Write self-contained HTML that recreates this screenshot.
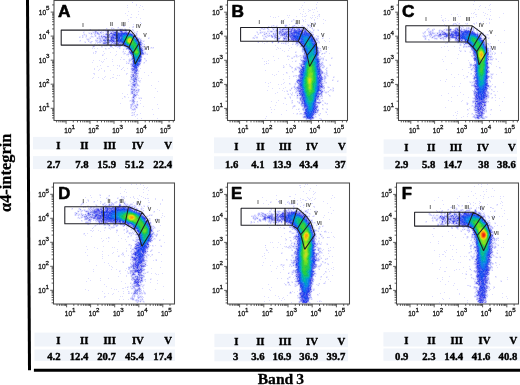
<!DOCTYPE html>
<html lang="en"><head><meta charset="utf-8"><title>Band 3 / α4-integrin flow cytometry</title>
<style>
html,body{margin:0;padding:0;background:#fff}
body{width:520px;height:385px;overflow:hidden}
svg{display:block}
.t{font:6.5px "Liberation Sans",sans-serif;fill:#111;stroke:#111;stroke-width:.28px}
.s{font-size:6.2px}
.g{font:bold 5.3px "Liberation Sans",sans-serif;fill:#4a4a4a;text-anchor:middle}
.L{font:bold 17.3px "Liberation Sans",sans-serif;fill:#000;stroke:#000;stroke-width:.6px;stroke-linejoin:round}
.n{font:bold 10.7px "Liberation Serif",serif;fill:#000;stroke:#000;stroke-width:.4px;text-anchor:end}
.b{font:bold 15.6px "Liberation Serif",serif;fill:#000;stroke:#000;stroke-width:.3px;word-spacing:-.8px}
.y{font:bold 16.4px "Liberation Serif",serif;fill:#000;stroke:#000;stroke-width:.25px}
</style></head><body>
<svg width="520" height="385" viewBox="0 0 520 385">
<rect width="520" height="385" fill="#fff"/>
<rect x="33" y="136.9" width="140" height="12.5" fill="#f0f4fa"/>
<rect x="33" y="156.1" width="140" height="13" fill="#f0f4fa"/>
<text class="n" x="60.4" y="148.6">I</text>
<text class="n" x="60.4" y="168.1">2.7</text>
<text class="n" x="88.5" y="148.6">II</text>
<text class="n" x="88.5" y="168.1">7.8</text>
<text class="n" x="116" y="148.6">III</text>
<text class="n" x="116" y="168.1">15.9</text>
<text class="n" x="143.8" y="148.6">IV</text>
<text class="n" x="143.8" y="168.1">51.2</text>
<text class="n" x="172" y="148.6">V</text>
<text class="n" x="172" y="168.1">22.4</text>
<rect x="214" y="137.4" width="132.5" height="15.8" fill="#f0f4fa"/>
<rect x="214" y="156.3" width="132.5" height="12.9" fill="#f0f4fa"/>
<text class="n" x="238.3" y="149.8">I</text>
<text class="n" x="238.3" y="168.1">1.6</text>
<text class="n" x="264.6" y="149.8">II</text>
<text class="n" x="264.6" y="168.1">4.1</text>
<text class="n" x="291.4" y="149.8">III</text>
<text class="n" x="291.4" y="168.1">13.9</text>
<text class="n" x="318" y="149.8">IV</text>
<text class="n" x="318" y="168.1">43.4</text>
<text class="n" x="345.6" y="149.8">V</text>
<text class="n" x="345.6" y="168.1">37</text>
<rect x="383.6" y="139.4" width="133.4" height="14.4" fill="#f0f4fa"/>
<rect x="383.6" y="156.7" width="133.4" height="12.7" fill="#f0f4fa"/>
<text class="n" x="408.3" y="150.8">I</text>
<text class="n" x="408.3" y="168.4">2.9</text>
<text class="n" x="435.3" y="150.8">II</text>
<text class="n" x="435.3" y="168.4">5.8</text>
<text class="n" x="462.2" y="150.8">III</text>
<text class="n" x="462.2" y="168.4">14.7</text>
<text class="n" x="489" y="150.8">IV</text>
<text class="n" x="489" y="168.4">38</text>
<text class="n" x="515.8" y="150.8">V</text>
<text class="n" x="515.8" y="168.4">38.6</text>
<rect x="34.5" y="332.6" width="140.5" height="13.9" fill="#f0f4fa"/>
<rect x="34.5" y="349.5" width="140.5" height="11.4" fill="#f0f4fa"/>
<text class="n" x="60.5" y="344.2">I</text>
<text class="n" x="60.5" y="359.7">4.2</text>
<text class="n" x="88.4" y="344.2">II</text>
<text class="n" x="88.4" y="359.7">12.4</text>
<text class="n" x="115.9" y="344.2">III</text>
<text class="n" x="115.9" y="359.7">20.7</text>
<text class="n" x="143.8" y="344.2">IV</text>
<text class="n" x="143.8" y="359.7">45.4</text>
<text class="n" x="172" y="344.2">V</text>
<text class="n" x="172" y="359.7">17.4</text>
<rect x="214.4" y="333.8" width="133.6" height="13.3" fill="#f0f4fa"/>
<rect x="214.4" y="349.6" width="133.6" height="11.7" fill="#f0f4fa"/>
<text class="n" x="238.3" y="344.8">I</text>
<text class="n" x="238.3" y="359.9">3</text>
<text class="n" x="264.5" y="344.8">II</text>
<text class="n" x="264.5" y="359.9">3.6</text>
<text class="n" x="291.3" y="344.8">III</text>
<text class="n" x="291.3" y="359.9">16.9</text>
<text class="n" x="318" y="344.8">IV</text>
<text class="n" x="318" y="359.9">36.9</text>
<text class="n" x="345.3" y="344.8">V</text>
<text class="n" x="345.3" y="359.9">39.7</text>
<rect x="383.4" y="332.2" width="136.6" height="14.3" fill="#f0f4fa"/>
<rect x="383.4" y="348.5" width="136.6" height="12.3" fill="#f0f4fa"/>
<text class="n" x="408.4" y="344.2">I</text>
<text class="n" x="408.4" y="359.7">0.9</text>
<text class="n" x="435.6" y="344.2">II</text>
<text class="n" x="435.6" y="359.7">2.3</text>
<text class="n" x="463" y="344.2">III</text>
<text class="n" x="463" y="359.7">14.4</text>
<text class="n" x="490.4" y="344.2">IV</text>
<text class="n" x="490.4" y="359.7">41.6</text>
<text class="n" x="517.3" y="344.2">V</text>
<text class="n" x="517.3" y="359.7">40.8</text>
<g transform="translate(0,.5)" fill="none" shape-rendering="crispEdges">
<path stroke="#ddf" d="M0 0m474 1h1m-171 1h1m12 0h1m-182 2h1m179 0h1m156 0h1m16 0h1m-364 1h1m8 0h1m3 0h1m161 0h1m177 0h1m8 0h1m-348 1h1m336 0h1m-353 1h1m11 0h1m161 0h1m14 0h1m168 0h1m-170 1h1m-174 1h1m155 0h1m3 0h1m4 0h1m3 0h1m1 0h1m160 0h1m2 0h1m9 0h1m1 0h1m-182 1h2m-183 1h1m9 0h1m164 0h1m4 0h1m8 0h1m172 0h1m-178 1h1m160 0h1m8 0h1m-359 1h1m174 0h1m4 0h1m165 0h1m1 0h1m11 0h1m17 0h1m-373 1h1m6 0h1m163 0h1m148 0h1m5 0h1m17 0h2m10 0h1m-361 1h1m159 0h1m1 0h1m16 0h1m5 0h1m1 0h1m126 0h1m42 0h1m5 0h1m-221 1h1m7 0h1m17 0h1m5 0h1m1 0h2m11 0h1m1 0h1m138 0h1m1 0h1m15 0h1m-347 1h2m4 0h1m136 0h1m1 0h1m12 0h1m21 0h1m1 0h1m2 0h1m125 0h1m29 0h1m1 0h1m25 0h1m-360 1h1m170 0h1m5 0h1m127 0h1m8 0h1m31 0h1m2 0h1m-362 1h1m155 0h1m17 0h1m2 0h1m8 0h1m8 0h1m167 0h1m-178 1h1m10 0h1m119 0h1m2 0h1m-321 1h1m153 0h2m19 0h1m1 0h1m137 0h1m39 0h1m-344 1h1m169 0h1m3 0h2m141 0h1m18 0h1m3 0h1m8 0h1m-349 1h1m181 0h1m129 0h2m10 0h1m7 0h2m1 0h1m9 0h1m2 0h1m-357 1h1m155 0h1m7 0h1m9 0h1m4 0h1m2 0h1m128 0h1m29 0h1m-352 1h1m160 0h1m8 0h1m4 0h1m157 0h1m3 0h1m-337 1h1m161 0h1m7 0h2m5 0h2m-174 1h1m2 0h2m151 0h2m2 0h1m6 0h2m158 0h2m5 0h1m2 0h1m6 0h1m-206 1h1m4 0h2m1 0h1m4 0h1m22 0h2m144 0h1m7 0h1m8 0h1m1 0h2m1 0h1m4 0h1m-359 1h1m4 0h1m139 0h1m12 0h1m155 0h1m25 0h1m2 0h1m4 0h3m2 0h1m-367 1h1m6 0h2m3 0h1m3 0h1m9 0h1m142 0h1m1 0h1m1 0h1m153 0h1m6 0h1m1 0h2m7 0h1m52 0h1m-411 1h1m10 0h1m3 0h1m8 0h1m8 0h1m140 0h1m6 0h1m2 0h1m28 0h1m121 0h1m1 0h2m11 0h1m4 0h1m24 0h1m13 0h1m-395 1h1m3 0h1m3 0h1m3 0h1m1 0h1m152 0h1m9 0h1m3 0h1m1 0h1m32 0h1m114 0h1m2 0h1m2 0h1m1 0h1m3 0h2m1 0h1m5 0h3m26 0h1m-382 1h1m1 0h1m2 0h2m4 0h1m2 0h2m23 0h1m126 0h1m3 0h2m8 0h1m36 0h1m9 0h1m107 0h1m8 0h1m-348 1h1m3 0h1m1 0h1m36 0h2m129 0h1m10 0h3m156 0h3m43 0h1m-383 1h1m2 0h4m162 0h1m1 0h1m1 0h2m4 0h1m34 0h1m2 0h1m5 0h1m107 0h1m11 0h1m39 0h1m12 0h1m-414 1h1m15 0h1m1 0h1m165 0h1m2 0h1m3 0h1m2 0h1m3 0h2m1 0h1m148 0h1m2 0h1m1 0h1m3 0h1m1 0h1m-347 1h2m1 0h1m170 0h1m152 0h2m5 0h1m1 0h2m3 0h3m3 0h1m2 0h1m35 0h1m-386 1h1m2 0h1m1 0h1m5 0h1m143 0h1m21 0h1m13 0h1m25 0h1m1 0h1m11 0h1m107 0h1m4 0h1m1 0h1m6 0h1m30 0h1m-384 1h1m1 0h2m162 0h1m10 0h2m1 0h1m156 0h1m12 0h1m33 0h1m-396 1h1m10 0h1m2 0h1m221 0h1m173 0h1m-407 1h1m4 0h1m5 0h1m168 0h1m11 0h1m3 0h1m2 0h1m24 0h1m8 0h1m3 0h1m-239 1h1m10 0h1m159 0h1m22 0h2m8 0h1m22 0h1m138 0h1m4 0h2m36 0h1m3 0h1m-410 1h1m1 0h1m4 0h1m5 0h3m1 0h1m151 0h1m30 0h1m149 0h1m14 0h1m3 0h1m20 0h1m4 0h1m-397 1h1m8 0h3m6 0h2m28 0h1m153 0h2m167 0h3m-376 1h1m3 0h1m8 0h1m3 0h1m2 0h1m162 0h1m12 0h1m175 0h1m3 0h1m-367 1h1m14 0h1m326 0h1m2 0h1m6 0h1m10 0h1m1 0h1m-356 1h1m4 0h1m1 0h1m5 0h1m16 0h2m133 0h1m13 0h1m36 0h1m112 0h1m17 0h1m6 0h1m-375 1h1m1 0h1m2 0h1m10 0h2m3 0h1m164 0h1m1 0h1m8 0h1m29 0h1m139 0h1m-333 1h1m15 0h1m132 0h1m213 0h1m-363 1h1m153 0h1m5 0h1m159 0h1m10 0h1m11 0h1m-376 1h1m6 0h1m12 0h1m8 0h1m17 0h1m140 0h1m34 0h1m152 0h1m16 0h1m3 0h1m-401 1h1m16 0h1m33 0h1m157 0h2m168 0h1m16 0h1m11 0h1m-409 1h1m1 0h1m8 0h1m20 0h1m2 0h1m15 0h1m158 0h1m15 0h1m9 0h1m142 0h1m28 0h1m-386 1h1m9 0h1m17 0h1m158 0h1m17 0h1m136 0h1m33 0h1m1 0h1m-380 1h1m186 0h1m169 0h1m-345 1h1m2 0h1m141 0h1m15 0h1m8 0h1m3 0h1m16 0h1m4 0h1m120 0h1m25 0h1m1 0h1m-353 1h1m9 0h1m170 0h1m16 0h1m153 0h1m15 0h1m1 0h1m-386 1h1m155 0h1m15 0h1m12 0h1m28 0h1m1 0h1m134 0h1m32 0h1m2 0h1m-390 1h1m7 0h1m7 0h1m2 0h2m5 0h1m157 0h1m12 0h2m139 0h1m30 0h1m15 0h1m-397 1h1m5 0h1m31 0h1m136 0h1m5 0h1m45 0h1m147 0h1m-368 1h1m1 0h1m8 0h1m13 0h1m14 0h1m122 0h1m1 0h1m25 0h1m8 0h1m141 0h1m30 0h1m23 0h1m-407 1h1m9 0h1m218 0h1m147 0h1m5 0h1m12 0h2m-222 1h1m31 0h1m21 0h1m128 0h1m22 0h1m-335 1h1m123 0h1m21 0h1m2 0h1m183 0h1m14 0h1m2 0h1m-392 1h1m12 0h1m3 0h1m1 0h1m163 0h1m38 0h1m149 0h1m15 0h1m-392 1h1m9 0h2m10 0h1m201 0h1m1 0h1m146 0h1m2 0h1m22 0h1m-374 1h1m7 0h1m6 0h1m152 0h1m8 0h1m167 0h3m18 0h1m-396 1h1m6 0h1m15 0h1m4 0h1m4 0h1m12 0h1m157 0h1m174 0h1m-380 1h1m4 0h1m199 0h1m21 0h1m3 0h1m120 0h1m15 0h1m9 0h1m15 0h1m-391 1h1m5 0h1m5 0h1m13 0h1m6 0h1m6 0h1m126 0h1m28 0h1m176 0h1m2 0h1m-371 1h1m26 0h1m146 0h1m47 0h1m-183 1h1m6 0h1m171 0h1m144 0h1m5 0h1m14 0h1m11 0h1m-409 1h2m31 0h2m4 0h1m166 0h1m23 0h1m3 0h1m-234 1h1m18 0h1m12 0h1m10 0h1m134 0h1m3 0h1m6 0h1m41 0h1m125 0h1m6 0h1m15 0h1m21 0h1m-380 1h1m1 0h1m11 0h1m16 0h1m125 0h1m20 0h1m167 0h1m10 0h1m13 0h1m-384 1h1m183 0h1m32 0h1m150 0h1m-381 1h1m4 0h1m5 0h1m7 0h2m182 0h1m26 0h1m130 0h1m18 0h1m15 0h1m1 0h1m-400 1h1m9 0h1m7 0h1m5 0h1m20 0h1m3 0h1m147 0h1m33 0h1m140 0h1m23 0h1m-386 1h1m26 0h1m6 0h1m145 0h1m12 0h1m26 0h1m122 0h1m26 0h1m-342 1h1m4 0h1m2 0h1m155 0h1m25 0h1m1 0h1m115 0h1m33 0h1m-317 1h1m286 0h1m-181 1h1m4 0h1m13 0h1m11 0h1m25 0h1m2 0h1m147 0h1m29 0h1m-367 1h1m130 0h1m14 0h1m13 0h1m162 0h1m27 0h1m-211 1h1m2 0h1m191 0h1m14 0h1m3 0h1m-362 1h1m4 0h1m14 0h1m171 0h2m164 0h1m-354 1h1m131 0h1m183 0h1m1 0h1m4 0h1m13 0h1m15 0h1m-359 1h1m2 0h1m150 0h1m9 0h1m33 0h1m158 0h1m6 0h1m-362 1h2m19 0h1m116 0h1m6 0h1m3 0h1m190 0h1m13 0h1m-354 1h3m156 0h1m27 0h1m166 0h1m-359 1h1m135 0h1m14 0h1m13 0h1m32 0h1m142 0h1m14 0h1m-352 1h2m19 0h1m126 0h1m38 0h1m164 0h1m4 0h2m2 0h1m-221 1h1m14 0h1m3 0h1m1 0h1m161 0h1m12 0h1m-352 1h1m12 0h3m137 0h1m14 0h1m1 0h1m5 0h1m23 0h1m125 0h1m24 0h1m-347 1h1m169 0h2m23 0h1m5 0h1m134 0h1m9 0h1m14 0h1m-351 1h1m155 0h1m3 0h1m21 0h1m1 0h1m118 0h1m15 0h1m-326 1h1m164 0h1m2 0h1m20 0h1m152 0h1m-347 1h1m7 0h1m17 0h1m144 0h1m19 0h1m131 0h1m16 0h1m26 0h1m8 0h1m-383 1h1m9 0h1m157 0h1m6 0h1m24 0h1m164 0h1m11 0h1m-366 1h1m164 0h1m174 0h1m-344 1h1m2 0h1m5 0h1m137 0h1m39 0h1m129 0h1m13 0h1m10 0h1m12 0h1m8 0h1m-365 1h1m139 0h1m28 0h1m16 0h4m130 0h1m9 0h1m25 0h1m14 0h1m-371 1h1m143 0h1m21 0h1m173 0h1m1 0h1m-355 1h1m19 0h1m142 0h1m190 0h1m11 0h1m-354 1h1m2 0h1m20 0h1m128 0h1m13 0h1m16 0h1m156 0h1m-345 1h1m1 0h1m3 0h1m138 0h1m198 0h1m11 0h1m12 0h1m-370 1h1m12 0h1m157 0h1m16 0h1m154 0h1m-343 1h1m3 0h1m1 0h1m132 0h1m174 0h1m38 0h1m-355 1h1m4 0h1m22 0h1m133 0h1m9 0h1m14 0h1m151 0h1m4 0h1m-323 1h1m118 0h1m2 0h1m21 0h1m188 0h1m-353 1h1m152 0h1m198 0h1m14 0h1m-366 1h1m163 0h1m18 0h1m138 0h1m27 0h1m-215 1h1m31 0h1m151 0h1m28 0h1m-345 1h1m152 0h1m9 0h1m12 0h1m140 0h1m10 0h1m6 0h2m-324 1h1m127 0h1m36 0h1m8 0h1m139 0h1m5 0h1m16 0h1m-360 1h1m182 0h1m138 0h1m2 0h1m18 0h1m7 0h1m-349 1h1m130 0h1m196 0h1m3 0h1m7 0h1m7 0h1m2 0h1m-173 1h1m146 0h1m11 0h1m10 0h2m-349 1h1m3 0h1m15 0h1m107 0h1m39 0h1m13 0h2m135 0h1m23 0h2m-175 1h1m4 0h1m165 0h1m-348 65h1m4 0h1m3 0h1m164 0h1m1 0h1m170 0h1m2 0h1m5 0h1m-345 1h1m155 0h2m15 0h1m-13 1h1m169 0h1m6 0h1m-362 1h1m23 0h1m2 0h1m-11 1h1m8 0h1m163 0h1m181 0h1m-368 1h1m17 0h1m342 0h1m-339 1h1m160 0h1m184 0h1m-371 1h1m178 0h1m9 0h1m157 0h1m11 0h1m2 0h1m-361 1h1m16 0h1m171 0h1m-196 1h1m185 0h1m7 0h1m160 0h1m-329 1h1m147 0h1m17 0h1m170 0h1m-395 1h1m48 0h1m136 0h1m55 0h1m140 0h1m6 0h1m-355 1h1m6 0h1m7 0h1m147 0h2m168 0h1m8 0h1m14 0h1m7 0h1m1 0h1m6 0h1m2 0h1m-419 1h1m5 0h1m8 0h1m29 0h1m2 0h1m9 0h1m118 0h1m44 0h1m4 0h1m21 0h1m103 0h1m49 0h1m-381 1h1m15 0h1m9 0h1m2 0h1m9 0h2m6 0h1m138 0h1m5 0h1m7 0h1m1 0h1m4 0h1m15 0h1m125 0h1m18 0h1m6 0h1m16 0h1m-363 1h1m16 0h1m6 0h1m113 0h1m25 0h2m10 0h1m-218 1h1m10 0h2m30 0h1m7 0h1m13 0h1m103 0h1m27 0h1m2 0h1m2 0h1m5 0h1m4 0h1m122 0h1m7 0h1m-355 1h1m199 0h1m34 0h1m155 0h1m21 0h1m-416 1h1m27 0h1m1 0h1m16 0h1m14 0h2m139 0h1m11 0h1m165 0h1m1 0h1m3 0h1m28 0h1m-420 1h1m16 0h1m8 0h1m1 0h1m1 0h1m11 0h1m34 0h1m102 0h1m33 0h1m13 0h2m14 0h1m142 0h1m4 0h1m3 0h1m20 0h1m-395 1h1m1 0h1m1 0h1m13 0h1m1 0h1m5 0h1m3 0h1m23 0h1m107 0h1m16 0h1m5 0h1m151 0h1m13 0h1m12 0h1m16 0h1m-385 1h2m1 0h2m4 0h1m5 0h1m2 0h1m1 0h2m2 0h2m1 0h1m342 0h1m5 0h1m1 0h1m20 0h1m-418 1h1m17 0h1m4 0h3m1 0h3m13 0h1m4 0h2m6 0h1m171 0h2m-230 1h1m10 0h1m6 0h1m29 0h1m1 0h1m167 0h1m10 0h1m15 0h1m119 0h1m25 0h1m3 0h1m10 0h1m-403 1h1m1 0h2m1 0h1m39 0h2m1 0h1m5 0h1m5 0h1m134 0h1m14 0h1m140 0h1m29 0h1m5 0h1m15 0h2m7 0h1m-423 1h1m4 0h1m3 0h1m1 0h1m66 0h1m131 0h1m20 0h1m150 0h1m7 0h1m11 0h1m-402 1h2m3 0h5m1 0h1m67 0h1m127 0h1m1 0h2m6 0h1m7 0h1m27 0h1m102 0h1m25 0h2m12 0h1m27 0h1m-428 1h1m11 0h1m48 0h1m1 0h1m135 0h1m5 0h1m17 0h1m6 0h1m134 0h1m12 0h1m4 0h1m3 0h1m2 0h3m12 0h1m7 0h1m-405 1h1m54 0h1m120 0h1m13 0h2m1 0h1m1 0h1m24 0h1m21 0h1m104 0h1m7 0h1m9 0h1m2 0h1m1 0h1m4 0h1m11 0h1m3 0h1m2 0h1m-406 1h1m1 0h1m84 0h1m98 0h1m2 0h1m5 0h1m1 0h1m7 0h1m50 0h1m108 0h1m1 0h1m5 0h1m2 0h1m1 0h1m3 0h1m23 0h1m22 0h1m-429 1h1m1 0h1m3 0h1m1 0h1m1 0h1m57 0h1m112 0h1m2 0h1m5 0h1m1 0h2m36 0h1m122 0h1m11 0h2m1 0h1m2 0h1m3 0h2m4 0h1m23 0h1m-401 1h1m1 0h2m77 0h1m92 0h1m4 0h2m11 0h1m50 0h1m105 0h1m11 0h1m6 0h1m32 0h1m10 0h1m-413 1h3m80 0h1m87 0h1m1 0h1m6 0h1m12 0h1m33 0h1m3 0h1m186 0h1m2 0h1m-357 1h1m14 0h1m92 0h2m1 0h1m50 0h1m14 0h1m111 0h1m2 0h1m45 0h1m-401 1h1m177 0h1m175 0h1m46 0h1m-393 1h2m54 0h1m116 0h1m1 0h1m60 0h1m110 0h1m5 0h1m60 0h1m-245 1h2m3 0h1m41 0h1m1 0h1m124 0h1m48 0h1m-401 1h4m7 0h1m167 0h1m6 0h4m34 0h1m1 0h1m175 0h1m-400 1h2m177 0h2m1 0h1m3 0h1m1 0h1m4 0h1m160 0h2m6 0h1m-354 1h1m6 0h1m6 0h1m4 0h1m167 0h1m24 0h1m129 0h1m2 0h2m5 0h1m38 0h1m-403 1h1m12 0h2m1 0h1m5 0h1m3 0h1m2 0h1m2 0h1m147 0h1m9 0h1m4 0h1m4 0h1m1 0h1m21 0h1m125 0h1m6 0h1m8 0h1m1 0h2m-353 1h1m3 0h1m5 0h2m6 0h1m28 0h1m8 0h1m281 0h2m11 0h1m34 0h1m6 0h1m6 0h1m-392 1h1m12 0h2m1 0h2m21 0h1m288 0h1m19 0h1m32 0h1m6 0h1m-409 1h1m58 0h1m116 0h1m10 0h1m10 0h1m20 0h1m6 0h1m132 0h1m5 0h1m3 0h1m1 0h1m1 0h1m-315 1h1m125 0h1m13 0h1m140 0h2m16 0h1m15 0h1m2 0h1m20 0h1m-382 1h1m21 0h1m334 0h2m-379 1h2m1 0h1m4 0h1m5 0h1m29 0h1m24 0h1m135 0h1m-204 1h1m7 0h1m25 0h1m9 0h1m178 0h1m5 0h1m126 0h1m19 0h1m3 0h1m-357 1h1m12 0h2m3 0h1m17 0h1m175 0h1m2 0h1m140 0h1m20 0h1m-407 1h1m36 0h1m5 0h1m153 0h1m11 0h1m175 0h1m19 0h1m-340 1h1m2 0h1m275 0h1m38 0h1m21 0h1m13 0h1m-423 1h1m32 0h1m17 0h1m18 0h1m7 0h1m288 0h1m18 0h1m21 0h1m-403 1h1m45 0h1m15 0h1m127 0h1m51 0h1m99 0h1m8 0h1m30 0h1m19 0h1m-357 1h1m151 0h2m3 0h1m20 0h1m12 0h2m4 0h1m120 0h1m7 0h1m-363 1h1m4 0h1m14 0h1m15 0h1m147 0h1m187 0h1m23 0h1m-373 1h1m27 0h1m139 0h1m1 0h1m19 0h1m155 0h1m21 0h1m1 0h2m-394 1h1m34 0h1m157 0h1m173 0h2m2 0h1m18 0h1m4 0h1m4 0h1m-402 1h1m5 0h1m9 0h1m7 0h1m24 0h1m144 0h1m141 0h1m53 0h1m-357 1h1m13 0h1m13 0h1m105 0h1m1 0h1m5 0h1m15 0h1m1 0h1m24 0h1m108 0h1m62 0h1m9 0h1m-369 1h1m149 0h1m9 0h2m19 0h1m121 0h1m30 0h1m-321 1h1m130 0h1m14 0h1m-147 1h2m4 0h1m138 0h2m154 0h1m2 0h1m10 0h1m10 0h1m-390 1h1m16 0h1m30 0h1m14 0h1m134 0h1m9 0h1m21 0h1m154 0h1m21 0h2m-401 1h1m17 0h1m1 0h1m150 0h1m7 0h1m3 0h1m9 0h1m5 0h3m19 0h2m1 0h1m11 0h1m2 0h1m159 0h1m7 0h1m1 0h1m-407 1h1m28 0h1m6 0h1m14 0h1m133 0h1m32 0h1m12 0h1m145 0h2m16 0h1m-406 1h1m29 0h1m16 0h1m131 0h1m28 0h1m21 0h1m1 0h1m3 0h1m128 0h1m3 0h1m18 0h1m-350 1h1m4 0h1m1 0h1m13 0h1m118 0h2m27 0h1m21 0h1m1 0h1m2 0h1m7 0h1m103 0h1m11 0h1m45 0h1m4 0h1m-396 1h1m14 0h1m8 0h1m3 0h1m2 0h1m160 0h1m149 0h1m-360 1h1m27 0h1m19 0h1m24 0h2m108 0h1m49 0h1m1 0h1m124 0h1m10 0h1m18 0h1m-364 1h1m19 0h1m13 0h1m117 0h1m63 0h1m163 0h1m-391 1h1m18 0h1m9 0h1m16 0h1m12 0h1m277 0h1m2 0h2m-357 1h1m20 0h1m19 0h1m2 0h3m12 0h1m117 0h1m30 0h1m21 0h1m5 0h1m-222 1h1m21 0h1m20 0h1m4 0h1m111 0h1m66 0h1m2 0h1m106 0h1m5 0h1m6 0h1m7 0h1m3 0h1m1 0h1m6 0h1m17 0h1m-174 1h1m178 0h1m-396 1h1m28 0h1m133 0h1m209 0h1m-345 1h1m24 0h1m137 0h1m155 0h1m2 0h1m-301 1h1m165 0h1m120 0h1m-352 1h1m26 0h1m44 0h1m110 0h1m43 0h3m-215 1h1m27 0h1m11 0h1m118 0h1m68 0h1m125 0h1m1 0h1m14 0h1m-368 1h1m23 0h1m161 0h1m32 0h1m104 0h1m58 0h1m1 0h1m-201 1h2m179 0h1m17 0h1m6 0h1m-404 1h1m12 0h1m36 0h2m114 0h1m7 0h1m23 0h1m24 0h1m155 0h1m13 0h1m6 0h1m-386 1h1m165 0h1m4 0h1m6 0h1m30 0h1m148 0h1m5 0h1m13 0h1m-378 1h1m47 0h1m122 0h1m32 0h1m16 0h1m106 0h1m5 0h1m16 0h1m33 0h1m-372 1h1m1 0h1m1 0h1m12 0h1m7 0h1m124 0h1m38 0h1m10 0h1m4 0h1m143 0h1m-383 1h1m17 0h1m4 0h1m12 0h1m153 0h1m11 0h1m32 0h1m4 0h1m105 0h1m16 0h1m2 0h1m30 0h1m-366 1h1m18 0h1m169 0h2m138 0h1m16 0h1m3 0h1m-383 1h1m33 0h1m143 0h1m20 0h1m36 0h1m114 0h2m20 0h1m22 0h1m-348 1h1m137 0h1m208 0h1m-370 1h1m10 0h1m3 0h1m8 0h1m6 0h1m3 0h1m6 0h1m132 0h1m28 0h1m137 0h1m-332 1h1m5 0h1m4 0h1m13 0h1m1 0h1m136 0h1m27 0h1m165 0h1m-364 1h1m187 0h1m17 0h1m155 0h1m-371 1h1m7 0h1m5 0h2m161 0h1m153 0h1m38 0h1m-358 1h1m11 0h1m149 0h1m148 0h1m64 0h1m-420 1h1m11 0h1m7 0h1m22 0h1m145 0h1m3 0h1m155 0h1m27 0h1m10 0h1m-333 1h1m149 0h1m25 0h1m7 0h1m113 0h1m33 0h1m30 0h1m-418 1h1m9 0h1m32 0h1m23 0h1m330 0h1m-403 1h1m34 0h1m11 0h1m11 0h1m179 0h1m4 0h1m109 0h1m7 0h1m26 0h1m12 0h2m-349 1h1m8 0h1m136 0h1m8 0h2m190 0h1m-364 1h1m13 0h2m16 0h1m126 0h1m12 0h1m25 0h1m130 0h1m33 0h1m-385 1h1m28 0h1m6 0h1m127 0h1m28 0h1m18 0h1m128 0h1m30 0h1m10 0h1m-356 1h2m156 0h1m4 0h1m157 0h1m13 0h2m-363 1h1m33 0h1m22 0h1m311 0h1m-351 1h1m11 0h1m133 0h1m27 0h1m178 0h1m9 0h1m-378 1h1m10 0h2m9 0h1m3 0h1m5 0h1m118 0h1m36 0h1m175 0h1m1 0h1m10 0h1m4 0h1m-409 1h1m28 0h1m1 0h1m10 0h1m6 0h1m20 0h1m113 0h1m44 0h1m142 0h1m19 0h1m12 0h1m-403 1h1m51 0h1m2 0h1m126 0h1m205 0h1m10 0h1m-386 1h1m15 0h1m4 0h1m19 0h1m148 0h1m4 0h1m2 0h1m186 0h1m-355 1h1m5 0h2m153 0h1m4 0h1m11 0h1m132 0h1m-341 1h1m3 0h1m4 0h1m9 0h1m5 0h1m11 0h1m148 0h1m28 0h1m120 0h1m18 0h1m26 0h1m15 0h1m-391 1h1m22 0h2m2 0h1m319 0h1m32 0h1m-360 1h1m141 0h1m11 0h1m11 0h1m187 0h1m-384 1h2m14 0h1m1 0h1m10 0h1m4 0h2m1 0h1m122 0h1m13 0h1m20 0h1m132 0h1m73 0h1m-403 1h1m26 0h1m2 0h1m2 0h1m2 0h1m2 0h1m124 0h1m14 0h1m180 0h1m11 0h1m9 0h1m15 0h1m-405 1h1m180 0h1m2 0h1m27 0h2m130 0h1m6 0h1m26 0h1m9 0h1m20 0h1m-389 1h1m3 0h1m4 0h1m2 0h1m5 0h1m3 0h1m21 0h1m120 0h1m14 0h1m143 0h1m-304 1h2m127 0h1m11 0h1m185 0h1m9 0h1m8 0h1m-351 1h2m1 0h1m124 0h1m52 0h1m3 0h1m-31 1h1m8 0h2m6 0h1m130 0h1m27 0h1m18 0h1m-185 1h1m176 0h1m2 0h2"/>
<path stroke="#ccf" d="M0 0m132 2h1m186 12h1m-27 5h1m195 0h1m-187 1h1m138 0h1m-152 1h1m-11 1h1m14 1h1m14 0h1m143 0h1m3 0h1m7 0h1m-15 1h1m2 0h1m-333 1h1m148 0h1m28 0h1m7 0h1m-188 1h1m9 0h1m134 0h1m2 0h1m4 0h1m19 0h1m6 0h1m142 0h1m15 0h1m-345 1h1m155 0h1m17 0h2m8 0h1m7 0h1m149 0h1m7 0h1m-363 1h1m4 0h1m1 0h1m147 0h2m1 0h1m7 0h1m4 0h1m4 0h1m2 0h1m9 0h1m11 0h1m4 0h1m115 0h1m37 0h1m-377 1h1m41 0h1m130 0h1m4 0h1m33 0h2m1 0h2m120 0h1m4 0h1m1 0h1m9 0h1m8 0h2m5 0h1m-363 1h1m4 0h1m1 0h1m2 0h1m7 0h1m2 0h1m13 0h1m126 0h1m24 0h3m18 0h2m1 0h1m3 0h1m4 0h1m122 0h1m11 0h1m8 0h1m8 0h2m3 0h1m-376 1h1m9 0h1m7 0h1m3 0h1m6 0h1m6 0h1m129 0h1m4 0h1m1 0h1m9 0h1m140 0h1m2 0h1m12 0h1m1 0h1m15 0h1m19 0h1m-397 1h1m9 0h1m2 0h1m4 0h1m1 0h1m6 0h1m1 0h1m15 0h1m1 0h1m3 0h1m122 0h1m4 0h1m1 0h1m11 0h1m1 0h1m32 0h2m111 0h1m-336 1h1m11 0h1m5 0h1m170 0h1m144 0h1m7 0h1m2 0h1m4 0h1m1 0h1m41 0h1m-400 1h1m9 0h1m8 0h1m29 0h1m124 0h1m15 0h1m5 0h1m157 0h1m43 0h1m4 0h1m-406 1h1m3 0h1m19 0h1m148 0h1m6 0h1m4 0h1m156 0h1m2 0h1m1 0h1m13 0h1m36 0h1m4 0h1m-400 1h1m4 0h2m2 0h1m6 0h1m33 0h1m131 0h1m8 0h1m4 0h1m30 0h1m3 0h2m104 0h2m5 0h1m-352 1h1m2 0h1m16 0h1m1 0h1m1 0h1m149 0h1m2 0h2m8 0h1m7 0h1m2 0h2m1 0h1m8 0h1m155 0h1m35 0h1m4 0h1m-397 1h1m13 0h1m2 0h2m39 0h1m105 0h1m8 0h2m11 0h1m11 0h1m29 0h1m3 0h1m111 0h1m10 0h1m4 0h1m1 0h2m29 0h1m4 0h1m-402 1h2m50 0h1m143 0h1m3 0h1m29 0h1m107 0h1m2 0h1m14 0h1m6 0h1m-371 1h1m14 0h3m41 0h1m144 0h2m1 0h1m28 0h1m132 0h1m13 0h1m-376 1h1m2 0h1m4 0h1m3 0h1m1 0h1m38 0h1m1 0h1m123 0h1m7 0h1m18 0h1m23 0h1m137 0h1m2 0h1m-375 1h1m4 0h1m6 0h2m159 0h1m29 0h1m27 0h2m1 0h1m127 0h1m16 0h1m-184 1h1m1 0h1m1 0h1m13 0h1m187 0h1m-374 1h1m29 0h1m147 0h1m2 0h1m2 0h1m1 0h1m159 0h1m27 0h1m-390 1h1m4 0h1m10 0h1m7 0h1m173 0h1m2 0h1m159 0h1m25 0h1m-393 1h1m6 0h1m14 0h1m6 0h1m17 0h1m321 0h2m25 0h1m-344 1h1m3 0h1m1 0h1m309 0h1m23 0h1m7 0h1m-391 1h1m13 0h1m24 0h1m175 0h1m169 0h1m-368 1h1m194 0h1m169 0h1m-346 1h1m176 0h1m169 0h1m-396 1h1m27 0h1m202 0h1m133 0h1m4 0h1m22 0h1m1 0h1m-363 1h1m16 0h1m149 0h1m174 0h1m-347 1h1m4 0h1m15 0h1m178 0h1m167 0h1m2 0h1m-369 1h1m2 0h1m16 0h1m342 0h1m-389 1h1m193 0h1m3 0h1m170 0h1m-185 1h1m6 0h1m1 0h1m21 0h1m1 0h1m151 0h1m-172 1h1m-171 1h1m9 0h1m2 0h1m147 0h1m28 0h1m1 0h1m7 0h1m-203 1h1m170 0h1m2 0h1m19 0h1m168 0h1m3 0h1m-356 1h1m4 0h1m179 0h1m161 0h1m-360 1h1m165 0h1m-156 1h1m3 0h1m-19 1h1m139 0h1m32 0h1m1 0h1m18 0h1m167 0h1m1 0h1m-361 1h1m169 0h1m20 0h1m-191 1h1m7 0h1m180 0h1m2 0h1m6 0h1m-41 1h1m9 0h1m23 0h1m-193 1h1m150 0h1m8 0h1m4 0h1m22 0h1m153 0h1m24 0h1m-174 1h1m145 0h1m15 0h1m-368 1h1m174 0h1m2 1h1m26 0h1m-195 1h1m4 0h2m153 0h1m-162 1h1m154 0h1m-154 1h1m4 0h1m185 0h1m1 0h1m144 0h1m-338 1h1m191 0h1m164 0h2m-197 1h1m27 0h1m2 0h1m145 0h1m-344 1h2m4 0h1m156 0h1m173 0h1m23 0h1m-355 1h1m160 0h1m25 0h1m8 0h1m-202 1h1m5 0h1m352 0h1m-195 1h1m26 0h1m-187 1h1m193 0h1m156 0h1m-360 1h1m8 0h1m184 0h1m12 0h1m135 0h1m16 0h1m-356 1h1m190 0h1m143 0h1m1 0h1m1 0h1m-344 1h2m156 0h1m5 0h1m27 0h1m-188 1h1m158 0h1m-168 1h1m3 0h1m5 0h1m332 0h1m-339 1h1m1 0h1m161 0h1m192 0h1m4 0h1m-173 1h1m4 0h1m145 0h1m14 0h1m-358 1h1m163 0h1m24 0h2m1 0h1m8 0h1m-195 1h1m157 0h1m32 0h1m156 0h1m3 0h1m-360 1h1m2 0h1m1 0h1m152 0h1m31 0h1m1 0h1m8 0h1m141 0h1m-343 1h2m3 0h1m148 0h1m9 0h1m30 0h1m-196 1h1m161 0h1m23 0h1m5 0h2m-194 1h2m162 0h1m189 0h1m3 0h1m-357 1h1m1 0h1m150 0h1m2 0h1m-156 1h1m182 0h1m9 0h1m165 0h1m-372 1h1m10 0h1m183 0h1m2 0h1m-189 1h1m155 0h1m6 0h1m176 0h1m12 0h1m4 0h1m-360 1h1m5 0h1m1 0h1m143 0h1m13 0h1m21 0h1m151 0h1m-344 2h1m161 0h1m29 0h1m151 0h1m10 0h1m-349 1h1m159 0h1m174 0h1m15 0h1m-355 1h1m157 0h1m193 0h1m-354 1h2m164 0h1m17 0h1m7 0h1m1 0h1m139 0h1m-338 1h1m191 0h1m144 0h1m-334 1h1m159 0h1m177 0h1m-340 1h1m2 0h1m156 0h2m179 0h1m10 0h1m-356 1h1m172 0h1m-173 1h1m190 0h1m161 0h1m-350 1h1m162 0h1m18 0h1m9 0h1m139 0h1m23 0h1m-6 1h1m-183 1h1m170 0h1m7 0h1m2 0h1m-355 1h1m1 0h1m191 0h1m156 0h1m-187 1h1m2 0h2m13 0h1m4 0h1m151 0h1m-339 1h1m2 0h1m345 0h1m-352 1h1m171 0h1m14 0h1m-7 1h1m1 0h1m169 0h1m-3 1h1m2 0h1m-11 1h1m-156 1h1m-22 68h1m-201 8h1m8 0h1m11 1h1m1 1h1m-18 1h1m10 0h1m27 0h1m-24 1h1m186 0h1m-222 1h1m30 0h1m185 0h1m-212 1h1m5 0h1m15 0h1m-34 1h1m27 0h1m3 0h1m8 0h1m145 0h1m16 0h1m192 0h1m-399 1h1m21 0h1m14 0h1m16 0h1m152 0h1m2 0h1m-212 1h1m20 0h1m9 0h1m14 0h1m2 0h2m8 0h1m156 0h1m199 0h1m-402 1h1m16 0h1m11 0h1m8 0h1m4 0h1m163 0h1m154 0h1m3 0h1m-376 1h1m8 0h1m1 0h1m8 0h1m13 0h1m9 0h1m3 0h1m8 0h1m2 0h1m145 0h1m6 0h1m-218 1h1m9 0h2m9 0h1m346 0h1m26 0h1m11 0h1m-419 1h1m6 0h1m8 0h1m6 0h1m3 0h1m41 0h1m152 0h1m161 0h1m12 0h1m1 0h1m8 0h2m-390 1h2m9 0h1m30 0h1m6 0h1m129 0h1m18 0h1m17 0h1m139 0h1m7 0h1m5 0h1m-381 1h1m54 0h1m5 0h1m139 0h2m11 0h1m4 0h1m4 0h1m135 0h1m11 0h1m5 0h1m13 0h1m6 0h1m-401 1h1m72 0h1m114 0h2m4 0h1m4 0h1m2 0h1m3 0h2m1 0h1m15 0h1m8 0h1m121 0h1m1 0h1m1 0h1m9 0h1m2 0h1m11 0h1m27 0h1m-420 1h1m11 0h1m173 0h1m22 0h1m17 0h1m136 0h1m23 0h1m10 0h1m-394 1h1m9 0h1m175 0h1m1 0h1m7 0h2m30 0h1m119 0h1m15 0h1m10 0h1m1 0h1m2 0h1m21 0h1m-405 1h1m3 0h1m178 0h2m6 0h1m8 0h1m150 0h1m15 0h1m3 0h1m2 0h1m30 0h1m-410 1h1m2 0h1m6 0h1m5 0h1m57 0h1m1 0h1m102 0h1m8 0h1m11 0h1m30 0h1m124 0h1m1 0h1m2 0h2m2 0h1m4 0h1m2 0h1m9 0h1m24 0h2m-397 1h2m54 0h1m1 0h2m103 0h1m1 0h1m1 0h1m4 0h1m5 0h1m6 0h1m35 0h1m3 0h1m125 0h1m7 0h1m40 0h1m-411 1h1m3 0h1m5 0h1m174 0h1m168 0h1m1 0h1m10 0h1m39 0h1m3 0h1m4 0h1m-416 1h1m9 0h4m56 0h1m106 0h1m22 0h1m152 0h1m1 0h2m1 0h1m2 0h1m5 0h2m-364 1h1m2 0h2m6 0h1m50 0h1m9 0h1m97 0h1m5 0h1m48 0h1m131 0h1m5 0h1m37 0h1m-405 1h1m11 0h1m2 0h1m50 0h1m1 0h1m120 0h1m161 0h1m7 0h1m5 0h1m42 0h1m-394 1h1m154 0h1m5 0h1m2 0h1m7 0h1m1 0h1m6 0h1m2 0h1m30 0h1m114 0h1m14 0h1m1 0h1m1 0h1m2 0h1m1 0h2m34 0h1m-402 1h1m2 0h1m9 0h1m9 0h2m39 0h1m101 0h1m2 0h1m19 0h1m37 0h1m1 0h1m124 0h1m1 0h1m5 0h2m40 0h1m-400 1h1m11 0h1m1 0h1m1 0h1m163 0h1m13 0h1m3 0h1m28 0h1m128 0h1m7 0h1m40 0h1m-408 1h1m8 0h1m19 0h1m172 0h1m166 0h1m-363 1h1m17 0h1m9 0h1m153 0h1m1 0h1m36 0h1m127 0h1m-292 1h1m135 0h2m1 0h1m26 0h1m2 0h1m120 0h1m4 0h1m-344 1h1m5 0h4m17 0h1m21 0h1m134 0h1m23 0h1m137 0h1m38 0h2m-400 1h1m16 0h1m16 0h1m26 0h1m130 0h1m27 0h1m5 0h2m132 0h1m4 0h1m-334 1h1m6 0h1m20 0h1m139 0h1m1 0h1m18 0h1m148 0h1m6 0h1m-354 1h2m9 0h1m7 0h1m180 0h1m-183 1h1m22 0h1m131 0h2m5 0h1m21 0h1m5 0h2m135 0h1m-336 1h1m5 0h1m4 0h1m13 0h1m162 0h1m153 0h1m-385 1h1m46 0h1m1 0h1m3 0h1m154 0h2m197 0h1m1 0h1m-359 1h1m18 0h1m2 0h1m139 0h1m167 0h1m-335 1h1m5 0h1m157 0h1m177 0h1m-346 1h1m27 0h1m158 0h2m4 0h1m145 0h1m3 0h1m-364 1h1m27 0h1m156 0h1m29 0h1m3 0h1m139 0h1m3 0h1m-334 1h1m15 0h1m141 0h1m22 0h1m176 0h1m1 0h1m-213 1h1m29 0h1m175 0h1m-360 1h1m2 0h1m22 0h1m130 0h1m205 0h1m-360 1h2m156 0h1m19 0h1m2 0h1m153 1h1m21 0h1m-204 1h1m27 0h1m175 0h1m-367 1h1m186 0h1m3 0h1m6 0h1m145 0h1m18 0h1m-362 1h1m3 0h1m16 0h1m112 0h1m25 0h1m4 0h1m18 0h1m154 0h1m27 0h1m-338 1h1m124 0h1m2 0h1m2 0h1m-5 1h1m1 0h1m26 0h1m-188 1h1m163 0h2m24 0h1m149 0h1m2 0h1m20 0h1m-349 1h1m345 0h1m-358 1h1m10 0h1m4 0h1m140 0h1m22 0h1m12 0h1m-198 1h1m18 0h1m320 0h1m-157 1h1m5 0h1m147 0h1m-348 1h1m8 0h1m149 0h1m192 0h1m22 0h1m-375 1h1m23 0h1m4 0h1m141 0h2m21 0h1m158 0h1m14 0h1m-344 1h1m142 0h2m200 0h1m-376 1h1m14 0h2m9 0h1m171 0h1m2 0h1m151 0h1m2 0h1m-329 1h1m146 0h1m178 0h2m22 0h1m3 0h1m-369 1h1m11 0h1m172 0h1m3 0h1m5 0h1m144 0h1m17 0h1m-361 1h1m155 0h1m30 0h1m7 0h1m143 0h1m-338 1h1m13 0h1m9 0h1m134 0h1m183 0h1m-342 1h1m158 0h1m28 0h1m167 0h1m-368 1h1m19 0h1m1 0h1m145 0h2m32 0h1m169 0h1m-366 1h1m14 0h1m146 0h1m181 0h1m-343 1h1m10 0h2m136 0h1m8 0h1m30 0h1m6 0h1m-198 1h1m13 0h1m137 0h1m36 0h1m-30 1h1m26 0h2m170 0h1m-361 1h1m1 0h1m10 0h1m347 0h2m-361 1h1m163 0h1m-169 1h1m190 0h1m156 0h1m-183 1h1m197 0h1m-374 1h1m22 0h1m150 0h2m30 0h1m-195 1h1m15 0h1m145 0h1m20 0h1m-187 1h1m12 0h1m3 0h1m330 0h1m-185 1h1m21 0h1m151 0h1m4 0h1m4 0h1m-344 1h5m-4 1h1m7 0h1m1 0h1m170 0h1m5 0h1m173 0h1m-207 1h1m36 0h1m144 0h1m-337 1h1m151 0h1m7 0h1m17 0h1m159 0h1m-342 1h1m7 0h1m4 0h1m4 0h1m145 0h1m178 0h1m-344 1h1m163 0h1m16 0h1m160 1h1m1 0h1m24 0h1m-369 1h1m158 0h1m182 0h1m13 0h1m-360 1h1m188 0h1m4 0h1m-193 1h1m1 0h2m3 0h1m1 0h1m143 0h1m3 0h1m5 0h1m181 0h1m8 0h1m-347 1h1m2 0h1m152 0h2m1 0h1m18 0h1m168 0h1m-358 1h1m11 0h1m152 0h1m3 0h1m170 0h1m3 0h1m-348 1h1m10 0h1m172 0h1m177 0h1m4 0h1m-364 1h1m3 0h1m4 0h1m170 0h1m166 0h1m-166 1h1m164 0h1m-345 1h1m6 0h1m158 0h1m10 0h1m1 0h1m175 0h1m-362 1h1m9 0h1m2 1h1m2 0h1m330 0h1m-348 1h1m2 0h1m10 0h1m1 0h2m164 0h1m-177 1h1m182 0h1m168 0h2m-356 1h1m5 0h1m158 0h1m-166 1h1m4 0h1m4 0h1m166 0h1m164 0h1m1 0h2m8 0h1m-346 1h1m156 0h1m179 0h1m-349 1h1m11 0h1m-7 1h1m3 0h1m168 0h1m1 0h1m-177 1h1m1 0h1m0 1h1m4 0h1m175 0h1m164 0h1m-348 1h1m171 0h1m168 0h1m-176 1h2m1 0h1m173 0h2"/>
<path stroke="#eef" d="M0 0m318 14h1m-1 1h2m-26 4h1m147 0h2m-153 1h4m148 0h1m-164 1h2m10 0h1m-13 1h1m31 1h1m143 0h1m1 0h1m7 0h1m-182 1h2m8 0h2m11 0h2m1 0h1m140 0h1m1 0h2m1 0h3m6 0h2m-197 1h2m1 0h1m1 0h2m9 0h1m4 0h1m2 0h1m5 0h1m5 0h1m1 0h1m135 0h2m5 0h2m3 0h1m-326 1h1m136 0h1m2 0h4m1 0h1m6 0h1m2 0h3m1 0h1m5 0h4m3 0h1m2 0h4m134 0h1m13 0h3m-351 1h2m4 0h1m142 0h3m4 0h1m1 0h1m1 0h3m1 0h3m1 0h2m1 0h3m5 0h1m14 0h3m1 0h1m1 0h2m142 0h1m2 0h2m1 0h2m4 0h1m1 0h1m1 0h2m-366 1h1m4 0h1m1 0h1m2 0h6m1 0h2m134 0h1m2 0h1m1 0h2m8 0h1m2 0h1m27 0h1m4 0h1m115 0h1m1 0h1m3 0h2m10 0h5m1 0h1m2 0h1m4 0h2m1 0h4m8 0h1m-386 1h1m8 0h2m3 0h7m1 0h8m4 0h1m9 0h1m125 0h4m2 0h1m1 0h1m1 0h1m2 0h1m1 0h1m3 0h1m28 0h2m3 0h3m2 0h2m107 0h1m1 0h2m9 0h2m2 0h1m1 0h1m6 0h1m21 0h1m1 0h2m-389 1h2m3 0h4m1 0h1m2 0h1m1 0h1m5 0h2m15 0h1m3 0h1m127 0h1m7 0h8m3 0h1m29 0h1m1 0h1m3 0h1m2 0h1m108 0h6m6 0h1m5 0h2m6 0h1m21 0h1m2 0h1m-395 1h2m7 0h2m3 0h4m1 0h3m23 0h2m1 0h4m1 0h1m119 0h2m2 0h6m3 0h1m3 0h1m34 0h2m1 0h3m110 0h1m8 0h1m4 0h1m1 0h1m4 0h4m27 0h2m2 0h1m-397 1h1m3 0h5m6 0h1m5 0h1m3 0h1m21 0h3m1 0h3m118 0h1m2 0h1m3 0h1m1 0h6m1 0h3m38 0h1m108 0h2m10 0h3m39 0h1m1 0h3m1 0h2m-401 1h2m3 0h1m1 0h1m1 0h2m8 0h3m29 0h2m1 0h1m119 0h3m1 0h1m1 0h1m3 0h2m3 0h1m39 0h2m108 0h1m1 0h2m2 0h1m6 0h2m43 0h3m-400 1h1m1 0h2m3 0h1m1 0h1m3 0h1m3 0h3m1 0h1m32 0h1m119 0h1m5 0h1m2 0h7m150 0h2m3 0h1m3 0h3m48 0h1m1 0h2m1 0h1m-406 1h3m5 0h1m2 0h1m1 0h1m1 0h1m1 0h1m36 0h1m116 0h1m8 0h4m12 0h1m37 0h2m103 0h2m2 0h1m1 0h1m3 0h2m52 0h3m-410 1h2m2 0h1m1 0h1m4 0h1m2 0h2m1 0h1m40 0h1m116 0h4m4 0h3m2 0h1m2 0h1m8 0h1m34 0h2m106 0h1m3 0h2m1 0h1m1 0h1m4 0h1m5 0h1m39 0h1m2 0h2m-407 1h1m2 0h1m1 0h2m2 0h5m2 0h1m41 0h2m8 0h2m102 0h1m1 0h2m7 0h3m1 0h1m5 0h1m7 0h2m32 0h4m3 0h2m99 0h1m2 0h1m2 0h2m4 0h3m44 0h1m2 0h1m1 0h3m-404 1h4m6 0h1m43 0h2m7 0h1m102 0h1m3 0h2m7 0h1m7 0h1m6 0h1m1 0h1m40 0h1m100 0h1m1 0h1m4 0h3m5 0h1m6 0h2m36 0h1m4 0h1m-404 1h1m2 0h1m5 0h4m42 0h1m121 0h2m9 0h2m6 0h1m35 0h1m105 0h1m1 0h1m2 0h1m4 0h2m1 0h1m2 0h3m2 0h2m1 0h1m2 0h1m2 0h1m29 0h1m-406 1h1m7 0h1m1 0h1m8 0h1m43 0h3m130 0h3m1 0h1m2 0h1m35 0h1m109 0h2m13 0h2m3 0h1m1 0h1m3 0h1m29 0h1m-406 1h2m3 0h2m3 0h2m4 0h1m2 0h1m43 0h1m1 0h1m112 0h2m7 0h1m4 0h1m1 0h1m2 0h2m1 0h1m2 0h2m5 0h2m26 0h1m1 0h1m128 0h2m5 0h1m-372 1h1m4 0h1m5 0h2m4 0h1m40 0h1m114 0h1m8 0h2m3 0h1m1 0h1m3 0h1m1 0h1m1 0h4m2 0h1m4 0h3m151 0h1m12 0h2m24 0h1m-396 1h2m7 0h3m41 0h1m128 0h1m4 0h2m3 0h1m1 0h1m1 0h3m3 0h2m23 0h3m126 0h2m9 0h3m1 0h2m23 0h1m-389 1h2m2 0h1m4 0h2m34 0h1m141 0h2m6 0h1m5 0h1m17 0h1m141 0h1m1 0h1m1 0h1m22 0h2m1 0h1m-397 1h2m3 0h1m4 0h1m3 0h1m5 0h1m28 0h3m151 0h1m1 0h2m17 0h1m141 0h1m1 0h1m1 0h1m1 0h3m19 0h4m-399 1h1m11 0h4m1 0h1m2 0h1m1 0h1m6 0h2m21 0h1m1 0h2m148 0h2m1 0h1m18 0h1m170 0h1m-398 1h2m7 0h2m7 0h2m6 0h1m1 0h1m3 0h1m19 0h1m1 0h1m3 0h1m1 0h1m146 0h2m18 0h1m144 0h2m1 0h3m18 0h1m1 0h1m3 0h1m-389 1h1m13 0h1m2 0h3m17 0h1m1 0h1m4 0h4m147 0h1m168 0h1m18 0h1m1 0h1m2 0h2m-391 1h2m17 0h2m19 0h1m155 0h1m17 0h2m149 0h1m18 0h1m1 0h1m-369 1h1m20 0h1m156 0h1m17 0h1m1 0h1m138 0h2m2 0h2m4 0h1m18 0h1m1 0h1m-370 1h1m5 0h1m15 0h2m149 0h2m4 0h1m18 0h2m3 0h1m135 0h1m2 0h1m4 0h3m19 0h1m-397 1h2m25 0h3m171 0h1m23 0h1m3 0h3m142 0h1m20 0h3m1 0h2m-373 1h1m3 0h1m18 0h2m173 0h1m1 0h1m1 0h1m163 0h3m2 0h1m-393 1h2m19 0h2m4 0h1m15 0h2m148 0h2m5 0h1m16 0h1m2 0h1m149 0h1m16 0h1m1 0h1m-389 1h1m22 0h3m1 0h1m11 0h2m143 0h2m6 0h1m1 0h1m1 0h1m1 0h1m17 0h1m169 0h3m-350 1h1m145 0h1m4 0h1m1 0h1m1 0h1m1 0h3m190 0h1m-351 1h1m148 0h4m1 0h2m2 0h1m19 0h4m7 0h2m139 0h1m19 0h1m-364 1h2m14 0h1m154 0h3m29 0h1m156 0h1m1 0h2m2 0h2m-369 1h1m15 0h2m175 0h1m3 0h2m168 0h1m-368 1h1m16 0h1m149 0h2m3 0h1m21 0h2m1 0h1m147 0h1m15 0h4m-365 1h1m1 0h2m13 0h2m149 0h1m3 0h1m19 0h3m165 0h1m-363 1h4m1 0h1m9 0h1m1 0h1m157 0h1m18 0h1m2 0h1m166 0h2m-365 1h1m1 0h2m12 0h2m178 0h1m145 0h3m1 0h1m15 0h1m1 0h1m-193 1h1m23 0h1m5 0h2m138 0h1m2 0h1m-343 1h1m9 0h1m148 0h2m8 0h1m24 0h1m4 0h1m139 0h1m-340 1h1m8 0h1m143 0h2m4 0h1m1 0h1m4 0h4m22 0h1m148 0h2m16 0h1m-206 1h1m10 0h2m24 0h1m2 0h1m1 0h2m144 0h1m27 0h1m-371 1h1m7 0h1m152 0h2m1 0h1m1 0h2m23 0h3m3 0h1m143 0h1m17 0h1m9 0h2m-371 1h1m7 0h1m155 0h1m3 0h1m27 0h1m143 0h1m2 0h1m-335 1h1m155 0h2m1 0h1m23 0h1m4 0h1m144 0h2m15 0h1m-360 1h1m8 0h1m153 0h1m4 0h1m24 0h1m3 0h1m145 0h1m-344 1h1m7 0h1m148 0h1m4 0h2m4 0h1m25 0h2m1 0h1m145 0h1m-343 1h1m154 0h2m37 0h1m144 0h1m17 0h1m1 0h4m-364 1h1m7 0h1m159 0h1m23 0h3m2 0h1m142 0h2m1 0h1m14 0h1m1 0h1m2 0h1m-364 1h1m7 0h1m154 0h2m2 0h1m24 0h2m1 0h2m1 0h1m143 0h1m16 0h4m-355 1h1m155 0h4m25 0h1m2 0h3m4 0h2m131 0h1m5 0h1m17 0h1m-361 1h1m7 0h2m186 0h1m7 0h1m131 0h2m22 0h1m1 0h1m-363 1h1m8 0h1m157 0h1m28 0h1m145 0h1m19 0h1m-355 1h1m186 0h1m6 0h2m154 0h2m-361 1h3m7 0h1m183 0h1m1 0h1m7 0h1m3 0h2m134 0h1m16 0h1m-362 1h1m1 0h2m4 0h2m1 0h1m182 0h1m1 0h1m12 0h1m130 0h4m15 0h2m-360 1h2m5 0h1m1 0h2m154 0h1m27 0h2m144 0h1m1 0h1m16 0h3m-361 1h1m159 0h1m3 0h1m1 0h1m27 0h3m144 0h3m-346 1h4m6 0h1m150 0h2m3 0h1m1 0h2m25 0h1m147 0h2m-344 1h2m8 0h1m154 0h2m1 0h1m192 0h2m-362 1h1m6 0h3m153 0h1m1 0h2m27 0h1m2 0h2m142 0h2m18 0h1m2 0h1m-204 1h3m33 0h1m4 0h2m139 0h1m16 0h1m3 0h1m-365 1h1m5 0h3m153 0h1m1 0h1m37 0h1m156 0h2m-361 1h1m158 0h3m3 0h1m27 0h2m6 0h3m154 0h1m3 0h1m-363 1h1m155 0h2m1 0h1m5 0h1m27 0h1m6 0h3m140 0h1m17 0h2m-363 1h1m8 0h1m146 0h1m8 0h1m28 0h4m4 0h2m-204 1h1m4 0h1m2 0h1m158 0h1m25 0h2m2 0h2m160 0h1m-360 1h1m156 0h2m6 0h2m28 0h2m162 0h2m-361 1h3m154 0h1m4 0h1m3 0h1m193 0h2m2 0h2m-364 1h1m4 0h1m153 0h2m3 0h1m33 0h1m142 0h1m15 0h1m4 0h1m-370 1h1m10 0h1m152 0h2m5 0h1m1 0h2m29 0h2m158 0h1m-366 1h2m5 0h1m3 0h1m2 0h4m142 0h2m3 0h1m6 0h1m1 0h1m21 0h3m149 0h2m15 0h1m1 0h1m-361 1h1m3 0h1m2 0h1m1 0h1m143 0h1m11 0h1m1 0h1m20 0h2m151 0h1m15 0h1m2 0h2m-362 1h1m3 0h1m184 0h1m152 0h1m13 0h1m-359 1h1m161 0h1m7 0h1m17 0h1m2 0h1m2 0h1m148 0h1m14 0h1m-359 1h2m4 0h2m154 0h2m5 0h2m21 0h3m-193 1h1m4 0h2m153 0h1m5 0h1m2 0h1m20 0h1m2 0h2m140 0h2m19 0h2m-358 1h1m4 0h2m153 0h2m5 0h1m1 0h1m19 0h1m3 0h1m1 0h1m139 0h1m1 0h1m3 0h2m-340 1h2m2 0h1m179 0h2m3 0h1m2 0h2m138 0h1m19 0h1m-354 1h1m4 0h1m154 0h1m1 0h1m4 0h1m17 0h1m3 0h2m147 0h1m1 0h1m-342 1h1m1 0h1m2 0h1m154 0h1m2 0h1m175 0h2m13 0h1m-355 1h3m157 0h2m8 0h1m15 0h1m154 0h1m12 0h1m-355 1h2m2 0h2m160 0h2m18 0h1m4 0h1m2 0h2m145 0h1m12 0h1m-356 1h1m167 0h1m22 0h2m2 0h1m141 0h1m4 0h1m12 0h1m3 0h1m-360 1h2m1 0h2m166 0h1m16 0h1m147 0h2m4 0h1m16 0h2m-189 1h1m21 0h2m147 0h1m-344 1h1m1 0h1m184 0h1m6 0h1m148 0h1m10 0h2m-356 1h4m161 0h1m2 0h1m2 0h1m14 0h1m1 0h1m151 0h1m-340 1h2m2 0h1m159 0h2m1 0h4m13 0h1m2 0h2m150 0h2m1 0h1m9 0h1m-352 1h2m1 0h2m164 0h2m11 0h1m2 0h1m154 0h1m-172 1h1m11 0h1m1 0h1m155 0h1m11 0h1m2 0h1m-186 1h1m12 0h2m155 0h1m14 0h1m-185 1h2m9 0h1m6 0h1m152 0h1m10 0h1m-181 1h1m7 0h1m6 0h1m154 0h3m1 0h6m-176 1h3m-213 74h2m-2 1h1m8 0h1m-1 1h2m12 0h3m-19 1h2m9 0h2m2 0h2m1 0h1m-18 1h1m10 0h1m2 0h3m-37 1h2m30 0h3m-35 1h1m32 0h1m-28 1h1m7 0h1m13 0h1m1 0h1m6 0h2m144 0h2m7 0h1m7 0h1m-206 1h1m10 0h2m5 0h2m2 0h2m6 0h1m4 0h1m1 0h2m2 0h1m1 0h1m10 0h2m133 0h1m6 0h2m8 0h1m-208 1h1m20 0h2m1 0h1m2 0h1m1 0h1m3 0h3m3 0h1m2 0h1m2 0h2m2 0h3m4 0h1m150 0h1m1 0h1m2 0h1m-214 1h1m1 0h2m11 0h2m7 0h2m8 0h1m3 0h1m2 0h1m1 0h1m4 0h2m9 0h1m149 0h2m1 0h2m9 0h2m191 0h1m-417 1h2m5 0h2m6 0h1m1 0h1m4 0h1m11 0h4m4 0h1m8 0h3m1 0h2m1 0h1m1 0h1m2 0h2m2 0h2m144 0h2m9 0h1m154 0h1m1 0h1m34 0h2m-415 1h2m3 0h1m1 0h6m1 0h1m1 0h4m8 0h1m24 0h1m1 0h2m3 0h1m4 0h1m145 0h1m156 0h2m5 0h2m1 0h2m-379 1h1m3 0h2m2 0h1m2 0h1m2 0h2m36 0h1m4 0h2m150 0h2m157 0h1m2 0h2m13 0h2m7 0h1m1 0h1m-411 1h1m6 0h1m1 0h1m57 0h1m1 0h1m1 0h1m127 0h2m17 0h2m1 0h1m2 0h1m159 0h1m1 0h1m20 0h2m2 0h1m-412 1h2m5 0h1m2 0h1m1 0h1m1 0h1m1 0h1m50 0h1m1 0h1m1 0h1m127 0h1m14 0h3m3 0h2m1 0h2m4 0h2m5 0h1m139 0h1m5 0h3m1 0h1m2 0h1m2 0h1m2 0h3m1 0h1m3 0h1m1 0h1m3 0h1m1 0h1m-406 1h3m3 0h1m54 0h5m126 0h3m1 0h3m1 0h3m12 0h3m3 0h3m3 0h1m2 0h2m6 0h2m124 0h1m5 0h2m1 0h1m2 0h1m1 0h5m5 0h1m4 0h1m11 0h1m11 0h2m-417 1h2m1 0h1m1 0h1m57 0h2m9 0h1m119 0h1m7 0h1m19 0h4m3 0h1m7 0h1m119 0h1m1 0h1m1 0h1m8 0h1m2 0h2m2 0h2m3 0h3m6 0h4m3 0h4m14 0h1m-422 1h1m2 0h2m1 0h2m3 0h1m56 0h2m9 0h2m103 0h3m2 0h1m4 0h4m2 0h2m4 0h1m23 0h2m2 0h1m127 0h3m1 0h1m1 0h1m1 0h2m2 0h1m3 0h1m28 0h1m1 0h2m-411 1h1m3 0h3m1 0h1m2 0h2m57 0h1m112 0h1m2 0h1m4 0h2m1 0h1m4 0h3m28 0h5m1 0h1m117 0h1m1 0h1m12 0h1m3 0h1m4 0h1m29 0h1m1 0h1m-411 1h1m2 0h1m2 0h1m68 0h4m101 0h2m11 0h1m6 0h1m34 0h2m117 0h1m2 0h1m1 0h2m1 0h3m1 0h1m2 0h1m1 0h1m36 0h2m-410 1h1m1 0h2m1 0h2m63 0h1m1 0h3m1 0h1m1 0h1m98 0h3m2 0h2m1 0h1m14 0h1m32 0h3m3 0h2m114 0h1m2 0h1m1 0h2m2 0h2m3 0h1m41 0h1m1 0h2m-411 1h1m1 0h1m64 0h1m2 0h1m107 0h4m54 0h1m117 0h7m46 0h1m1 0h1m1 0h1m3 0h2m-418 1h1m1 0h2m2 0h1m63 0h1m104 0h1m5 0h1m2 0h2m46 0h1m123 0h1m2 0h2m50 0h1m4 0h1m-417 1h2m1 0h2m65 0h2m1 0h1m5 0h2m94 0h1m5 0h3m48 0h1m121 0h1m1 0h1m2 0h1m47 0h1m3 0h2m-398 1h1m54 0h2m1 0h1m6 0h1m95 0h1m2 0h3m2 0h1m5 0h1m42 0h3m119 0h2m1 0h1m2 0h2m46 0h1m-405 1h1m1 0h4m3 0h1m2 0h1m55 0h1m103 0h2m2 0h1m2 0h2m3 0h2m165 0h1m1 0h1m3 0h1m47 0h2m-408 1h2m2 0h1m5 0h1m3 0h1m53 0h2m99 0h1m2 0h2m3 0h2m1 0h1m5 0h1m15 0h1m141 0h1m6 0h2m2 0h2m1 0h2m48 0h1m-395 1h3m53 0h1m98 0h1m1 0h2m3 0h2m13 0h1m6 0h2m3 0h1m26 0h1m1 0h1m1 0h1m1 0h2m106 0h2m13 0h1m49 0h1m3 0h2m-411 1h5m6 0h2m11 0h3m39 0h1m98 0h2m17 0h1m1 0h1m1 0h6m2 0h1m4 0h1m24 0h5m2 0h1m118 0h3m50 0h1m3 0h1m-406 1h1m6 0h1m1 0h1m3 0h1m3 0h1m3 0h1m7 0h1m32 0h1m126 0h3m3 0h2m26 0h2m2 0h2m121 0h1m5 0h5m1 0h2m37 0h1m-397 1h1m1 0h1m6 0h1m2 0h2m2 0h1m7 0h1m1 0h2m3 0h2m25 0h2m124 0h1m1 0h1m8 0h1m23 0h1m3 0h1m4 0h2m115 0h3m6 0h2m3 0h2m36 0h1m-398 1h2m12 0h5m1 0h2m1 0h1m4 0h1m1 0h1m29 0h1m158 0h1m6 0h1m2 0h1m113 0h2m3 0h1m1 0h1m4 0h1m9 0h2m31 0h1m-389 1h1m3 0h3m15 0h3m1 0h2m21 0h1m1 0h1m127 0h2m29 0h1m3 0h1m1 0h1m134 0h1m9 0h1m27 0h1m-390 1h2m2 0h1m1 0h4m13 0h1m3 0h1m22 0h2m127 0h1m7 0h1m21 0h2m141 0h1m1 0h1m4 0h3m3 0h1m23 0h1m-378 1h2m5 0h1m2 0h2m2 0h1m22 0h1m137 0h1m1 0h1m21 0h2m1 0h2m137 0h2m4 0h1m1 0h2m3 0h1m21 0h1m-370 1h2m1 0h1m1 0h1m1 0h4m19 0h1m3 0h2m131 0h1m3 0h1m22 0h2m6 0h1m134 0h4m2 0h1m3 0h2m20 0h1m-377 1h2m10 0h1m3 0h2m1 0h1m17 0h1m4 0h1m132 0h1m3 0h1m20 0h2m8 0h1m133 0h1m6 0h1m2 0h1m22 0h1m-367 1h2m2 0h1m1 0h1m2 0h1m17 0h1m134 0h7m19 0h1m8 0h3m142 0h1m24 0h1m-412 1h1m44 0h1m3 0h1m2 0h2m17 0h1m1 0h2m133 0h1m2 0h2m20 0h1m2 0h2m143 0h2m5 0h1m22 0h1m-412 1h2m44 0h6m20 0h1m139 0h1m20 0h1m2 0h1m1 0h1m142 0h1m-335 1h1m4 0h1m17 0h2m2 0h1m136 0h1m21 0h1m3 0h3m-196 1h1m2 0h2m4 0h1m18 0h1m137 0h1m28 0h1m143 0h1m1 0h1m-360 1h1m17 0h2m6 0h1m17 0h1m162 0h1m1 0h2m2 0h1m143 0h1m1 0h1m25 0h1m2 0h2m-391 1h2m25 0h2m15 0h2m1 0h1m137 0h1m22 0h1m1 0h1m3 0h2m142 0h2m3 0h2m22 0h1m-364 1h2m1 0h1m16 0h1m1 0h2m3 0h2m124 0h1m8 0h1m178 0h1m23 0h1m-366 1h1m1 0h2m24 0h1m124 0h2m4 0h1m3 0h1m19 0h2m1 0h2m153 0h1m21 0h1m-362 1h1m17 0h1m137 0h2m2 0h1m24 0h1m152 0h2m19 0h3m-361 1h1m15 0h1m139 0h3m1 0h1m20 0h4m153 0h2m20 0h1m-362 1h1m14 0h1m142 0h2m24 0h1m1 0h2m4 0h2m144 0h3m19 0h1m1 0h1m-369 1h1m1 0h1m3 0h1m155 0h2m1 0h1m24 0h2m1 0h1m4 0h1m143 0h3m1 0h1m18 0h6m-371 1h3m3 0h1m18 0h1m6 0h2m127 0h2m1 0h2m23 0h1m154 0h3m18 0h3m1 0h1m-368 1h2m20 0h2m6 0h1m124 0h1m2 0h1m1 0h2m25 0h1m151 0h1m3 0h1m22 0h1m-367 1h2m1 0h1m15 0h1m135 0h2m2 0h1m1 0h2m26 0h2m149 0h2m1 0h1m22 0h1m-366 1h2m155 0h4m1 0h1m22 0h2m3 0h1m149 0h1m21 0h1m1 0h1m-365 1h1m16 0h1m2 0h2m138 0h2m23 0h1m3 0h2m148 0h2m1 0h2m-343 1h1m17 0h1m1 0h1m138 0h1m2 0h1m21 0h1m3 0h1m8 0h1m144 0h1m-343 1h1m15 0h1m2 0h1m163 0h1m2 0h1m2 0h1m6 0h2m140 0h1m3 0h1m18 0h1m-372 1h2m6 0h3m14 0h1m133 0h2m10 0h1m22 0h2m4 0h1m145 0h1m1 0h2m2 0h1m18 0h1m2 0h2m-375 1h1m23 0h1m134 0h1m10 0h1m25 0h4m145 0h2m3 0h1m1 0h1m20 0h1m-375 1h1m22 0h2m2 0h1m1 0h1m139 0h3m25 0h1m153 0h3m17 0h1m-376 1h2m2 0h2m6 0h1m16 0h1m1 0h1m1 0h2m140 0h2m23 0h3m149 0h2m1 0h3m16 0h1m1 0h1m-376 1h1m10 0h1m16 0h1m143 0h4m22 0h1m2 0h1m149 0h1m1 0h1m2 0h1m16 0h5m2 0h2m-371 1h1m14 0h1m1 0h1m144 0h1m1 0h1m22 0h1m1 0h3m149 0h1m2 0h2m16 0h1m2 0h1m3 0h1m-370 1h1m14 0h3m144 0h3m24 0h2m4 0h2m144 0h1m1 0h2m-330 1h2m8 0h1m131 0h1m2 0h2m1 0h1m26 0h1m5 0h2m142 0h1m1 0h3m16 0h1m-362 1h2m15 0h1m7 0h1m130 0h2m2 0h1m1 0h1m176 0h2m3 0h1m16 0h1m-370 1h2m7 0h1m13 0h3m143 0h2m26 0h1m3 0h1m167 0h1m-370 1h1m7 0h2m14 0h1m169 0h1m5 0h3m149 0h1m17 0h1m3 0h1m-366 1h1m14 0h1m144 0h1m24 0h1m3 0h2m2 0h2m2 0h1m144 0h1m21 0h2m-367 1h1m15 0h1m133 0h1m1 0h3m4 0h1m2 0h1m24 0h1m2 0h1m6 0h1m145 0h1m17 0h1m1 0h1m-364 1h1m149 0h3m1 0h1m4 0h4m24 0h2m2 0h1m152 0h1m16 0h1m-364 1h2m162 0h3m22 0h1m174 0h1m-349 1h1m149 0h1m22 0h3m154 0h1m-344 1h1m12 0h1m150 0h1m22 0h2m149 0h2m3 0h1m16 0h2m-363 1h2m13 0h1m147 0h2m19 0h1m3 0h1m150 0h1m5 0h1m15 0h2m-374 1h2m8 0h1m162 0h1m180 0h1m16 0h2m-372 1h1m8 0h1m13 0h2m2 0h2m142 0h1m23 0h1m10 0h1m146 0h1m-347 1h3m13 0h4m1 0h1m139 0h2m1 0h1m2 0h1m20 0h1m9 0h2m147 0h1m-348 1h1m1 0h1m6 0h1m5 0h1m146 0h1m1 0h4m21 0h1m148 0h2m8 0h1m-346 1h1m5 0h1m6 0h2m146 0h1m23 0h2m148 0h1m4 0h1m-341 1h1m13 0h1m149 0h1m20 0h1m154 0h2m3 0h1m13 0h1m-360 1h1m158 0h2m3 0h1m19 0h1m5 0h1m5 0h2m147 0h1m20 0h1m-353 1h1m143 0h1m1 0h1m4 0h1m17 0h1m6 0h2m5 0h1m144 0h1m2 0h1m13 0h1m5 0h2m-354 1h1m6 0h2m136 0h1m182 0h2m1 0h2m13 0h1m-347 1h1m7 0h1m135 0h2m6 0h1m18 0h1m158 0h2m14 0h1m-359 1h1m11 0h3m168 0h1m159 0h3m12 0h1m10 0h2m-359 1h1m143 0h2m2 0h2m1 0h1m205 0h1m-371 1h2m10 0h1m146 0h1m1 0h1m3 0h1m17 0h1m10 0h2m148 0h1m-344 1h2m8 0h1m145 0h3m4 0h3m16 0h1m4 0h1m6 0h1m148 0h1m15 0h1m-360 1h1m10 0h3m141 0h1m1 0h1m5 0h1m1 0h1m16 0h1m3 0h3m154 0h2m12 0h3m-360 1h1m9 0h2m1 0h1m140 0h2m1 0h2m4 0h1m3 0h1m13 0h1m4 0h1m151 0h2m6 0h1m10 0h1m-362 1h2m2 0h1m9 0h1m1 0h1m150 0h1m1 0h1m15 0h1m156 0h1m3 0h1m2 0h3m10 0h1m3 0h2m-367 1h1m1 0h3m2 0h2m3 0h1m1 0h2m168 0h1m160 0h1m19 0h1m-358 1h1m4 0h1m170 0h3m158 0h2m14 0h1m-359 1h3m7 0h1m170 0h1m162 0h1m11 0h3m-357 1h1m178 0h1m1 0h1m160 0h1m12 0h1m-360 1h1m3 0h1m7 0h1m2 0h1m145 0h1m8 0h1m12 0h1m162 0h1m-348 1h2m1 0h2m5 0h1m3 0h2m1 0h1m143 0h1m1 0h1m182 0h1m1 0h1m10 0h1m-356 1h1m5 0h1m4 0h1m145 0h1m1 0h1m6 0h1m12 0h1m162 0h2m11 0h1m-356 1h1m5 0h1m1 0h3m1 0h2m152 0h1m12 0h1m6 0h1m156 0h1m-341 1h1m1 0h1m1 0h3m156 0h1m12 0h1m5 0h2m155 0h1m13 0h1m-358 1h1m3 0h1m161 0h2m12 0h1m-182 1h1m2 0h1m8 0h1m154 0h1m176 0h2m11 0h1m-354 1h1m2 0h1m1 0h3m155 0h2m13 0h1m-183 1h1m3 0h2m2 0h2m3 0h1m166 0h1m1 0h1m173 0h1m-355 1h3m4 0h1m2 0h2m155 0h1m9 0h1m9 0h2m155 0h1m-342 1h1m5 0h2m1 0h1m153 0h1m10 0h1m10 0h1m-185 1h1m1 0h1m1 0h1m2 0h2m153 0h1m11 0h1m166 0h1m-180 1h2m1 0h1m5 0h1m1 0h2m167 0h1m5 0h3"/>
<path stroke="#bbf" d="M0 0m295 23h1m-11 2h2m7 0h1m-3 1h2m-7 1h2m2 0h1m6 0h1m5 0h1m-26 1h2m7 0h1m2 0h1m8 0h2m1 0h1m157 0h1m6 0h1m2 0h1m1 0h1m-352 1h1m2 0h1m150 0h1m2 0h1m1 0h1m18 0h1m145 0h2m3 0h1m6 0h1m4 0h1m2 0h1m6 0h1m-367 1h1m1 0h1m2 0h1m2 0h1m5 0h1m2 0h1m158 0h1m5 0h1m142 0h1m6 0h1m6 0h2m15 0h1m6 0h1m2 0h1m-378 1h1m9 0h1m3 0h1m3 0h1m9 0h1m145 0h1m6 0h1m3 0h1m10 0h1m137 0h1m27 0h1m14 0h1m-214 1h1m22 0h1m25 0h1m119 0h2m1 0h1m6 0h1m1 0h2m2 0h1m31 0h1m-383 1h1m40 0h1m132 0h1m5 0h3m2 0h1m1 0h1m149 0h2m14 0h1m27 0h1m2 0h1m-382 1h2m8 0h1m1 0h2m24 0h1m142 0h1m8 0h1m24 0h1m115 0h1m50 0h1m-386 1h1m5 0h1m8 0h1m25 0h1m132 0h1m15 0h1m1 0h2m142 0h1m2 0h4m6 0h1m36 0h1m-383 1h1m6 0h1m158 0h1m12 0h1m146 0h1m7 0h2m13 0h2m30 0h2m-378 1h1m31 0h1m147 0h1m1 0h1m27 0h1m127 0h2m-345 1h2m1 0h1m35 0h2m147 0h1m2 0h1m25 0h1m108 0h1m9 0h2m4 0h1m1 0h1m-344 1h1m4 0h1m3 0h1m30 0h1m144 0h1m4 0h1m24 0h1m166 0h1m-382 1h1m39 0h1m136 0h1m10 0h1m27 0h1m137 0h1m3 0h1m23 0h1m-385 1h1m1 0h1m4 0h1m171 0h1m8 0h1m7 0h1m165 0h1m-362 1h1m10 0h1m1 0h1m3 0h1m343 0h1m-321 1h2m173 0h1m-211 1h1m2 0h1m5 0h1m-10 1h1m11 0h1m-4 1h1m2 0h1m1 0h1m21 0h2m156 0h1m16 0h1m148 0h1m-341 1h1m343 0h1m17 1h1m-363 1h1m17 0h1m-16 1h1m172 0h1m-1 1h1m19 2h1m-195 1h1m359 1h1m1 1h2m-2 1h1m-3 1h1m-169 1h1m169 0h2m-363 1h1m2 0h1m-1 2h1m189 0h1m151 0h1m-347 1h1m2 0h1m190 1h1m148 0h1m-170 1h1m18 0h1m148 0h1m-340 1h1m356 0h1m-191 1h2m22 0h1m150 0h1m-337 1h1m157 0h1m24 0h1m-26 1h1m175 0h1m2 0h1m-342 2h1m355 0h1m-357 1h1m340 1h1m-344 1h1m189 0h1m165 0h1m-351 1h1m183 0h1m2 1h1m164 0h1m-357 1h1m191 0h1m-195 1h1m192 0h1m-194 1h1m355 0h1m-353 1h1m-3 1h1m188 0h1m-191 1h1m1 0h1m-2 1h2m2 1h1m184 0h1m152 0h1m-339 1h1m334 0h1m-342 1h1m162 0h1m-163 1h2m1 0h2m157 0h1m1 0h1m27 0h1m162 0h1m-357 1h1m159 0h1m3 0h1m27 0h1m-186 1h1m157 0h1m177 0h2m-341 2h1m160 0h1m22 0h1m153 0h1m-340 1h1m1 0h2m184 0h1m163 0h1m1 0h1m-358 1h1m354 0h1m1 0h1m-353 1h1m162 0h1m188 1h1m-169 1h1m167 0h1m-357 1h1m355 0h1m-355 1h1m-3 1h1m185 0h2m166 0h1m-168 1h1m-21 2h1m1 0h1m171 0h1m-342 1h1m183 0h1m168 0h1m-355 1h2m169 0h1m-172 1h1m3 0h1m1 0h1m163 0h1m14 0h1m-186 1h1m3 0h1m166 0h2m180 0h1m-2 1h1m1 0h1m-352 1h1m350 0h1m-354 1h3m167 0h1m1 0h1m13 0h1m156 0h1m-173 1h1m170 0h1m9 0h1m-169 1h1m159 0h1m7 0h1m-168 1h1m166 1h1m-182 1h1m11 0h1m159 0h1m1 0h1m-4 1h1m-172 1h1m169 0h2m7 0h1m-4 1h1m-5 1h1m-170 1h1m2 0h1m-32 82h1m-167 2h1m-10 1h1m7 0h1m1 0h1m11 0h1m-21 1h1m2 0h1m1 0h2m17 0h1m-25 1h1m11 0h2m6 0h1m4 0h1m1 0h1m-43 1h2m8 0h1m9 0h2m-22 1h1m2 0h1m10 0h1m31 0h1m156 0h1m-205 1h1m1 0h1m10 0h1m185 0h1m4 0h1m181 0h1m-392 1h1m5 0h1m12 0h1m184 0h1m2 0h1m169 0h1m4 0h4m-385 1h1m2 0h1m1 0h1m46 0h1m136 0h1m3 0h2m5 0h1m7 0h1m156 0h1m-311 1h1m137 0h1m24 0h1m3 0h1m142 0h1m2 0h1m3 0h1m2 0h1m10 0h1m-380 1h1m165 0h2m11 0h1m7 0h1m1 0h1m159 0h1m2 0h1m10 0h1m18 0h1m2 0h1m-403 1h1m5 0h1m5 0h1m3 0h1m2 0h1m163 0h2m1 0h1m11 0h1m1 0h1m28 0h1m157 0h1m-320 1h1m114 0h1m5 0h1m13 0h1m165 0h1m8 0h1m1 0h1m-363 1h1m168 0h1m180 0h1m10 0h1m26 0h1m-401 1h1m2 0h1m1 0h1m58 0h1m107 0h1m2 0h1m22 0h1m27 0h1m141 0h2m-198 1h1m1 0h1m10 0h1m13 0h1m158 0h1m43 0h1m-393 1h1m163 0h1m6 0h1m7 0h1m37 0h1m127 0h2m6 0h1m7 0h1m-358 1h1m52 0h1m116 0h1m15 0h1m1 0h1m152 0h1m5 0h2m3 0h1m1 0h1m-360 1h1m57 0h1m122 0h1m12 0h1m202 0h1m-402 1h2m12 0h1m1 0h1m167 0h1m2 0h1m4 0h1m176 0h1m1 0h1m29 0h1m-380 1h1m180 0h1m159 0h1m1 0h1m36 0h1m-390 1h1m5 0h1m1 0h1m180 0h1m21 0h1m127 0h1m1 0h1m2 0h1m10 0h1m4 0h1m28 0h1m-373 1h2m32 0h1m139 0h1m1 0h1m145 0h1m-316 1h1m4 0h1m326 0h1m7 0h1m1 0h1m23 0h3m-202 1h1m165 0h1m6 0h1m25 0h1m2 0h1m-1 1h1m-179 1h1m149 0h1m-313 1h1m162 0h1m151 0h3m-343 1h1m341 0h1m22 0h1m-340 1h1m142 0h1m-168 1h1m21 0h1m162 0h2m-20 1h1m-141 1h1m140 0h1m-4 1h1m177 0h1m-322 1h2m143 0h1m175 0h2m18 0h1m-199 1h1m20 0h1m-180 1h2m13 0h1m-15 1h1m14 0h1m341 0h1m-360 1h2m337 0h1m-158 2h1m173 0h1m1 0h1m-200 1h1m22 0h1m-2 1h1m154 0h1m-177 1h1m179 0h1m19 0h1m-348 1h1m147 0h1m194 0h1m2 0h2m-182 1h1m3 0h2m-188 1h2m13 0h1m-14 1h1m161 0h1m-151 1h1m172 0h2m154 0h2m-331 1h1m172 0h1m-2 1h1m172 0h1m-177 1h1m2 0h1m173 0h1m-359 1h1m10 0h1m150 0h1m193 0h2m-361 1h1m14 0h1m168 2h1m2 0h1m-175 1h1m174 0h1m170 0h1m-346 1h1m147 0h1m-162 1h1m162 0h1m178 0h1m-341 1h1m356 0h1m-197 1h1m19 0h1m173 0h1m2 0h1m-362 1h1m358 1h1m-361 1h1m14 0h1m149 0h1m195 0h1m-364 1h1m13 0h1m332 0h1m-347 1h1m3 1h1m8 0h1m170 0h1m156 0h1m-341 1h1m162 0h1m180 0h1m-342 1h1m340 0h1m-345 1h1m5 0h1m155 0h1m182 0h2m-347 1h1m1 0h1m1 0h1m8 0h1m144 0h1m7 0h1m18 0h1m173 0h1m-355 1h1m-5 1h1m6 0h1m4 0h1m151 0h1m-165 1h1m6 0h1m2 0h1m-8 1h1m1 0h1m339 0h1m11 0h1m-355 1h1m5 0h1m1 0h1m153 0h1m-166 1h1m10 0h1m-4 1h1m1 1h1m153 0h1m17 0h1m173 0h1m-349 1h1m172 1h1m162 0h1m-164 1h1m-179 2h1m4 0h1m348 0h1m-15 1h2m1 0h1m-346 1h1m1 0h1m341 0h1m-341 1h1m162 0h1m176 0h1m9 0h1m-349 1h1m160 0h1m-163 1h1m2 0h1m335 0h1m-341 1h1m2 1h2m336 0h1m-345 1h1m3 0h1m161 0h1m-166 1h1m-1 1h1m5 0h1m167 0h1m1 0h1m164 0h1m2 0h1m-347 1h1m6 0h1m171 0h1m165 0h1m-347 1h1m1 0h1m4 0h1m160 0h2m-159 1h1m333 0h1m1 0h1m5 0h1m-349 1h1m1 0h1m160 1h1m177 0h1m8 0h1m-188 1h1m183 0h1m-179 1h1"/>
<path stroke="#aae" d="M0 0m308 25h1m-42 3h1m15 0h2m4 0h2m5 0h1m5 0h1m-182 1h1m151 0h1m6 0h1m9 0h1m2 0h1m162 0h1m7 0h1m-342 1h1m2 0h1m153 0h2m8 0h1m170 0h1m7 0h1m-363 1h1m4 0h2m1 0h1m1 0h1m7 0h1m177 0h1m147 0h1m-345 1h1m21 0h1m159 0h1m159 0h1m-359 1h1m14 0h1m25 0h1m133 0h1m20 0h1m142 0h1m19 0h1m-187 1h1m47 0h1m117 0h1m47 0h2m-205 1h1m5 0h1m163 0h1m-338 1h1m166 0h1m8 0h1m153 0h3m13 0h1m-353 1h1m6 0h1m162 0h1m3 0h1m6 0h1m162 0h1m10 0h1m-361 1h1m359 0h1m-355 1h1m11 0h1m162 0h1m7 0h1m29 0h1m139 0h1m1 0h1m-353 1h1m33 0h1m149 0h1m165 0h1m3 0h1m3 0h1m-361 1h1m181 0h1m5 0h2m163 0h1m2 0h1m1 0h2m-361 1h1m11 0h1m183 0h1m-194 1h1m12 0h1m176 0h1m-187 1h1m6 0h1m3 0h1m194 0h1m168 0h1m-375 1h1m10 0h1m1 0h1m16 0h1m327 0h1m-377 1h1m374 0h2m-328 2h1m175 0h1m-191 1h1m13 0h1m328 0h1m-169 1h1m14 0h1m169 0h1m-346 4h1m329 0h1m-333 1h1m161 0h1m169 0h1m-1 3h1m-343 1h1m9 0h1m177 1h1m-188 3h1m169 0h1m-172 1h1m188 0h1m-21 1h1m2 0h1m16 1h1m153 0h1m-342 1h1m167 0h1m-171 1h1m167 0h3m172 0h1m-154 2h1m166 0h1m-357 2h1m166 0h1m22 1h1m152 0h1m11 0h1m-356 1h1m3 0h1m162 0h1m-165 1h2m161 1h1m-163 2h1m162 0h1m22 0h1m152 0h1m-344 1h1m341 0h1m-339 1h1m337 1h1m-339 1h1m161 0h1m-163 1h1m185 0h1m151 0h1m-343 1h1m187 0h1m-186 1h1m162 0h1m24 1h1m-191 3h1m165 0h1m21 0h1m-189 1h2m163 1h1m175 0h1m12 0h1m-1 1h1m-355 2h1m340 0h2m11 0h1m-355 1h1m165 0h1m21 0h1m152 0h1m12 1h1m-188 1h1m185 0h1m-169 1h1m155 0h1m10 0h1m-185 1h1m183 0h1m-354 1h1m167 0h1m15 0h1m-185 1h1m1 0h1m181 0h1m157 0h1m11 0h1m-11 1h1m-159 1h1m157 0h1m5 0h1m-180 1h1m179 0h1m-182 1h1m14 0h1m164 0h2m-2 1h1m-9 1h1m-172 1h1m179 1h1m-168 1h1m164 0h1m-165 1h1m159 2h1m-2 1h1m1 0h1m-166 1h1m166 2h1m-168 1h1m165 0h1m3 0h1m-173 1h1m-193 85h2m-6 2h1m11 0h1m-27 1h2m23 0h1m2 0h1m2 0h1m-37 1h1m1 0h1m-5 1h1m4 0h1m-8 1h2m6 0h1m32 0h1m151 0h1m-208 1h1m8 0h1m3 0h1m47 0h1m144 0h1m4 0h1m8 0h1m160 0h1m5 0h1m8 0h1m1 0h1m-181 1h1m4 0h1m153 0h1m10 0h1m9 0h1m-390 1h1m54 0h2m118 0h1m13 0h1m24 0h1m1 0h1m174 0h1m1 0h1m-381 1h1m171 0h1m185 0h1m20 0h1m-394 1h1m179 0h1m1 0h1m7 0h1m169 0h2m2 0h1m6 0h1m1 0h1m-369 1h2m182 0h1m173 0h1m34 0h1m-395 1h1m5 0h1m176 0h1m1 0h1m163 0h1m6 0h2m3 0h2m1 0h1m-370 1h1m60 0h1m121 0h1m176 0h1m9 0h1m-370 1h1m3 0h1m10 0h1m167 0h1m175 0h1m-356 1h1m6 0h1m162 0h1m10 0h1m1 0h1m8 0h1m161 0h2m-346 1h1m175 0h1m169 0h1m-326 1h1m28 0h1m136 0h1m22 0h1m134 0h2m5 0h1m1 0h1m-356 1h1m14 0h1m3 0h1m4 0h1m26 0h1m290 0h2m2 0h1m6 0h1m2 0h1m-342 1h2m4 0h3m2 0h2m314 0h1m47 0h1m-362 1h1m162 0h1m165 0h1m2 0h1m-330 1h1m19 0h1m160 0h1m149 0h1m-313 1h2m140 0h1m176 0h1m-177 1h1m196 0h1m-358 1h1m357 0h1m-340 2h1m338 0h1m0 1h1m-357 2h1m178 0h1m4 0h1m171 0h1m-178 1h1m-164 1h1m142 1h1m197 0h1m-199 1h1m18 0h1m178 0h1m-197 1h1m177 0h1m16 1h1m-356 3h1m10 0h1m343 0h1m-196 1h1m-151 1h1m149 0h1m-5 1h1m198 0h1m-359 1h1m162 0h1m-163 2h1m-2 2h2m160 0h1m17 0h1m177 0h1m-199 1h1m197 0h1m-349 1h1m172 0h1m158 0h1m13 1h1m-176 1h1m160 0h1m-182 1h1m-152 1h1m331 0h1m-161 1h1m-185 1h1m161 1h1m22 0h1m-174 1h1m149 0h1m20 0h1m159 0h2m-344 1h1m8 0h1m151 0h2m-153 1h1m331 0h1m14 0h1m-351 1h1m1 0h1m173 0h1m158 0h1m-337 1h1m176 0h1m159 0h1m-346 1h1m8 0h1m175 0h1m-183 1h1m5 0h1m154 0h1m194 0h1m-356 1h1m-2 1h1m8 0h1m-12 1h1m10 0h1m169 0h1m-183 1h2m163 0h1m17 0h1m160 0h1m12 0h1m-357 1h1m4 0h1m350 1h1m-348 1h1m-10 1h1m163 0h1m-165 2h1m353 0h2m-356 1h1m5 0h1m349 0h1m-356 1h1m179 0h1m174 0h1m-355 1h1m7 0h1m334 0h1m-190 2h1m9 0h1m178 0h1m-340 1h1m348 0h1m1 0h1m-192 1h2m178 1h1m-344 1h1m343 0h1m-341 1h1m336 0h1m-177 1h1m186 0h1m-353 1h1m175 0h1m-173 1h1m338 0h1m-169 1h1m175 1h1m-354 1h1m175 1h2m166 0h1m-2 1h1m9 0h1m-187 1h1m184 0h1m-187 1h1m-168 1h1m344 0h1m-346 1h1m344 0h1m7 0h1m-1 1h1m-346 1h1m344 0h1m-179 1h1m176 0h1"/>
<path stroke="#abf" d="M0 0m285 26h1m-4 6h1m-10 2h1m-167 7h2m349 1h1m11 22h1m-337 12h1m-4 15h1m188 3h1m153 23h1m-342 91h1m161 2h1m-203 4h1m387 1h1m-34 1h1m-180 5h1m218 1h1m-202 1h1m24 2h1m155 3h1m-316 5h1m318 2h1m-177 9h1m19 13h1m-24 6h1m196 1h1m-362 3h1m360 1h1m-348 8h1m-2 5h1m-10 2h1m342 11h1m-167 3h1"/>
<path stroke="#def" d="M0 0m268 27h1m-143 2h1m148 0h1m149 6h1m18 4h1m42 7h1m-187 1h1m20 12h1m165 21h1m-350 10h1m-43 117h1m-22 5h1m28 13h1m385 33h1m-197 22h1m180 13h1m-2 2h1"/>
<path stroke="#aaf" d="M0 0m294 27h2m7 0h1m151 1h1m5 1h1m9 0h1m-24 1h1m-173 1h1m173 0h1m-356 1h1m1 0h1m0 1h1m6 1h1m169 0h1m155 0h1m9 0h1m-168 1h1m1 0h1m3 0h1m-10 1h1m2 0h1m-138 1h1m310 1h1m-349 2h1m185 0h1m197 1h1m-213 1h1m-166 1h1m3 0h1m1 0h1m-3 1h1m-2 2h2m7 0h1m4 0h1m194 6h1m169 4h1m-350 7h1m180 0h1m-191 6h1m190 2h1m-186 2h1m160 2h1m-162 1h1m335 2h1m-338 3h1m159 0h1m176 4h1m-342 1h1m5 4h1m158 0h1m23 0h1m152 0h1m-344 2h1m1 7h1m339 2h1m-155 2h1m154 6h1m-157 1h1m156 2h1m-173 5h1m171 0h1m-350 88h1m10 4h1m148 1h1m12 1h1m5 0h1m152 0h1m-10 1h1m28 0h2m-217 1h1m0 1h1m-178 1h1m353 0h1m-1 1h1m-357 1h1m222 1h1m-224 1h1m173 0h1m-172 1h1m170 0h1m9 0h1m41 0h1m132 1h1m-164 1h1m168 0h1m-4 1h1m-340 1h1m333 0h1m13 1h1m2 0h1m-169 1h1m166 0h1m-2 1h1m36 11h1m-1 1h1m-3 6h1m-19 1h1m-157 3h1m-25 4h1m-163 1h1m-2 3h1m186 2h1m-1 1h1m-175 3h1m-1 6h1m-14 1h1m-2 1h1m3 14h1m-2 1h1m-1 1h2m5 2h1m-2 2h1m150 1h1m-154 1h1m172 2h1m-173 2h1m-6 2h1m166 2h1"/>
<path stroke="#cdf" d="M0 0m299 27h1m148 2h1m16 0h1m-182 1h1m165 2h1m27 1h1m-200 4h1m161 0h1m-332 5h1m187 1h1m189 0h1m-171 4h1m0 11h1m-183 14h1m160 6h1m-166 10h1m174 31h1m-42 96h1m-181 1h1m166 2h1m186 2h1m-160 1h1m-151 7h1m338 1h1m-320 6h1m-4 7h1m165 0h1m176 0h1m-18 2h1m-343 17h1m-2 8h1m4 4h1m175 3h1"/>
<path stroke="#99e" d="M0 0m300 27h1m-15 1h2m5 0h2m2 0h1m1 0h1m156 0h2m-174 1h1m1 0h2m13 0h1m147 0h1m5 0h1m-174 1h1m5 0h1m3 0h1m156 0h2m3 0h1m4 0h1m7 0h1m-373 1h1m26 0h1m3 0h1m144 0h1m11 0h1m1 0h2m165 0h1m1 0h1m16 0h1m-372 1h1m10 0h1m1 0h1m6 0h1m2 0h1m155 0h1m1 0h1m2 0h2m1 0h1m155 0h1m7 0h1m-355 1h1m175 0h1m7 0h1m6 0h1m148 0h1m2 0h1m2 0h1m33 0h1m-197 1h1m-171 1h1m23 0h1m135 0h1m11 0h2m153 0h1m40 0h1m-375 1h1m3 0h1m4 0h1m157 0h1m12 0h1m1 0h2m161 0h1m4 0h1m-346 1h1m174 0h1m1 0h2m24 0h1m118 0h1m15 0h3m-346 1h2m3 0h1m166 0h1m5 0h1m2 0h1m27 0h1m125 0h1m8 0h1m-346 1h1m1 0h2m2 0h1m173 0h1m3 0h1m166 0h1m25 0h1m-199 1h1m7 0h1m7 0h1m157 0h1m4 0h1m-167 1h1m167 0h1m18 0h1m-380 1h1m2 0h3m6 0h1m161 0h1m19 0h1m-185 1h1m2 0h1m2 0h1m20 1h1m322 0h1m-351 1h1m2 0h1m1 0h1m365 0h1m-361 1h1m175 0h1m-161 1h1m160 0h1m183 0h1m-357 3h1m341 0h1m-155 1h1m-190 1h1m174 0h1m183 0h1m-347 2h1m161 0h1m-174 1h1m172 0h1m13 0h1m-15 1h1m-164 1h1m176 0h1m169 0h1m-186 1h1m15 1h1m-19 1h2m-171 1h1m169 0h1m184 0h1m-187 3h1m172 0h1m-1 1h1m-343 1h1m5 0h1m348 3h1m-167 2h1m152 0h1m-154 1h1m166 0h1m-168 1h1m-187 1h1m-4 1h1m1 0h1m-3 1h1m2 0h1m338 0h2m-342 1h3m185 0h1m165 0h1m-356 1h1m353 2h1m-353 1h1m162 0h1m188 0h1m-355 1h1m187 0h1m165 0h1m-353 2h1m338 0h1m-153 1h1m153 0h1m-343 1h1m163 0h1m-2 2h1m22 0h1m-189 1h1m165 0h1m-163 1h1m161 0h1m177 0h1m-157 1h1m-189 1h1m341 0h1m-154 1h1m-1 1h1m165 1h1m-355 1h2m183 1h1m167 1h1m-3 1h1m-184 1h1m173 0h1m-343 1h1m167 0h1m183 0h1m-183 1h1m15 0h2m154 0h1m-175 1h1m-165 1h1m178 0h1m168 0h1m-183 1h1m-168 2h1m180 0h1m161 0h1m-176 1h2m169 0h2m5 0h1m-3 2h1m-2 1h1m-164 1h1m160 0h1m2 1h1m2 0h1m-180 1h1m175 0h1m1 0h1m-7 1h1m5 0h1m-179 2h1m8 0h1m162 0h1m5 0h1m-6 1h1m-354 85h1m-16 1h1m-1 1h1m-4 1h1m9 0h1m12 0h1m-22 1h2m17 0h1m6 0h1m-38 1h1m2 0h3m-8 1h1m8 0h1m27 0h2m-39 1h1m12 0h1m177 1h1m4 0h2m1 0h1m1 0h1m-209 1h1m2 0h1m190 0h1m2 0h2m10 0h1m160 0h1m10 0h2m1 0h1m-397 1h1m12 0h1m3 0h1m192 0h1m167 0h1m-370 1h1m13 0h1m171 0h1m4 0h1m1 0h1m170 0h1m6 0h1m4 0h1m-380 1h1m5 0h2m3 0h1m171 0h1m3 0h1m2 0h1m6 0h1m171 0h1m28 0h1m-396 1h1m4 0h1m172 0h1m1 0h1m12 0h1m165 0h2m4 0h1m4 0h1m1 0h1m24 0h2m-395 1h1m2 0h1m173 0h1m7 0h1m165 0h1m42 0h1m-398 1h2m7 0h2m160 0h1m5 0h1m3 0h1m5 0h2m3 0h1m170 0h1m1 0h2m-357 1h1m166 0h1m9 0h1m2 0h1m2 0h2m176 0h1m26 0h1m-396 1h1m8 0h2m172 0h1m1 0h2m33 0h1m138 0h1m1 0h2m-354 1h1m179 0h2m29 0h1m147 0h1m-357 1h1m1 0h1m3 0h1m2 0h2m173 0h1m163 0h1m36 0h1m-374 1h1m5 0h1m5 0h1m331 0h2m-355 1h1m18 0h2m2 0h1m163 0h1m-183 1h1m19 0h1m163 0h1m17 0h1m146 0h1m30 0h1m-33 1h1m6 0h1m-170 2h1m193 0h1m-356 1h1m1 0h1m175 0h1m-177 1h1m175 0h1m1 0h1m157 0h1m0 1h1m-322 2h1m-1 1h1m320 0h1m-178 1h1m-2 1h1m178 0h1m-336 1h1m174 0h1m-165 1h1m146 0h1m194 0h1m-355 1h1m175 0h1m-164 1h1m162 0h1m160 0h1m15 0h1m-355 2h1m337 0h1m-340 1h1m157 0h1m20 0h1m-1 1h1m175 0h1m-344 1h1m342 0h1m-355 1h1m353 0h1m-357 1h1m178 0h1m-181 1h1m12 0h1m148 1h1m179 0h1m-159 1h1m157 0h1m-330 1h1m343 0h1m-351 1h1m153 0h1m-151 1h1m149 0h1m19 0h1m161 0h1m-345 1h1m10 0h1m-1 1h1m-9 1h1m178 1h1m-21 1h1m193 0h1m-353 1h1m157 0h1m20 0h1m158 0h1m-343 1h1m10 0h1m345 0h1m-198 2h1m-161 1h1m7 0h2m346 1h1m-346 1h1m148 0h1m1 0h1m18 0h1m-183 1h1m11 0h1m170 1h1m173 0h1m-352 1h2m174 0h1m161 0h1m12 0h1m-353 1h1m1 0h1m349 0h1m-357 1h1m161 0h1m193 0h1m-350 1h1m154 0h1m180 0h1m-344 1h3m5 0h1m-2 1h1m-1 1h1m-1 1h1m172 0h1m162 0h1m10 0h1m-349 1h1m-2 1h3m1 0h1m169 0h1m-180 1h1m5 0h1m158 0h1m178 0h1m9 0h1m-347 1h1m345 0h1m-351 1h1m2 0h1m-1 1h1m155 0h1m14 0h2m174 1h1m-10 1h1m7 0h1m-352 2h1m175 0h1m-176 1h2m173 0h1m175 0h1m-1 1h1m-350 1h1m-2 1h3m160 0h1m176 1h1m-344 1h1m1 0h1m164 0h1m175 0h1m8 0h1m-353 1h1m165 0h1m9 0h1m166 0h1m-342 1h1m162 0h1m8 0h1m176 0h1m-177 4h1m168 1h1m-179 1h1m183 1h1m-184 1h1m6 0h1"/>
<path stroke="#56e" d="M0 0m301 27h1m148 2h1m15 1h1m-163 1h1m157 0h1m-342 1h1m332 0h1m3 0h1m-344 1h1m185 0h1m147 0h1m1 0h1m5 0h1m7 0h1m-173 1h2m2 0h1m147 0h2m13 0h2m-15 1h1m5 0h1m-342 1h1m21 0h1m177 0h1m133 0h1m-312 1h1m157 0h1m158 0h1m3 0h1m3 0h1m-348 1h1m22 0h1m154 0h1m21 0h1m-177 1h1m342 0h1m-168 1h1m-17 1h1m1 0h1m-181 1h1m20 0h1m342 0h1m-361 1h1m176 0h2m-163 1h1m161 0h1m1 0h1m165 0h1m-344 1h1m176 1h1m181 0h1m-169 1h1m154 1h1m-170 1h1m169 0h1m-157 1h1m-13 1h1m-165 1h2m162 0h1m181 0h1m-346 1h1m344 0h1m-171 2h1m157 1h1m-336 1h1m-9 1h1m171 0h1m169 0h1m12 0h1m-348 1h1m177 0h1m-14 1h1m12 0h1m157 1h1m-339 2h1m-6 1h1m167 2h1m185 0h1m-169 1h1m155 0h1m-342 1h1m183 0h1m168 0h1m-354 1h1m0 1h1m166 0h1m-167 1h1m338 0h1m-175 1h1m185 0h1m-188 2h1m18 0h1m166 0h1m-186 2h1m-2 1h2m173 0h1m-175 2h1m18 0h2m164 0h1m-1 1h1m-1 1h1m-11 3h1m10 1h1m-169 1h1m-1 1h1m-20 1h1m176 0h1m8 1h1m-10 1h1m7 1h1m-10 1h2m-176 1h1m15 0h1m-19 1h2m177 0h1m4 0h2m-6 1h1m-178 1h1m176 0h1m3 0h1m-168 1h1m-16 2h1m180 0h1m-5 1h1m2 2h1m-6 1h1m-163 1h1m161 2h1m-162 1h1m-11 1h1m7 0h1m162 0h1m1 1h1m-174 3h1m172 1h1m-1 2h1m-169 2h1m-4 1h1m1 0h1m-205 89h1m12 0h1m3 0h1m-14 1h3m2 0h1m4 0h1m1 0h1m-12 1h1m16 0h1m-32 1h1m4 0h1m1 1h2m4 0h1m25 0h1m-43 1h1m4 1h1m1 0h2m37 0h1m-40 1h1m188 0h1m8 0h1m169 0h1m5 0h1m-378 1h1m2 0h1m178 0h1m179 0h1m1 0h1m1 0h2m-365 1h1m3 0h1m174 0h1m3 0h1m20 0h1m-209 1h1m173 0h1m32 0h2m137 0h1m17 0h1m19 0h2m-386 1h1m2 0h1m4 0h1m39 0h1m125 0h1m13 0h1m173 0h1m-315 1h1m139 0h1m-182 1h1m4 0h1m5 0h1m172 0h1m170 0h1m-349 1h2m175 0h1m18 0h1m-188 1h1m1 0h1m24 0h1m313 0h1m-333 1h1m160 0h1m170 0h1m-313 1h1m159 0h1m152 0h1m2 1h1m21 0h1m0 1h1m-354 2h1m175 0h1m161 1h1m-324 1h1m146 0h1m-1 1h1m0 2h1m-161 1h1m174 0h1m-1 1h1m161 0h1m-1 1h1m-163 1h1m161 0h1m-327 2h1m148 0h1m-151 2h1m341 0h1m-344 1h1m165 1h1m-1 1h1m-177 3h1m1 1h1m173 1h1m163 0h1m-337 1h1m-2 1h1m3 0h1m152 0h1m15 0h1m-172 1h1m171 0h1m174 1h1m-356 1h1m1 0h1m160 0h1m-157 1h1m1 0h1m153 1h1m-160 1h1m175 0h1m-179 1h1m1 0h1m175 0h1m-172 1h1m-1 1h1m-8 1h1m352 0h1m-193 1h1m190 0h1m-351 1h2m173 1h2m172 1h1m-353 1h1m351 1h1m-176 1h1m-175 1h1m2 0h1m338 0h1m-184 1h1m180 0h1m-1 2h1m7 0h1m-188 1h1m12 0h1m164 1h1m-166 1h1m172 0h1m-175 3h1m-177 2h1m342 0h1m2 0h1m4 0h1m-8 2h1m1 0h1m4 0h1m-350 2h2m171 0h1m168 0h1m1 0h1m0 2h1m-183 1h1m178 1h1m3 0h1m-183 1h1m7 0h1m171 0h1m2 0h2m-2 1h1m-7 1h1m4 0h1m-183 1h2m178 0h1m-181 1h2m175 0h1m-179 1h1m1 0h1m1 5h1m2 0h1m-2 1h1m-2 1h1m174 0h1"/>
<path stroke="#55e" d="M0 0m292 28h1m-11 1h1m11 2h1m160 0h2m-341 1h1m8 0h1m167 0h1m163 0h1m3 0h1m9 0h1m-361 1h1m180 0h1m16 0h1m149 0h1m-7 1h1m23 0h1m-187 1h1m163 0h1m-166 1h1m165 0h1m-345 1h1m179 0h1m-182 1h1m180 1h2m-184 1h1m2 0h1m200 0h1m-198 1h1m196 1h1m152 0h1m-153 1h1m-14 2h1m-173 7h1m174 5h1m-3 7h1m-1 2h1m183 1h1m-352 1h1m182 0h1m-187 1h1m167 0h1m-166 1h1m182 2h1m0 2h1m0 4h1m-23 2h1m-1 1h1m0 5h1m19 0h1m155 0h1m-1 2h1m9 0h1m-11 1h1m-177 1h1m18 0h1m-21 1h2m-2 2h1m185 0h1m-1 2h1m-169 1h1m158 0h1m-174 4h1m177 1h1m-167 1h1m168 0h1m-10 1h1m2 1h1m-175 1h1m174 0h1m-176 1h1m173 1h1m1 0h1m-1 2h1m-176 1h1m173 0h1m-2 1h1m-166 3h1m-195 91h1m-5 2h1m1 0h1m-4 1h1m6 0h1m8 0h1m-34 1h1m-4 2h3m11 0h1m-14 1h1m196 0h1m166 0h1m-177 1h1m4 0h2m176 0h1m1 0h1m1 0h1m-374 1h1m45 0h1m138 0h1m195 0h1m-384 1h1m3 0h1m201 0h1m150 0h1m6 1h1m-360 1h1m43 0h1m313 0h1m-361 1h1m5 0h1m178 0h1m22 1h1m-204 1h1m2 0h1m4 0h1m330 1h1m11 0h1m-340 1h1m7 0h1m165 0h1m169 0h1m-336 1h1m331 0h1m3 0h1m26 0h1m-360 1h1m334 0h1m3 2h2m-175 1h1m197 8h1m-354 1h1m158 2h1m-1 2h1m-2 3h1m-150 1h1m-3 3h1m150 2h1m-1 1h1m-155 3h1m170 0h1m162 1h1m-343 1h1m178 1h1m-183 1h1m1 1h1m7 1h1m-1 1h1m171 2h1m-175 1h1m155 2h1m-160 3h1m-3 2h2m351 0h1m-353 1h1m160 0h1m189 0h1m-349 1h1m157 0h1m-160 2h1m159 0h1m187 0h1m-191 2h1m187 2h2m-349 1h1m3 1h1m-7 1h1m1 0h1m341 0h1m5 0h1m-351 1h1m1 1h1m161 0h1m177 0h1m-168 5h1m168 5h1m-2 1h1m5 0h1m-184 1h1m5 0h1m169 0h1m1 0h1m0 2h2m-180 1h1m177 0h1m-179 1h1m179 1h1m-180 2h1"/>
<path stroke="#88e" d="M0 0m298 28h1m-179 1h1m171 0h1m4 0h1m172 0h1m-354 1h1m158 0h1m16 0h1m8 0h3m152 0h1m6 0h1m-357 1h1m171 0h1m7 0h1m4 0h1m12 0h1m135 0h1m-163 1h1m26 0h1m144 0h2m6 0h1m13 0h1m-363 1h1m1 0h1m168 0h1m2 0h1m2 0h1m156 0h1m28 0h1m-193 1h1m1 0h1m25 0h1m136 0h2m-342 1h1m25 0h1m142 0h1m4 0h1m29 0h1m126 0h2m7 0h2m-349 1h1m1 0h1m7 0h1m23 0h1m153 0h1m157 0h1m10 0h1m-184 1h1m2 1h2m5 0h1m173 1h1m1 0h1m-354 1h1m185 0h1m-186 1h2m1 0h1m2 0h1m24 0h1m144 0h1m29 0h1m-198 1h1m1 0h1m175 0h2m168 0h1m17 0h1m-382 1h1m1 0h1m10 0h1m351 0h1m15 0h1m-366 1h2m2 0h1m-14 1h1m29 0h1m175 0h1m-15 1h1m184 2h1m-358 3h1m11 0h1m175 1h1m154 0h1m-156 1h1m169 0h1m-184 1h1m12 0h1m-178 2h1m-10 1h1m170 0h1m170 0h1m-157 1h1m-187 1h1m186 2h1m-181 2h1m-8 1h1m169 0h1m16 0h1m-1 1h1m153 0h1m-155 1h1m-187 2h1m3 1h1m182 0h1m-188 1h2m2 0h1m182 0h1m-187 1h1m164 0h1m20 0h1m154 1h1m-342 1h2m163 2h1m187 0h1m-189 1h1m-169 1h1m167 0h1m-166 2h1m163 0h1m-165 1h1m186 0h1m-23 2h1m175 0h1m-155 1h1m165 1h1m-355 1h1m165 0h1m174 0h2m-177 1h1m22 0h1m151 0h1m12 0h1m-190 1h2m20 0h1m1 0h1m152 0h2m-2 1h1m-345 1h1m2 0h1m-3 2h1m188 0h1m-190 2h1m186 0h1m155 0h1m-158 2h1m-18 1h1m173 1h1m9 0h1m-185 1h1m173 0h1m-159 1h1m-185 1h1m168 0h1m181 0h1m-169 2h1m167 1h1m-9 1h1m-2 1h1m-1 2h1m-160 1h1m-2 1h1m165 2h2m-7 1h1m1 0h1m-175 1h1m9 0h1m-3 5h1m-193 87h1m-17 1h1m14 0h2m-14 1h1m6 0h1m6 0h1m9 0h1m-36 2h1m8 0h1m3 0h1m2 0h1m-27 2h1m6 0h1m381 0h1m-386 1h1m7 0h1m189 0h1m1 0h1m9 0h1m161 0h1m1 0h1m2 0h1m-373 1h2m1 0h1m185 0h1m2 0h1m12 0h1m1 0h1m156 0h1m3 0h1m5 0h1m-381 1h1m175 0h1m19 0h2m14 0h3m1 0h1m142 0h1m-307 1h1m128 0h1m30 0h1m-209 1h1m169 0h1m2 0h1m4 0h1m4 0h1m28 0h2m-221 1h1m5 0h1m1 0h1m180 0h2m28 0h1m135 0h1m10 0h1m3 0h1m-186 1h1m34 0h1m134 0h1m1 0h1m11 0h1m-360 1h4m163 0h1m9 0h1m3 0h1m2 0h1m1 0h1m23 0h1m145 0h4m-357 1h1m45 0h1m129 0h1m1 0h1m176 0h2m-355 1h3m1 0h2m339 0h1m7 0h1m-352 1h1m1 0h1m5 0h3m2 0h2m157 0h1m9 0h1m-184 1h1m3 0h1m18 0h1m22 0h1m298 0h1m-320 1h1m330 0h1m-337 1h1m339 0h1m-315 1h1m142 0h1m-1 1h1m2 1h1m174 0h1m18 1h1m-195 1h1m-146 1h1m161 1h1m-176 1h1m175 1h1m157 0h1m-322 2h1m162 0h1m177 0h1m-354 2h1m11 0h1m144 1h1m177 0h1m-178 1h1m16 1h1m176 0h1m-353 1h1m8 0h1m148 0h1m-163 2h2m353 1h1m-355 1h1m160 0h1m17 0h1m176 1h1m-347 1h1m329 0h1m14 1h1m-356 1h1m338 0h1m-335 1h1m-8 1h1m10 0h1m150 0h1m-1 1h1m18 3h1m160 0h1m13 0h1m-358 1h1m9 0h1m346 0h1m-358 1h1m342 0h1m-344 1h1m0 1h1m181 0h1m-182 1h1m7 0h1m332 1h1m12 0h1m-356 1h1m341 0h1m-343 1h1m4 0h1m336 0h1m-343 1h1m7 0h2m-10 1h1m4 0h1m175 0h1m160 0h1m-342 1h1m2 0h1m2 0h1m172 0h1m161 0h1m-342 2h2m-3 1h1m7 0h1m-9 1h1m161 1h1m-159 1h2m174 0h1m162 0h1m-339 1h1m157 0h1m178 2h1m-336 1h1m-6 1h1m175 0h1m173 0h1m-352 1h1m161 0h1m14 0h1m-177 1h1m160 0h1m182 1h1m-341 1h1m-6 1h2m-1 1h1m-1 1h2m341 0h1m6 0h1m-349 1h1m347 1h1m-352 3h2m173 0h1m0 1h1m173 1h1m-1 2h1m-178 1h1m169 0h1m5 3h1m-7 2h1m0 1h1m3 0h1m1 1h1"/>
<path stroke="#77e" d="M0 0m283 29h1m1 0h1m2 0h2m14 0h1m-180 1h1m171 0h1m160 0h1m6 0h1m-184 1h1m4 0h1m165 0h1m9 0h1m-340 1h1m1 0h1m164 0h1m11 0h1m140 0h1m-335 1h1m333 0h1m-339 1h2m1 0h1m181 0h1m150 0h1m4 0h1m2 0h1m-338 1h1m19 0h1m156 0h1m160 0h1m2 0h1m-351 1h1m8 0h1m331 0h1m5 0h1m5 0h1m-352 1h1m1 0h1m181 0h1m189 0h1m-367 1h1m22 0h1m-30 1h1m3 0h1m181 0h1m162 0h1m2 0h1m1 0h1m-360 1h1m196 0h1m-187 1h1m1 0h1m181 0h1m159 0h1m-353 1h1m5 0h1m-9 1h1m10 0h1m24 0h1m324 0h1m-350 1h1m-1 1h1m4 0h1m4 1h1m343 0h1m15 0h1m-360 1h1m343 0h1m-331 1h1m175 1h1m-189 2h1m343 0h1m-331 2h1m329 0h2m-334 1h1m346 0h1m-184 2h1m-2 1h1m169 3h2m-336 1h1m178 2h1m-187 2h1m4 0h1m162 0h1m-170 3h1m3 1h1m-5 1h1m342 0h1m-341 1h1m186 1h1m-187 1h1m163 0h1m-168 1h1m-1 1h1m166 1h1m187 0h1m-353 3h1m185 0h1m152 2h1m-179 1h1m22 0h1m-23 1h1m21 2h2m166 0h1m-1 1h1m-192 1h1m2 0h1m20 0h1m165 1h1m-188 1h1m21 2h1m-23 1h1m184 0h1m-186 1h1m19 0h1m153 0h1m1 0h1m-343 1h1m342 0h1m-343 1h1m161 0h1m179 2h1m-178 1h1m-1 1h1m174 0h1m1 1h1m2 0h1m2 0h1m-181 1h1m174 0h3m-164 1h2m162 2h1m-6 1h1m1 0h1m2 0h1m3 0h1m-170 1h2m165 0h1m-179 1h1m171 0h1m1 1h1m1 0h1m-5 1h1m3 0h1m-165 1h1m157 0h1m1 0h1m5 0h1m-5 2h1m-2 3h1m-175 1h1m173 0h2m-173 2h1m3 0h1m-2 1h1m-188 87h1m2 0h1m-15 1h1m17 0h1m-23 1h1m4 0h1m13 0h1m-22 1h1m1 0h1m1 0h1m25 0h1m-43 1h1m1 0h1m4 0h1m3 0h1m4 0h1m364 0h1m-379 1h2m1 0h1m-8 1h1m3 0h1m1 0h2m37 0h2m147 0h1m180 0h1m6 0h1m-376 1h1m40 0h1m143 0h1m11 0h2m150 0h2m28 0h1m-390 1h1m1 0h1m5 0h1m185 0h1m15 0h1m162 0h1m-367 1h1m363 0h1m17 0h1m-394 1h1m9 0h1m1 0h2m171 0h1m32 0h1m137 0h1m3 0h1m-356 1h1m189 0h1m173 0h1m-363 1h1m8 0h1m167 0h1m5 0h1m28 0h1m135 0h1m-353 1h1m175 0h1m5 0h1m3 0h1m166 0h1m40 0h1m-383 1h2m4 0h1m172 0h1m27 0h1m145 0h1m-356 1h1m5 0h1m7 0h1m167 0h1m167 0h1m9 0h1m-361 1h1m19 0h1m322 0h1m-343 1h2m351 0h1m8 0h1m-5 1h1m2 0h1m-332 1h1m18 0h1m313 0h1m-331 2h1m177 0h1m-178 1h1m16 1h1m143 0h1m176 0h1m-159 2h1m176 1h1m-355 2h1m0 1h1m12 0h1m145 1h1m15 3h1m-164 2h1m-13 2h1m-2 1h1m-3 2h1m2 0h1m9 0h1m165 0h1m161 0h1m-2 1h2m-180 1h1m192 0h1m-177 1h1m-170 1h1m168 0h1m-20 1h1m-163 2h2m8 1h1m172 0h1m-3 1h1m1 0h1m-21 2h2m191 0h1m-347 1h1m152 0h1m-161 1h1m178 0h1m-21 1h1m-154 1h1m153 1h1m-161 1h1m351 0h1m-356 1h1m11 0h1m169 0h1m161 0h1m-343 1h1m2 1h1m1 4h1m336 0h1m-1 1h1m10 1h1m-357 2h1m1 0h1m161 0h1m191 0h1m-348 1h1m155 0h2m-164 1h1m176 0h1m165 2h1m-345 1h1m3 0h2m171 0h1m165 0h2m-168 1h1m175 0h1m-352 1h1m1 0h1m158 0h1m186 0h1m-9 1h1m3 0h1m-347 1h1m163 0h1m177 0h1m-338 5h1m346 0h1m-8 2h1m6 0h1m-352 2h1m-2 1h1m166 1h1m7 1h1m169 1h1m-180 1h1m7 0h1m172 1h2m-4 1h1m3 1h1m-2 1h1m-2 1h1"/>
<path stroke="#66e" d="M0 0m291 29h1m2 0h1m-4 1h1m3 0h2m2 0h3m3 0h1m149 0h1m-336 1h1m168 0h3m-178 1h1m7 0h1m163 0h1m186 0h1m-345 1h1m154 0h2m7 0h1m1 0h1m158 0h1m-173 1h1m6 0h1m149 0h1m3 0h2m10 0h1m20 0h1m-365 1h1m176 0h1m-183 1h1m178 0h1m-182 1h1m347 0h3m-164 1h1m165 0h1m-321 1h1m152 0h1m22 0h1m-206 1h1m28 0h1m149 0h1m169 0h1m-348 1h1m353 0h1m-151 1h1m-198 1h1m-1 1h1m197 2h1m0 2h1m-176 2h1m-13 3h1m343 1h1m-1 1h1m-343 1h1m172 3h1m168 0h1m13 0h1m-186 2h1m183 1h1m-13 2h1m-344 1h1m2 3h1m164 2h1m-167 2h2m164 0h1m174 2h1m-1 1h1m-343 1h1m186 1h2m-187 1h1m351 0h1m-188 1h1m19 4h1m166 0h1m-354 1h1m-1 1h1m164 3h1m19 1h1m-19 1h1m184 0h1m-166 2h1m153 4h1m1 0h1m-345 1h1m343 2h1m4 1h1m0 1h1m-182 1h1m178 0h1m3 0h1m-184 1h1m174 1h1m2 0h1m1 0h1m1 0h1m-170 2h1m159 0h2m-173 1h1m10 0h1m165 0h2m-5 1h1m4 0h1m-2 1h1m-169 1h2m162 0h1m3 0h1m-169 1h1m165 0h1m-177 1h1m177 0h1m-5 1h1m2 0h2m-2 1h1m-5 1h1m3 0h1m-4 2h1m-374 90h1m16 0h1m2 0h1m-21 1h1m3 0h1m21 0h1m-31 1h1m-3 1h1m9 0h1m24 0h3m-38 1h1m-4 1h1m192 0h1m175 0h1m-189 2h1m181 0h2m16 0h1m-201 1h1m5 0h2m20 0h1m-163 1h1m125 0h2m5 0h1m2 0h1m171 0h1m1 0h1m-360 1h1m3 0h2m1 0h1m1 0h1m160 0h2m1 0h1m12 0h1m1 0h2m-183 1h1m163 0h1m3 0h1m11 0h1m2 0h1m21 0h1m136 0h1m4 0h1m1 0h1m2 0h1m28 0h1m-211 1h1m4 0h1m4 0h1m160 0h1m4 0h2m-342 1h1m168 0h1m1 0h1m205 0h1m-385 1h1m6 0h3m174 0h1m166 0h1m7 0h1m24 0h1m-381 1h1m10 0h1m31 0h1m139 0h1m20 0h1m-190 1h1m341 2h1m3 1h1m-334 2h1m160 0h1m18 3h1m159 1h1m-160 3h1m-177 1h1m157 0h1m194 1h1m-342 2h1m162 1h1m-17 1h1m-160 1h1m-3 3h1m353 1h1m-344 1h1m-3 2h1m344 0h1m0 3h1m-196 2h1m-160 3h1m4 1h1m-8 2h1m1 0h2m157 1h1m-162 1h1m-1 1h1m0 1h1m-4 1h1m6 0h2m-9 1h1m8 0h2m170 0h1m-179 1h1m351 0h1m-355 1h1m178 0h1m163 0h1m-1 1h1m10 0h1m-348 1h1m-1 1h1m-2 1h1m336 0h1m-345 1h1m-1 1h1m179 0h1m164 0h1m8 0h1m-11 1h1m-1 2h1m-341 1h1m3 0h1m155 0h1m-162 1h1m348 0h1m-348 1h1m345 0h1m-351 1h1m2 1h1m173 0h1m-1 1h1m172 0h1m-7 1h1m6 0h1m-348 1h2m340 0h1m5 1h1m-2 5h1m-7 1h1m-172 2h1m172 2h1m-181 1h1m180 0h1m2 0h1m-183 2h1m179 0h1m-183 1h2m4 1h1"/>
<path stroke="#89e" d="M0 0m295 29h1m-176 1h1m-3 2h1m8 0h1m160 0h1m21 1h1m-16 1h1m158 0h1m-348 1h1m1 0h1m368 0h1m-369 1h1m-4 1h1m6 2h1m-1 1h1m200 0h1m-211 1h1m-1 1h1m8 0h1m350 0h1m-345 1h1m0 1h1m-3 1h1m182 3h1m167 0h1m-167 5h1m11 3h1m170 0h1m-2 1h1m-1 2h1m-186 7h1m-166 1h1m-6 2h1m167 0h1m186 1h1m-168 2h1m-187 6h1m-2 1h1m187 2h1m164 10h1m-1 3h1m-353 1h1m165 0h1m15 4h1m158 2h1m-1 3h1m-171 13h1m0 1h1m-172 93h1m-44 1h1m190 0h1m14 0h2m160 1h1m14 0h1m-196 1h1m174 0h1m-364 1h1m1 0h1m175 0h1m185 0h1m-373 1h1m373 0h1m-189 1h1m1 0h1m168 0h1m-321 4h1m334 0h1m1 1h1m-328 3h1m329 0h1m-330 1h1m358 4h1m-2 4h2m-1 4h1m-18 9h1m-333 6h1m171 1h1m-180 2h1m-1 1h1m355 0h1m-355 4h1m3 3h1m153 0h1m-164 1h1m182 0h1m172 1h1m-350 1h1m173 5h1m164 1h1m-337 2h1m343 0h1m-351 1h1m161 3h1m-160 2h1m338 1h1m5 0h1m-350 9h1m-1 2h1m164 2h1m184 3h1"/>
<path stroke="#bcf" d="M0 0m296 29h1m13 2h1m128 0h1m-166 7h1m179 0h1m-356 4h1m363 1h1m4 1h1m-166 7h1m-161 1h1m-14 8h1m344 3h1m-5 2h1m-149 2h1m2 5h1m-2 4h1m-194 1h1m192 1h1m149 1h1m-178 5h1m21 8h1m-17 18h1m9 4h1m161 2h1m7 2h1m-357 89h1m3 1h1m2 1h1m141 2h1m-189 1h1m0 1h1m385 0h1m-387 2h1m25 8h1m33 1h1m286 1h1m-322 1h1m339 0h1m-160 7h1m177 10h1m-6 3h1m-156 16h1m172 3h1m-349 11h1m346 0h1m-192 1h1m15 5h1m-181 4h1m354 10h1"/>
<path stroke="#67e" d="M0 0m298 29h1m-1 1h1m161 0h1m7 0h1m-172 1h1m164 1h1m-346 1h1m10 0h1m1 0h1m172 0h1m157 0h1m-330 1h1m154 0h1m169 0h1m-172 1h1m-172 1h1m175 0h2m160 0h1m5 0h1m-345 1h1m175 0h1m20 0h1m138 0h1m-340 1h1m3 1h2m346 0h1m-361 1h2m5 0h1m183 0h1m170 0h1m-329 1h1m328 0h1m-347 1h1m345 1h1m16 2h1m-345 2h1m-11 2h1m342 1h1m-170 3h1m1 1h1m168 1h1m11 0h1m-1 1h1m-185 4h1m-1 2h1m172 0h1m-174 1h1m14 0h1m157 0h1m-338 1h1m335 2h1m-158 1h1m169 0h1m-14 2h1m-175 1h1m-2 5h1m20 1h1m165 0h1m-14 1h1m12 0h1m-169 1h1m154 0h1m-340 1h1m161 1h1m177 0h1m0 2h1m-158 1h1m155 0h1m-343 1h1m165 0h1m19 0h1m157 3h1m-180 1h1m20 0h1m165 2h1m-185 1h1m16 0h1m156 0h1m-175 1h1m15 2h1m1 0h1m-19 1h1m177 0h1m5 1h1m-185 1h2m13 0h1m-15 1h1m13 0h1m159 0h1m1 0h1m5 0h1m-9 1h1m1 0h1m-1 1h1m2 0h1m-180 1h1m175 1h1m-176 1h1m11 2h1m164 0h1m-3 1h1m-173 1h1m9 2h1m159 1h1m-172 1h1m9 0h1m-2 1h1m-2 1h1m-9 1h1m175 2h1m-4 2h1m-355 88h1m-12 1h1m2 0h1m7 0h1m-19 1h1m12 0h1m5 0h2m-27 1h1m12 0h1m-11 2h1m5 0h1m185 0h1m-159 1h1m157 0h1m-202 1h1m11 0h1m1 0h1m181 0h1m176 0h1m-373 1h1m187 0h1m3 0h1m166 0h1m21 0h1m-192 1h2m-178 1h1m177 0h1m15 0h1m152 0h1m3 0h1m-183 1h1m5 0h1m159 0h1m-351 1h1m8 0h1m178 0h1m175 1h1m-354 1h1m6 0h1m3 0h1m190 0h1m176 0h1m-371 1h2m1 0h2m172 0h1m16 0h1m151 1h1m-340 1h1m9 1h1m355 0h1m-22 1h1m2 1h1m17 0h1m-20 1h1m-319 1h1m-16 1h1m175 0h1m177 0h1m-177 1h1m-177 1h1m12 0h1m161 0h1m-175 1h1m11 0h1m146 0h1m192 0h1m-341 1h1m323 0h1m15 0h1m-352 1h1m158 1h1m192 0h1m-1 1h1m-342 1h1m147 0h1m-159 4h1m157 0h1m-1 1h1m14 0h1m177 0h1m-194 1h1m-153 1h1m-8 1h1m6 0h1m-8 1h1m158 0h1m-163 1h1m0 1h2m6 0h1m150 0h1m16 0h1m177 0h1m-356 1h2m353 1h1m-356 1h1m353 0h1m-347 1h1m345 0h1m-355 3h1m160 0h1m-161 1h1m158 0h1m191 0h1m-355 1h1m7 0h1m-6 1h1m3 0h1m-1 1h1m154 0h1m180 0h1m-181 1h1m16 0h1m162 0h1m11 0h1m-193 1h1m-161 1h1m340 2h1m9 0h1m-192 2h1m15 0h1m-181 1h1m162 0h1m16 0h1m-181 1h1m163 0h1m190 0h1m-193 1h1m15 0h1m-1 1h1m-15 3h1m188 0h1m-349 2h1m-3 1h1m-1 1h1m340 0h1m5 0h1m-2 1h1m-172 2h1m164 1h1m8 0h1m-7 2h1m-1 1h1m-171 1h1m173 0h1m-175 1h1m173 0h1m-176 1h1m175 1h1m-349 2h1m342 2h1m-172 1h1m170 0h1m2 0h2m-6 1h1m5 1h1m-3 1h1m-181 2h1m179 0h1m-176 1h1m173 0h1m-175 1h1m-7 1h1m175 0h1m2 0h1m-180 1h1m176 0h1"/>
<path stroke="#44e" d="M0 0m299 29h1m-179 2h1m339 0h1m-17 2h1m-136 1h1m135 1h1m3 0h1m5 0h1m22 1h1m-369 1h1m3 1h1m340 0h1m-345 2h1m0 1h1m200 0h1m-14 4h1m18 30h1m-23 5h1m176 6h1m-158 10h1m167 0h1m-11 1h1m0 4h1m5 1h1m-5 2h1m4 1h1m-6 1h1m1 6h1m-177 1h1m174 2h1m-4 2h1m-360 90h1m10 1h1m-32 1h1m-1 1h1m-11 3h1m193 0h1m16 0h1m-200 2h1m202 0h1m-209 1h1m344 0h1m-342 2h1m357 0h1m-311 3h1m305 1h1m-163 1h1m22 20h1m-168 1h1m-13 4h1m9 3h1m344 2h1m-356 5h1m340 1h1m12 0h1m-355 5h1m1 1h1m2 4h1m-6 2h1m177 0h1m171 6h1m-188 4h1m-161 1h1m346 0h1m-7 1h1m-170 4h1m-1 2h1m168 0h1m-2 3h1m-179 1h1m178 5h1m0 2h1m-175 2h1m173 0h1"/>
<path stroke="#45e" d="M0 0m457 29h1m-164 1h1m1 1h1m1 0h1m165 0h1m1 0h1m5 0h1m-174 1h1m4 0h3m163 0h1m1 0h1m-357 1h1m2 0h2m6 0h1m166 0h1m1 0h1m11 0h1m165 0h1m-362 1h1m6 0h1m163 0h1m7 0h1m15 0h2m130 0h1m11 0h1m3 0h1m2 0h1m4 0h1m-351 1h1m177 0h1m2 0h1m15 0h1m140 0h1m7 0h1m-9 1h1m-142 1h1m147 0h1m19 0h1m-364 1h2m166 0h1m8 0h3m164 0h2m-326 1h1m159 0h1m16 0h1m-207 1h1m8 0h1m2 0h1m17 0h1m155 0h1m2 0h2m3 0h1m159 0h1m-344 1h2m180 0h1m12 0h1m154 1h1m-167 2h1m11 0h2m-13 1h1m11 0h1m-188 3h1m0 1h1m174 0h1m-164 1h1m174 0h1m0 2h1m156 0h1m-344 1h1m185 0h1m169 1h1m-182 1h1m-2 3h1m169 1h1m-336 1h1m177 2h1m-186 1h1m4 1h1m-5 1h1m183 0h1m156 0h1m-340 1h1m181 0h1m-185 1h1m168 0h1m-2 1h1m16 2h1m-19 3h1m-1 2h1m17 0h1m-1 1h1m-20 2h1m19 0h1m-2 1h1m-20 1h1m19 0h1m155 0h1m-343 1h1m165 0h1m18 0h2m155 0h1m-177 2h1m175 0h1m-156 1h1m-22 1h1m18 0h1m157 1h1m8 1h1m-2 2h1m-166 1h1m163 1h1m-183 1h1m-2 1h1m15 0h1m159 0h1m-2 2h2m-176 1h1m180 2h1m-181 1h1m175 0h2m1 0h1m-1 2h1m-4 1h1m0 1h1m-177 1h1m0 2h2m7 1h1m-10 2h1m9 3h1m-4 3h1m-7 1h1m1 1h1m0 1h1m-193 90h2m-5 1h1m14 0h2m-25 1h1m4 0h1m20 0h1m-32 1h2m4 0h1m0 1h1m-2 1h1m-12 1h1m10 0h1m173 0h1m16 0h1m165 0h1m3 0h1m1 0h1m3 0h1m-370 1h1m1 0h1m179 0h1m12 0h1m162 0h1m-362 1h2m2 0h1m35 0h1m143 0h1m174 0h1m-175 1h1m172 0h1m-353 1h1m155 0h1m23 0h1m165 0h1m-351 1h5m341 0h1m9 0h2m-352 1h1m175 0h1m170 0h1m4 0h1m-343 1h1m166 0h1m2 0h1m170 0h1m-338 1h3m-12 1h1m11 0h1m20 0h1m314 0h1m1 0h1m-318 1h1m143 0h1m172 0h1m-172 1h1m15 0h1m156 0h2m19 0h1m-356 1h1m15 0h1m144 0h1m175 1h1m19 3h1m-17 1h1m-1 1h1m-325 3h1m162 1h1m-1 2h1m-175 1h1m9 1h1m340 0h1m-178 1h1m162 0h1m-1 1h1m-338 1h1m336 0h1m13 0h1m-15 1h1m-332 3h1m152 0h1m14 0h1m163 1h1m-334 1h1m-8 1h1m2 0h1m3 0h1m-6 1h1m349 0h1m-354 1h1m2 0h1m157 0h1m191 0h1m-354 1h2m3 0h1m155 0h1m-157 1h1m-4 1h1m338 0h1m11 0h1m-352 1h1m3 0h1m334 0h1m-338 1h2m171 0h1m163 0h1m10 1h1m-355 1h1m3 0h1m1 0h1m156 0h1m-159 1h3m-4 1h2m337 0h1m-338 1h1m336 0h1m-341 1h1m175 0h2m-178 1h1m0 1h1m158 0h1m15 0h1m-173 1h1m336 0h1m-167 1h1m164 0h1m9 1h1m-10 1h1m-341 1h1m341 0h1m6 0h1m-351 1h2m159 1h1m186 0h1m-2 1h2m-174 1h1m172 0h1m-188 2h1m187 0h1m-189 1h1m180 0h1m-1 1h1m-170 1h1m172 0h2m-187 1h1m180 0h2m4 0h1m-3 1h1m-174 1h1m-1 1h1m170 0h1m-182 1h1m180 1h1m1 0h1m-184 1h1m180 0h1m-2 1h1m2 0h1m-183 1h1m7 0h1m170 0h1m-1 1h1m2 0h1m-175 1h1m172 0h1m-174 1h1m169 0h2m1 0h1m-175 1h1m174 0h2m-178 1h1m-1 1h1m172 0h1m2 0h1m-179 1h1m174 0h2m2 0h1m-3 1h1m-181 1h1m5 1h1m171 1h2m-178 1h1m2 0h1m-4 2h1m177 0h1"/>
<path stroke="#9ae" d="M0 0m456 30h1m-15 3h1m4 0h1m5 0h1m-13 2h1m21 4h1m-172 1h1m-154 1h1m1 1h1m155 1h1m-171 3h1m-2 2h1m175 0h1m-1 1h1m-1 13h1m-166 4h1m-3 17h1m163 9h1m176 8h1m-344 2h1m167 2h1m1 5h1m1 6h1m174 1h1m1 2h1m-361 88h1m-43 3h1m11 2h1m204 0h1m164 2h1m10 0h1m6 1h1m-219 1h1m191 0h1m-3 1h1m27 0h1m-33 1h1m-361 1h1m362 1h1m0 1h1m-323 4h1m20 4h1m161 5h1m160 2h1m-337 2h1m335 0h1m-1 1h2m14 6h1m-177 1h1m-168 1h1m328 6h1m-161 1h1m-185 3h1m357 6h1m-360 5h1m10 1h1m333 2h1m-182 2h1m-163 5h1m1 0h1m349 9h1m-349 6h1m162 8h1"/>
<path stroke="#78e" d="M0 0m116 31h1m162 0h1m22 0h1m154 0h1m2 0h1m-344 1h1m172 0h1m1 0h1m7 0h1m-188 1h1m165 0h1m10 0h1m161 0h1m7 0h1m-349 1h1m173 0h1m3 0h1m153 2h1m-331 1h1m343 0h1m-324 1h1m319 0h1m25 0h1m-369 1h1m175 0h1m176 2h1m-345 2h1m16 0h1m326 0h1m2 0h1m14 1h1m-345 2h1m162 1h1m-177 1h1m344 1h1m14 0h1m-1 1h1m-184 1h1m12 0h1m169 0h1m-357 3h1m0 1h1m172 0h1m-3 1h1m13 1h1m157 0h1m-336 1h1m-8 1h1m170 0h1m-1 1h1m182 0h1m-350 2h2m347 2h1m-184 1h1m182 0h1m-13 3h1m-341 1h1m164 2h1m19 2h1m-3 2h1m-1 1h1m1 0h1m-22 3h1m176 0h1m-344 1h1m163 1h1m2 1h1m185 0h1m-188 1h1m186 3h1m-186 2h1m-3 2h1m177 1h1m-160 1h1m156 0h1m-158 2h1m-2 1h1m157 0h1m10 0h1m-170 3h1m166 3h1m-8 1h1m-163 1h1m161 2h1m2 1h1m3 3h1m-8 2h1m2 1h1m-2 2h1m-175 2h1m6 0h1m164 0h1m-172 1h1m174 0h1m-362 90h1m-18 1h1m24 0h1m2 1h1m-35 4h1m7 0h1m-18 1h1m51 0h2m139 1h1m22 0h1m-208 1h1m170 0h1m-167 1h1m200 0h1m-27 1h1m-133 2h1m307 0h1m4 0h1m-3 2h1m-148 1h1m149 0h1m6 1h1m-340 1h1m4 0h1m178 1h1m-16 3h1m-146 5h1m145 3h1m-159 3h1m10 0h1m-2 1h1m164 1h1m-177 2h1m175 0h1m161 1h1m-181 1h1m193 1h1m-176 2h1m174 1h1m-14 2h1m-341 2h1m5 2h1m151 1h1m-160 3h1m159 0h1m179 0h1m-341 2h1m-1 4h1m159 0h1m0 1h1m-162 1h1m3 0h2m154 2h1m-158 1h1m157 2h1m-1 3h1m-1 1h1m188 2h1m-353 3h1m350 1h1m-1 2h1m-7 2h1m5 0h1m-185 3h1m183 0h1m-5 1h1m-173 1h1m169 5h1m-179 1h1m-1 1h1"/>
<path stroke="#35e" d="M0 0m295 31h1m1 1h2m2 0h1m161 0h2m3 0h2m-345 1h1m171 0h1m1 0h1m7 0h1m158 0h1m4 0h1m1 0h1m-359 1h2m2 0h1m2 0h1m5 0h2m168 0h2m3 0h1m1 0h1m1 0h1m157 0h2m-352 1h1m2 0h2m173 0h2m1 0h1m165 0h1m-346 1h5m174 0h1m-179 1h1m175 0h1m1 0h1m-179 1h1m181 0h1m11 0h1m150 0h1m-163 1h1m179 1h1m-362 1h2m1 1h1m1 2h1m344 0h1m-332 1h1m331 1h1m0 1h1m12 1h1m-353 9h1m172 0h1m-1 1h1m-174 4h1m3 1h1m-1 1h1m179 1h1m-183 1h1m340 0h1m-160 1h1m158 1h1m-159 1h1m-1 1h1m167 1h1m-169 1h1m-1 1h1m157 4h1m-176 1h1m183 2h1m-185 2h1m16 1h1m166 2h1m-1 1h1m-2 1h1m0 1h1m-184 1h1m175 1h1m5 0h1m-183 1h1m176 2h2m-178 1h1m12 0h1m163 0h1m-3 1h1m3 1h1m-179 1h1m173 0h1m1 0h2m-167 1h1m164 0h1m-166 3h1m-12 1h1m9 1h1m-10 1h1m0 1h1m7 0h1m-2 4h1m-8 1h1m6 0h1m-7 3h1m4 0h1m-7 1h1m4 0h2m-2 1h1m-188 93h1m-10 1h1m1 0h1m2 0h1m4 0h2m-13 1h1m0 1h1m18 0h1m-33 1h1m3 0h1m29 0h1m1 1h1m153 0h1m-191 1h2m4 0h3m177 0h2m1 0h1m5 0h1m167 0h1m6 0h2m-371 1h1m5 0h1m356 0h1m9 0h1m-373 1h1m359 0h1m-359 1h2m35 0h1m145 0h1m12 0h1m159 0h1m-357 1h1m179 0h2m16 0h1m158 0h1m17 0h1m-373 1h3m32 0h1m141 0h1m-168 1h1m167 0h1m173 0h1m1 1h1m-318 1h1m145 0h1m170 0h1m-317 1h1m316 0h1m1 0h1m-158 2h1m-15 1h1m14 0h1m-15 1h1m-161 1h1m160 0h1m-148 1h1m146 0h1m191 1h1m-340 4h1m-11 1h1m-1 1h1m-1 2h1m8 0h1m340 0h1m-192 1h1m176 0h1m13 0h1m-192 1h1m-1 1h1m12 0h1m-173 1h1m-2 2h1m159 0h1m-160 1h1m4 1h1m-5 1h1m2 0h1m344 1h1m-350 1h1m157 0h1m-160 1h1m349 0h1m-353 2h2m339 0h1m-339 1h1m347 0h1m-349 1h1m337 0h1m-166 2h1m-175 2h1m338 0h1m-167 1h2m164 3h1m-182 1h1m181 0h1m7 0h1m-176 1h1m166 0h1m-168 1h1m165 0h1m-167 1h1m166 1h2m5 0h1m-9 1h1m1 0h1m5 0h1m-8 1h1m-1 1h1m4 0h2m-188 1h1m183 2h1m-184 1h1m179 0h1m-181 1h1m11 0h1m167 0h1m4 0h1m-186 1h1m180 0h1m-182 1h1m180 0h1m1 1h1m-184 1h1m180 0h1m1 0h1m-173 2h1m171 0h1m-1 1h1m-182 2h1m180 0h2m-175 1h1m-2 2h1m173 1h1m-176 1h1m-6 1h1m4 0h1m-5 2h1m178 2h1m-180 2h4m-4 1h1m2 0h1m-3 1h1m2 0h1m-3 1h2m-2 1h1"/>
<path stroke="#34e" d="M0 0m299 31h2m4 0h1m161 0h3m-355 1h1m178 0h1m7 0h1m152 0h2m-339 1h1m2 0h1m169 0h1m12 0h1m150 0h2m1 0h1m-8 1h1m6 0h1m-149 1h1m148 0h1m1 0h1m15 0h1m-185 1h1m17 0h1m148 0h1m-348 1h1m2 0h1m342 1h1m20 0h1m-370 1h1m183 0h1m3 0h1m-2 1h1m183 0h1m-361 2h1m15 0h2m160 0h1m13 1h1m-191 1h1m15 0h1m-16 1h1m344 0h1m-343 2h1m356 0h1m-345 2h1m344 0h1m-183 1h1m11 1h1m0 3h1m157 4h1m-343 2h1m-1 1h1m353 2h1m-170 1h1m-182 1h1m-5 1h2m0 1h2m165 2h1m16 0h1m-19 2h1m17 0h1m167 0h1m-169 2h1m-1 4h1m-1 5h1m166 1h1m-187 1h1m185 0h1m-1 1h1m-166 1h1m-21 3h1m182 3h1m-1 1h1m-9 1h1m7 1h1m-7 1h2m-177 1h1m180 0h1m-182 1h1m176 4h1m-177 1h1m173 0h2m1 0h1m-168 3h1m166 0h1m-167 2h1m164 0h1m-167 1h1m-10 3h1m7 0h1m-2 5h1m-206 91h1m8 0h1m-10 1h1m11 0h1m-13 1h1m4 0h1m-6 2h1m1 0h1m181 0h1m1 0h2m-156 1h1m151 0h1m4 0h1m168 0h1m5 0h2m-367 1h1m359 0h1m-371 1h1m9 0h1m175 0h1m-183 1h1m6 0h1m173 0h2m2 0h1m16 0h1m-199 1h1m163 0h2m16 0h1m172 0h1m-2 1h1m-357 1h2m180 0h1m2 0h1m174 0h1m-350 1h2m2 0h1m166 0h1m175 0h1m-345 1h1m29 0h1m139 0h1m166 0h1m8 0h1m-173 1h2m16 0h1m153 0h1m-335 1h1m335 1h1m-331 3h1m160 0h1m192 0h1m-17 1h1m-336 2h1m13 0h1m321 0h1m16 1h1m-193 3h1m-160 1h1m351 4h1m-352 1h1m6 3h1m150 1h1m-162 1h2m159 0h1m-153 1h1m-9 1h2m-4 1h1m7 0h1m-7 1h2m337 1h1m-341 1h1m5 0h1m333 0h1m-343 1h1m7 0h1m-9 1h1m6 1h1m346 0h1m-353 1h1m4 0h1m-2 1h1m347 0h1m-354 1h1m351 0h1m-349 1h1m156 0h1m15 0h1m163 0h1m-343 1h1m3 0h1m174 0h1m173 0h1m-174 1h1m-176 1h2m172 0h1m-174 1h1m154 1h1m-159 1h1m-3 1h1m340 0h1m-341 1h1m339 0h1m9 0h1m-10 1h1m-182 2h1m189 0h1m-349 1h1m172 1h1m172 0h1m1 1h1m-2 1h1m-10 3h2m5 0h2m-3 4h1m-6 1h1m-343 1h1m346 0h1m0 2h1m-185 1h1m182 1h1m0 1h1m-1 1h1m-3 1h1m-3 1h2m1 0h1m0 1h1m-3 1h1m-180 1h1m177 0h1m-1 1h1m-180 1h1m3 0h1m175 0h2m-183 1h1m5 0h1m172 0h1m3 0h1m-178 1h1m175 0h2m-6 3h1m1 0h1m-177 2h1"/>
<path stroke="#23e" d="M0 0m301 31h1m168 0h1m-345 2h1m-13 1h1m342 1h2m2 2h1m-345 3h1m347 0h1m-162 8h1m181 0h1m-183 13h1m-4 13h1m17 6h1m157 9h1m-176 6h1m174 3h1m-171 19h1m-202 94h1m-6 1h1m362 1h1m-361 1h1m-1 1h1m178 1h1m-179 1h1m179 0h1m-142 1h1m130 0h1m183 1h1m-175 1h1m20 0h1m-188 1h1m354 13h1m-325 2h1m147 0h1m-157 15h1m-4 6h1m337 6h2m-183 1h1m181 7h1m-341 1h1m339 3h1m2 6h1m-2 5h1m1 1h1m-181 4h1m5 0h1m-3 3h1m-4 6h1m-1 1h1m2 0h1"/>
<path stroke="#24e" d="M0 0m465 31h1m-171 1h2m168 0h3m-346 1h2m178 0h1m3 0h1m155 0h2m8 0h1m-355 1h1m2 0h1m9 0h1m172 0h1m157 0h2m11 0h1m-360 1h2m2 0h2m173 1h1m14 0h1m-16 1h1m166 0h1m-344 1h1m176 0h1m165 0h1m-345 1h1m178 0h1m14 0h1m152 0h1m-348 1h1m182 1h1m166 0h1m13 0h1m-182 1h1m0 1h1m1 3h1m11 1h1m-177 1h1m175 1h1m-12 1h1m-175 2h1m174 1h1m9 0h1m-177 3h1m165 0h1m-174 2h1m183 1h1m-179 1h1m-1 1h1m178 0h1m-2 5h1m0 8h1m167 1h1m-1 1h1m-169 2h1m167 0h1m-169 8h1m-1 2h1m159 0h1m-161 1h1m165 0h1m-167 1h1m164 1h1m-1 1h1m-6 1h1m-177 1h1m175 0h1m4 0h1m-3 1h1m1 0h1m-3 1h1m1 0h1m-5 1h1m3 0h1m-5 1h1m-165 1h1m-12 1h1m10 0h1m-11 5h1m0 4h1m-1 2h1m6 0h1m-8 2h1m-1 2h1m4 1h1m-3 1h2m-188 91h1m-8 1h1m1 0h1m8 0h1m-13 1h1m-5 1h1m-9 1h1m1 0h1m4 0h1m-8 1h2m189 0h2m-194 2h1m5 0h1m358 0h1m9 0h2m-371 1h1m353 0h2m-356 1h1m179 0h1m-182 1h1m1 0h1m350 0h1m-346 1h2m365 0h1m-194 1h2m-2 1h1m194 0h1m-193 2h1m193 0h1m-194 1h1m173 0h1m-157 6h1m-174 1h1m160 7h1m-160 1h1m4 6h1m167 0h1m-174 1h1m336 0h1m-336 1h1m0 1h1m-2 1h2m-2 1h2m169 0h1m-176 1h1m174 1h1m-1 1h1m-176 1h2m173 0h1m174 0h1m-349 1h1m347 0h1m-350 1h2m172 5h1m164 0h1m-341 1h2m346 4h1m-8 2h1m6 1h1m-8 2h1m3 0h1m-5 1h1m3 2h2m-174 2h1m171 0h1m-185 2h1m179 1h1m1 0h1m-172 1h1m171 0h1m-1 3h2m-183 2h1m-1 1h1m179 1h1m-174 1h1m172 0h1m-174 1h1m-1 1h1m-2 1h1m-1 1h1m-4 1h1m177 0h1m-180 1h2m-2 1h1m-2 1h1m3 2h1m-3 3h1"/>
<path stroke="#abe" d="M0 0m119 32h1m188 0h1m-178 1h1m-17 7h1m358 16h1m-156 6h1m168 9h1m-353 1h1m183 17h1m155 2h1m6 12h1m-8 4h1m-1 2h1m-373 101h1m37 4h1m313 3h1m1 4h1m-337 2h1m344 4h1m5 6h1m-335 8h1m335 0h1m-165 43h1m-3 14h1"/>
<path stroke="#bbe" d="M0 0m459 32h1m15 29h1m-163 212h1"/>
<path stroke="#14e" d="M0 0m124 33h1m173 0h1m-173 1h1m173 0h1m-4 2h1m164 0h1m-346 1h1m1 0h1m179 1h1m164 0h1m-345 2h1m346 0h1m-153 6h1m-187 2h1m187 13h1m-183 4h1m167 3h1m-1 2h1m182 0h1m-169 1h1m-17 3h1m183 3h1m-2 7h1m-185 1h1m176 4h1m4 1h1m-167 1h1m160 1h1m1 0h1m1 1h1m-2 1h1m-166 1h1m164 3h1m-178 3h1m8 7h1m-7 8h1m-186 93h1m1 0h1m-8 1h1m-6 1h1m1 0h1m-6 2h1m1 0h1m181 0h1m177 1h1m-184 1h1m-1 1h1m189 0h1m-370 1h1m353 0h1m16 0h1m-371 1h2m2 1h1m8 2h1m340 1h1m-157 1h1m-1 1h1m-14 1h1m194 10h1m-343 5h1m-9 3h1m-1 1h1m1 2h1m1 0h1m-2 1h1m-4 1h2m-1 1h1m347 0h1m-192 1h1m179 5h1m-181 5h1m14 2h1m165 3h1m-182 1h1m-1 1h1m183 2h1m0 1h1m-3 1h1m-2 2h1m0 4h1m-183 3h1m2 7h1m1 5h1m1 1h1m-3 4h1m0 1h1"/>
<path stroke="#46e" d="M0 0m300 33h1m4 0h1m158 0h1m-348 1h1m9 0h1m168 0h1m0 1h1m1 0h1m9 0h1m154 0h1m-4 1h1m3 0h1m12 0h1m-358 1h1m-3 2h1m178 0h1m3 3h1m10 1h1m-175 3h1m344 0h1m-181 1h1m11 1h1m-186 2h1m183 0h1m170 0h1m-346 1h1m174 1h1m-176 1h1m174 5h2m158 2h1m9 1h1m-1 1h1m-170 2h1m-182 1h1m165 6h1m-1 2h1m173 2h1m-1 1h1m-159 1h1m-1 2h1m-18 2h1m16 4h1m-18 1h1m-1 1h1m0 3h1m14 2h1m163 1h1m1 0h1m-181 2h1m178 0h1m-179 1h1m11 0h1m165 1h1m-1 1h1m-169 4h1m-1 2h1m-3 8h1m-200 98h1m17 0h1m-16 1h1m16 0h1m-23 1h1m355 2h1m-7 4h1m-350 1h2m175 0h1m15 0h1m157 0h1m-173 1h1m171 0h1m19 0h1m-362 1h1m362 1h1m-338 3h1m-14 2h1m13 0h1m321 0h1m16 1h1m-15 2h1m-164 1h1m0 1h1m162 0h1m-164 1h1m-173 1h1m158 0h1m12 1h1m-14 2h1m-153 4h1m151 1h1m190 0h1m-345 1h1m-2 1h1m167 2h1m-174 1h1m336 0h1m-336 1h1m155 0h1m-1 3h1m-159 1h1m-3 1h1m159 0h1m-160 2h1m173 0h1m164 1h1m-167 1h1m-1 1h1m175 2h1m-1 1h1m-192 3h1m189 0h1m-9 2h1m1 3h1m2 2h1m1 0h1m-188 1h1m12 0h1m166 1h1m-1 3h1m-169 1h1m-2 1h1m169 0h1m-182 3h1m-1 1h1m9 1h1m172 2h1m-182 2h1m3 7h1m-2 1h1"/>
<path stroke="#25e" d="M0 0m467 33h1m1 0h2m-341 1h1m170 0h2m3 0h1m166 0h2m-170 1h1m1 0h2m154 0h1m-155 1h1m153 0h2m12 0h1m-168 1h1m153 0h1m-344 1h1m175 0h2m2 0h1m9 0h1m167 0h1m-360 1h2m-1 1h1m190 0h1m-191 1h1m179 0h1m9 0h1m156 1h1m-346 1h1m13 0h1m164 0h1m166 0h1m-167 2h1m166 0h1m-157 2h1m-11 1h1m9 0h1m157 0h1m-334 1h1m164 0h1m9 0h1m-185 2h1m174 0h1m167 0h1m-169 1h1m8 0h1m170 0h1m-1 1h1m-355 1h1m183 0h1m-177 1h1m175 0h1m-1 1h1m-183 3h1m181 0h1m-183 1h1m182 0h1m-180 1h1m178 1h1m-184 1h1m169 0h1m12 0h1m168 0h1m-183 1h1m171 3h1m-160 1h1m-15 1h1m172 0h1m9 0h1m-11 1h1m-175 2h1m183 0h1m-11 1h1m9 0h1m-185 2h1m-1 2h1m174 2h1m-177 1h1m175 0h1m-160 1h1m158 0h1m-160 1h1m158 0h1m-1 1h1m-177 1h1m175 1h1m-160 2h1m164 2h1m-6 2h2m1 0h2m-4 1h1m2 0h1m-180 1h1m12 0h1m-3 8h1m-10 2h1m7 4h1m-7 5h1m3 0h1m-1 1h1m-5 1h1m-1 1h1m1 0h2m-3 1h2m-189 93h1m1 0h1m-6 1h2m-7 1h1m-2 1h1m2 0h1m-6 1h1m28 1h1m-30 1h1m178 0h1m9 0h1m168 0h2m1 0h1m-183 1h1m175 0h1m-356 1h1m31 0h1m-28 1h1m27 0h1m145 0h1m13 0h1m-187 1h1m172 0h1m-171 1h1m343 0h1m-320 1h1m160 0h1m-180 1h1m165 1h1m173 0h1m-336 1h1m161 0h1m173 0h2m16 0h1m-191 2h1m174 0h1m-175 1h1m12 0h1m162 1h1m-175 5h1m190 3h1m-351 1h1m171 0h1m177 0h1m-343 2h1m163 1h1m-172 2h1m157 1h1m189 0h1m-349 1h1m-1 1h1m1 1h1m345 0h1m-12 2h1m-1 1h1m-1 2h1m-181 1h1m189 0h1m-350 1h1m338 0h1m-181 1h1m-1 3h1m179 0h1m-181 1h1m-1 1h1m14 1h1m164 0h1m8 0h1m-1 1h1m-9 1h1m6 2h1m-1 1h1m-7 1h1m-183 2h1m182 0h1m-184 1h1m186 0h1m-188 1h1m12 1h1m168 0h1m1 0h1m-2 1h2m-172 1h1m169 0h1m1 0h1m-173 1h1m168 0h1m1 0h1m-3 1h4m-2 2h1m-2 1h1m-182 4h1m-1 1h2m0 1h1m-1 2h1m-1 2h1m4 0h1m-6 1h1m3 1h1m-1 1h1m-2 1h2m-2 5h1"/>
<path stroke="#36e" d="M0 0m468 33h1m-2 1h1m4 0h1m-341 1h1m165 0h1m4 0h2m160 0h2m-334 1h1m167 1h1m0 3h1m-166 1h1m165 1h1m10 3h1m169 2h1m-170 4h1m170 0h1m-12 2h1m-160 4h1m-178 2h1m166 0h1m169 0h1m-171 1h1m-2 1h1m-2 1h1m181 2h1m-1 1h1m-1 1h1m-183 2h1m171 6h1m-160 2h1m0 4h1m166 1h1m-185 2h1m16 1h1m158 0h1m6 2h1m-183 2h1m181 0h1m-4 2h2m-2 2h1m-167 5h1m-12 1h1m-1 1h1m8 7h1m-7 1h1m4 4h1m-3 5h1m-195 94h1m8 0h1m4 0h1m-15 2h1m20 1h1m158 1h1m173 1h1m4 0h1m-366 1h1m190 0h1m164 0h1m-353 2h1m3 1h1m173 1h1m171 1h1m0 1h1m-336 1h1m2 2h1m0 1h1m352 1h1m-190 3h1m190 1h1m-351 1h1m335 1h1m-164 1h1m162 0h1m-177 1h1m-151 2h1m162 1h1m163 0h1m-165 1h1m-172 1h1m170 3h1m176 1h1m-347 1h1m155 0h1m189 2h1m-192 9h1m188 0h1m-1 1h1m-10 2h1m8 0h1m-190 2h1m180 0h1m-168 2h1m172 5h1m-4 2h1m-172 2h1m168 0h1m0 2h1m-173 8h1m-8 3h1m3 4h1m-2 4h1"/>
<path stroke="#15e" d="M0 0m123 34h1m176 1h1m1 0h1m-4 1h1m-3 1h1m165 0h1m-162 2h1m8 0h1m154 0h1m-331 1h1m331 0h1m-156 4h1m169 0h1m-355 3h1m345 5h1m-337 6h1m346 2h1m-352 4h2m180 5h1m-15 2h1m172 0h1m-175 7h1m174 0h1m7 1h1m-3 9h1m-2 1h1m-166 1h1m162 1h1m-166 5h1m-3 7h1m-1 1h1m-7 4h1m4 2h1m-2 1h1m-4 1h1m-1 1h1m1 0h1m-2 1h2m-3 1h1m-189 95h1m-8 2h2m177 2h1m-182 1h1m28 0h1m149 0h1m183 0h1m-11 2h2m-354 1h2m350 0h1m-161 1h1m159 0h1m17 1h1m-190 2h1m172 0h1m17 0h1m-354 1h1m17 5h1m-12 2h1m338 13h1m-334 2h1m167 5h1m165 0h1m8 5h1m-176 1h1m-1 4h1m-15 2h1m188 0h1m-3 4h1m-1 1h1m-2 2h1m-174 1h1m169 6h2m-175 10h1m-6 5h1"/>
<path stroke="#16e" d="M0 0m124 34h1m343 0h3m-340 1h1m169 0h1m-1 1h3m-2 1h1m6 0h1m1 3h1m-9 1h1m177 0h1m-358 1h1m345 0h1m-346 1h1m186 0h1m-9 1h1m166 0h1m-159 1h1m158 1h1m-159 1h1m-176 1h1m166 1h1m0 4h1m7 1h1m-9 2h1m-174 1h1m4 0h1m167 0h1m168 0h1m-339 3h1m167 1h1m-173 1h1m170 0h1m10 4h1m-14 6h1m173 4h1m7 0h1m-9 1h1m0 8h1m-162 1h1m165 0h1m-167 1h1m161 0h1m3 0h1m-4 1h1m-178 1h1m13 0h1m162 0h2m-179 2h1m-1 1h1m11 3h1m-2 5h1m-10 2h1m6 7h1m-5 2h1m-188 99h1m4 0h2m-16 4h3m179 0h1m-4 1h1m4 0h2m174 0h2m-363 1h1m179 0h1m177 0h1m6 0h2m-366 1h1m188 0h1m165 0h1m-351 1h1m347 0h1m-175 1h1m173 0h1m-1 1h1m-172 3h1m-148 1h1m-14 1h1m0 1h1m12 0h1m-13 1h1m0 1h1m11 1h1m325 2h1m13 2h1m-341 1h1m-1 1h1m-2 3h1m-8 1h1m5 1h1m329 0h1m11 1h1m-345 2h1m-4 1h3m167 0h1m-1 3h1m-14 1h1m188 3h1m-177 3h1m174 0h1m-176 1h1m166 2h1m-1 1h1m-168 3h1m167 1h1m-183 1h1m187 0h1m-7 1h1m4 0h1m-175 1h1m169 2h1m1 1h2m-186 3h1m0 4h1m-1 2h1m-1 3h1m8 0h1m-10 1h1m0 1h1m6 3h1m-6 1h1m-1 1h1m1 1h1m-3 1h1m1 0h1m-3 1h3m-2 1h1"/>
<path stroke="#26e" d="M0 0m125 34h1m345 0h1m-350 1h1m183 0h1m168 0h1m-354 1h1m175 0h1m1 0h1m7 0h1m-11 1h3m164 0h1m-164 1h1m162 0h1m-331 1h1m343 0h1m-357 2h1m358 1h1m-345 2h1m-12 1h1m10 0h1m344 0h1m-170 1h1m-185 2h1m354 1h1m-180 1h1m167 0h1m-343 3h1m182 0h1m-9 1h1m-175 1h1m173 0h1m178 0h1m-1 1h1m-1 1h1m-353 1h1m351 0h1m-1 1h1m-171 1h1m-183 1h1m2 1h1m179 9h1m-1 1h1m-1 2h1m-1 3h1m167 0h1m-169 1h1m167 0h1m-184 1h1m182 3h1m-1 1h1m-2 2h1m-7 1h1m-177 1h1m14 1h1m161 0h1m2 0h1m-4 1h1m-1 1h2m-165 2h1m-13 2h1m-1 1h1m1 9h1m6 1h1m-7 1h1m-1 3h1m-1 1h1m-1 1h1m2 0h1m-2 1h1m-1 1h1m-2 1h1m-187 96h3m3 0h2m-13 1h1m-6 2h4m-5 1h1m181 0h1m1 0h1m2 1h1m-158 1h1m148 0h1m9 0h1m166 0h2m-358 1h1m178 0h1m175 0h1m12 0h1m-364 1h1m173 0h1m-172 1h1m24 1h1m160 0h1m-180 1h1m166 0h1m171 0h1m-159 2h1m160 0h1m16 0h1m-191 1h1m0 1h1m173 0h1m-162 1h1m0 2h1m-13 1h1m0 2h1m-1 1h1m189 0h1m-350 1h1m8 3h1m162 0h1m163 0h1m-1 1h1m0 4h1m-332 1h1m330 0h1m11 0h1m-349 1h1m0 2h1m334 0h1m-179 2h1m178 0h1m-167 1h1m-1 1h1m-1 2h1m-1 1h1m-1 1h1m-15 2h1m180 5h1m-182 4h1m181 1h1m4 0h1m-2 1h1m-1 1h1m-3 1h1m-172 1h1m171 0h1m-184 5h1m-1 4h1m-1 1h1m8 0h1m-1 2h1m-8 2h1m0 2h1m3 2h1m-5 1h1m2 0h1m-2 3h1"/>
<path stroke="#18e" d="M0 0m123 35h1m180 7h1m174 44h1m-164 3h1m-1 1h1m-10 14h1m1 6h1m-196 105h1m179 0h1m-179 1h2m174 1h1m11 3h1m162 0h1m-1 1h1m0 1h1m-173 2h1m-154 19h1m157 38h1"/>
<path stroke="#08d" d="M0 0m124 35h1m342 1h1m-161 2h1m-185 1h1m354 0h1m-175 1h1m1 6h1m1 5h1m168 19h1m-174 5h1m-2 12h1m1 8h1m3 14h2m157 111h1m0 2h1m-159 27h1m172 12h1m-3 1h1m-179 21h1m2 0h1m-3 2h2"/>
<path stroke="#18d" d="M0 0m125 35h1m3 0h2m337 0h6m-342 1h1m342 0h1m-172 1h4m-4 1h1m3 0h1m158 0h1m-164 1h1m3 0h1m-174 1h1m173 0h1m159 0h1m9 0h1m-176 1h1m5 0h1m159 0h1m9 0h1m-10 1h1m9 0h1m-171 1h1m-175 1h1m167 0h1m166 0h1m9 0h1m-171 1h1m-1 1h1m-183 1h1m182 0h1m169 0h1m-353 1h1m175 0h1m166 0h1m-336 1h1m167 0h1m-176 1h1m181 0h1m160 0h1m-344 1h1m352 0h1m-178 1h1m176 0h1m-178 1h1m167 0h1m-344 1h1m174 0h1m5 0h1m161 0h1m-169 1h1m-175 1h1m173 0h1m-171 1h1m176 0h1m-181 1h1m2 0h1m-3 1h2m-2 1h1m170 0h1m169 0h1m-343 1h2m178 0h1m169 0h1m-351 1h1m170 0h1m170 0h1m7 0h1m-181 2h1m-1 1h1m-1 1h1m179 0h1m-181 1h1m179 0h1m-170 1h1m160 0h1m7 0h1m-170 1h1m160 0h1m7 0h1m-170 1h1m168 0h1m-170 1h1m160 0h1m-174 1h1m172 0h1m7 0h1m-1 1h1m-9 1h1m7 0h1m-2 2h1m-7 1h1m-176 1h1m174 0h1m5 0h1m-7 1h1m0 2h1m3 3h1m-2 1h1m-167 1h1m163 0h2m-166 1h1m-13 5h1m9 3h1m-10 1h1m8 0h1m-1 1h1m-2 4h1m-8 1h1m5 1h1m-1 1h1m-5 2h1m-1 1h1m2 0h1m-4 1h1m2 0h1m-1 1h1m-191 102h3m6 0h1m-13 1h2m13 0h1m-17 1h1m18 0h1m-20 1h1m-1 1h1m-4 1h2m24 0h1m152 0h4m1 0h1m173 0h3m-357 1h1m22 0h1m151 0h2m5 0h1m168 0h2m5 0h1m-358 1h1m172 0h2m174 0h1m-348 1h1m171 0h1m9 0h1m164 0h1m-346 1h1m170 0h1m186 0h1m-355 1h1m16 0h1m149 0h1m-165 1h1m1 1h1m12 0h1m149 0h1m10 0h1m163 0h1m13 0h1m-339 1h1m324 0h1m-175 1h1m187 0h1m-350 1h1m171 0h1m-172 1h1m10 0h1m149 0h1m10 0h1m163 0h1m12 0h1m-13 1h1m-176 2h1m10 1h1m-171 1h1m159 0h1m175 0h1m-177 1h1m10 0h1m164 0h1m-177 1h1m-153 2h1m340 0h1m-179 1h1m165 1h1m-336 1h1m4 0h1m163 0h1m-170 1h1m168 0h1m-166 1h1m164 0h1m-169 1h1m1 0h1m165 0h1m166 0h1m9 2h1m-189 1h1m177 0h1m0 2h1m-1 1h1m-1 1h1m-1 1h1m-181 1h1m11 0h1m167 0h1m7 0h1m-189 1h1m11 0h1m-13 1h1m11 0h1m174 0h1m-188 1h1m11 0h1m174 0h1m-188 1h1m11 0h1m-13 1h1m180 0h1m-1 1h1m-171 1h1m169 0h1m-1 1h1m-170 2h1m169 0h1m3 0h1m-187 1h1m11 0h1m169 0h1m1 0h3m-5 1h2m-184 1h1m181 0h2m-184 1h1m182 0h1m-173 5h1m-2 7h1m-9 1h1m-1 1h1m6 0h1m-8 1h1m0 1h1m1 3h1m2 0h1m-1 1h1m-3 1h2"/>
<path stroke="#27e" d="M0 0m126 35h1m1 0h1m338 0h1m-162 1h2m158 0h1m-345 1h1m11 1h1m168 0h1m5 1h1m157 0h1m-165 1h1m165 1h1m-159 1h1m159 1h1m-346 1h1m2 2h1m353 0h1m0 2h1m-11 1h1m10 1h1m-346 1h1m173 0h1m160 0h1m-161 4h1m0 6h1m-1 3h1m-13 6h1m12 3h1m-15 2h1m-1 1h1m13 3h1m166 0h1m-168 1h1m160 1h1m5 0h1m-168 3h1m-1 1h1m164 2h1m-2 1h1m-177 10h1m-1 1h1m8 0h1m-9 4h1m0 2h1m3 5h1m-3 1h1m-192 100h2m-4 2h1m-2 1h2m-5 1h1m357 1h1m-357 1h1m176 0h1m174 1h1m13 0h1m-338 1h1m337 0h1m0 2h1m-177 1h1m163 2h1m-174 2h1m189 2h1m-178 1h1m0 3h1m-163 1h1m339 1h1m-14 1h1m-336 1h1m347 4h1m-190 1h1m187 8h1m-1 1h1m-10 5h1m6 1h1m-176 1h1m174 0h1m-188 3h1m180 1h1m-1 2h1m3 1h1m-1 1h1m-174 1h1m-1 2h1m-13 1h1m-1 1h1m0 3h1m2 10h1m-1 1h1m2 3h1m-3 1h1"/>
<path stroke="#37e" d="M0 0m127 35h1m182 4h1m-189 1h1m357 0h1m-344 2h1m167 4h1m-175 3h1m8 1h1m-1 3h1m345 1h1m-11 4h1m-161 7h1m-13 4h1m12 1h1m-1 5h1m-15 15h1m6 22h1m-179 99h1m2 1h1m-15 8h1m3 1h1m2 1h1m17 1h1m161 2h1m165 4h1m2 15h1m-166 18h1m-15 3h1"/>
<path stroke="#17e" d="M0 0m474 35h1m-171 1h2m170 0h1m-174 1h1m4 0h1m157 0h1m10 0h1m-356 1h1m186 0h1m156 0h1m11 0h1m-357 1h1m180 0h1m-181 1h1m186 0h1m-175 1h1m174 0h1m-8 2h1m177 0h1m-171 1h1m-8 1h1m-168 1h1m174 0h1m159 1h1m-168 1h1m7 0h1m-8 2h1m-1 1h1m-168 1h1m166 0h1m6 0h1m-176 4h1m167 2h1m-173 1h1m2 0h1m176 0h1m-179 1h1m-1 1h1m-2 1h1m179 0h1m-182 1h2m168 0h1m10 0h1m160 2h1m-162 2h1m-14 6h1m-1 1h1m173 1h1m7 0h1m-184 5h1m175 0h1m5 0h1m-183 1h1m14 0h1m-16 1h1m14 0h1m160 0h1m-177 1h1m14 0h1m160 0h1m5 1h1m-2 1h1m-182 1h1m179 0h1m-3 1h2m-166 1h1m-1 3h1m-13 2h1m10 1h1m-11 3h1m8 1h1m-10 2h1m-1 1h1m7 1h1m-2 3h1m-1 1h1m-1 1h1m-1 1h1m-5 2h1m1 0h1m-191 101h1m10 0h1m-15 1h1m16 0h1m3 2h1m-24 1h1m176 0h2m1 0h1m-184 1h2m178 0h1m6 0h1m171 0h1m3 0h1m-363 1h1m1 0h3m350 0h1m9 0h1m-361 1h1m23 0h1m148 0h1m10 0h1m164 0h1m-348 1h1m171 0h1m-171 1h1m170 0h1m172 0h1m-162 1h1m160 0h1m-322 1h1m148 0h1m172 0h1m15 0h1m-15 1h1m15 1h1m-15 1h1m0 1h1m-175 2h1m-150 2h1m160 0h1m177 0h1m-350 1h1m9 0h1m-1 1h1m-9 5h1m-1 1h1m158 0h1m-1 1h1m188 0h1m-190 1h1m-159 1h1m-1 1h1m157 0h1m-159 1h1m1 0h1m155 0h1m177 3h1m9 0h1m-190 3h1m-1 1h1m187 2h1m-1 1h1m-9 1h1m6 1h1m-176 1h1m-13 2h1m186 0h1m-188 1h1m179 0h1m6 0h1m-176 1h1m174 0h1m-188 1h1m186 0h1m-1 1h1m-2 1h1m-175 1h1m171 0h1m-3 1h1m1 0h1m-3 1h3m-185 1h1m11 0h1m170 0h2m-185 1h1m10 4h1m-1 1h1m-11 3h1m9 0h1m-2 2h1m-2 2h1m-1 1h1m-1 1h1m-1 1h1m-1 1h1m-5 1h1m2 1h1m-4 1h2m-2 2h1"/>
<path stroke="#57e" d="M0 0m476 35h1m-343 2h1m175 1h1m-11 1h1m12 3h1m169 1h1m-345 4h1m335 7h1m-343 2h1m0 8h1m341 0h1m-1 1h1m9 2h1m-1 1h1m-11 4h1m-1 6h1m1 9h1m3 7h1m-378 120h1m35 1h1m337 1h1m-18 2h1m-175 1h1m3 2h1m190 0h1m-177 1h1m161 3h1m-333 4h1m160 2h1m-1 1h1m-160 1h1m159 3h1m176 4h1m-165 2h1m176 3h1m-349 1h1m339 24h1m1 2h2m-176 14h1"/>
<path stroke="#13e" d="M0 0m116 36h1m177 0h1m190 51h1m-5 12h1m-378 113h1m365 14h1m-333 24h1m347 20h1"/>
<path stroke="#09c" d="M0 0m123 36h1m344 0h1m5 0h1m-8 1h1m8 0h1m-172 1h1m162 0h1m-164 1h2m-2 1h1m-171 1h1m169 0h1m3 0h1m0 2h1m-184 1h1m183 1h1m161 0h1m-344 1h1m176 1h1m1 0h1m2 0h1m161 0h1m-167 1h2m2 0h2m-1 1h1m161 0h1m-163 1h1m-1 1h1m-1 2h1m-179 4h3m176 1h1m0 4h1m-10 1h1m8 0h1m169 1h1m-1 1h1m-182 8h1m11 0h1m-1 1h1m-1 1h1m167 0h1m-181 1h1m11 1h1m-14 2h1m12 0h1m-14 1h1m12 0h1m162 0h1m-177 1h1m12 0h1m163 0h1m2 0h1m-4 1h1m2 0h1m-168 1h1m162 0h1m-1 1h1m-164 1h1m163 0h2m-179 1h1m11 1h1m-1 1h1m-1 2h1m-12 1h1m8 9h1m-8 1h1m4 2h1m-4 1h1m0 3h2m-2 1h2m-185 103h1m1 0h2m-9 1h2m-5 1h2m-2 1h1m-1 1h1m19 0h1m-20 2h1m175 0h1m176 0h1m1 0h2m-356 1h1m174 0h1m173 0h1m9 0h1m-356 2h2m177 0h1m177 1h1m-187 1h1m186 0h1m-11 3h1m0 1h1m11 0h1m-187 3h1m187 0h1m-347 4h1m0 4h1m334 0h1m-332 3h1m331 3h1m-1 1h1m-168 4h1m-12 1h1m184 4h1m-6 1h1m-171 2h1m174 1h1m-1 1h1m-5 1h1m3 0h1m-186 2h1m181 0h2m-185 2h1m10 1h1m-11 3h1m-1 3h1m8 1h1m-9 6h1m5 1h2m-3 1h1m-5 1h1m3 0h1m-1 1h1m-3 1h1m1 0h1m-2 1h2m-2 1h1"/>
<path stroke="#0ab" d="M0 0m124 36h3m342 0h1m1 0h3m-6 1h3m4 0h1m-7 1h1m-346 1h1m9 1h1m171 0h1m163 0h1m7 0h1m-173 1h3m162 0h1m-166 1h1m2 0h1m162 0h1m7 0h1m-175 1h1m174 0h1m-176 1h1m3 0h1m162 0h1m7 0h1m-173 1h2m-4 1h3m164 0h1m7 0h1m-352 1h1m176 0h1m1 1h1m164 0h1m7 0h1m-174 1h1m1 0h1m-1 1h1m-4 1h1m0 1h2m-179 1h1m177 0h2m-3 1h3m-175 1h1m171 0h1m2 0h1m171 0h1m-351 1h1m1 0h1m171 0h1m4 1h1m170 0h1m-1 1h1m-178 1h1m4 0h1m-1 1h1m-1 1h1m-7 1h1m-2 2h1m171 1h1m-1 1h1m-164 1h1m-1 1h1m168 2h1m-180 2h1m172 1h1m-1 1h1m5 0h1m-181 3h1m174 0h1m3 0h1m-5 1h1m3 0h1m-5 1h1m2 1h1m-2 1h1m-1 1h2m-3 1h3m-180 1h1m176 0h2m-179 1h1m11 1h1m-12 2h1m8 6h1m-1 1h1m-1 1h1m-1 1h1m-1 1h1m-7 1h1m-1 1h1m4 1h1m-2 1h1m-4 1h1m1 0h1m-2 1h2m-2 1h2m-1 1h1m-187 106h1m-5 1h2m-3 1h2m-2 1h1m-1 1h1m19 0h1m0 1h1m156 0h1m175 0h1m-333 1h1m329 0h1m-350 1h1m172 0h1m-170 1h1m168 0h1m173 0h1m10 0h1m-353 1h1m166 0h1m-152 1h1m151 0h1m173 0h1m-338 1h1m337 0h1m-327 1h1m160 0h1m165 0h1m11 0h1m-349 1h1m9 0h1m151 0h1m-162 1h1m0 1h1m335 0h1m-327 2h1m-1 1h1m-9 1h1m7 0h1m-1 1h1m-1 1h1m-7 2h1m4 1h1m-1 1h1m-5 2h1m2 0h1m331 1h1m-335 1h2m155 0h1m186 0h1m-188 1h1m-1 1h1m9 1h1m-1 2h1m168 1h1m6 0h1m-1 1h1m-188 2h1m185 0h1m-7 1h1m4 0h1m-6 1h1m4 0h1m-6 1h1m3 1h1m-175 1h1m170 0h1m2 0h1m-4 1h1m2 0h1m-185 1h1m-1 1h1m180 0h1m2 0h1m-3 1h3m-175 2h1m-11 1h1m9 0h1m-11 3h1m-1 1h1m9 1h1m-1 1h1m-2 2h1m-9 2h1m7 2h1m-1 1h1m-8 2h1m5 0h1m-3 1h1m-2 1h1m-1 1h1m-3 1h1m1 0h1m-1 1h1"/>
<path stroke="#1ab" d="M0 0m127 36h1m5 2h1m345 3h1m-354 2h1m2 2h1m8 3h1m172 0h1m0 3h1m163 0h1m-165 1h1m-174 1h1m170 0h1m174 1h1m-1 2h1m-9 2h1m7 1h1m-3 17h1m-4 4h1m1 1h1m-176 20h1m-176 111h1m343 6h2m-8 1h1m-164 7h1m1 2h1m-1 1h1m-10 1h1m8 0h1m-163 5h1m-6 1h1m334 0h1m6 21h1"/>
<path stroke="#1b9" d="M0 0m128 36h1m-4 1h1m6 0h1m341 0h1m-350 3h1m345 0h1m-338 1h1m343 0h1m-344 1h1m337 0h1m6 1h1m-345 1h1m337 0h1m-345 1h1m350 1h1m-7 1h1m-343 2h1m4 0h1m337 0h1m-344 2h1m4 3h1m173 2h2m-3 1h1m1 0h1m-4 1h3m-4 1h1m1 0h1m-4 2h1m3 0h1m165 1h1m-166 1h1m-8 3h1m7 0h1m169 0h1m-179 2h1m176 6h1m-169 1h1m163 0h1m-175 1h1m9 0h1m166 0h1m-3 1h1m1 0h1m-3 1h1m1 0h1m-179 1h1m-1 1h1m10 2h1m-12 2h1m9 1h1m-11 1h1m9 0h1m-1 1h1m-9 7h1m5 0h1m-2 1h1m0 1h1m-1 2h1m-5 1h1m0 2h2m-185 111h1m3 0h1m-9 2h1m-3 2h1m176 2h1m1 0h1m-177 1h1m347 0h1m-345 1h1m169 0h1m-169 1h1m167 0h1m-1 1h1m6 0h1m0 1h1m166 0h1m9 0h1m-339 1h1m338 0h1m-347 1h1m346 0h1m-339 1h1m152 0h1m6 0h1m178 1h1m-347 1h1m335 0h1m-176 1h1m8 2h1m0 2h1m166 0h1m10 0h1m-188 1h1m186 0h1m-343 1h1m341 0h1m-346 1h1m2 0h1m341 0h1m-344 2h1m332 0h1m-335 1h1m165 2h1m-1 1h1m168 0h1m7 3h1m-178 2h1m170 0h1m-181 1h1m181 1h3m-4 2h2m-184 1h1m182 0h1m-184 1h1m180 0h1m-182 1h1m182 0h1m-2 1h1m-174 5h1m-9 1h1m7 3h1m-1 1h1m-9 1h1m-1 1h1m-1 1h1m-1 1h1m-1 1h1m6 0h1m-1 4h1m-1 2h1m-5 1h1"/>
<path stroke="#1b8" d="M0 0m129 36h2m-5 1h1m345 0h2m-349 1h1m345 0h1m3 0h1m-351 1h1m7 0h1m337 0h1m5 1h1m-6 1h1m6 1h1m-6 1h1m5 1h1m-350 1h1m348 0h1m-349 1h1m342 0h1m-344 1h1m4 0h1m338 1h1m6 1h1m0 2h1m-349 4h2m339 1h1m-166 1h1m-3 2h1m0 1h1m166 1h1m5 0h1m-177 1h1m3 0h1m171 1h1m-178 1h1m5 0h1m0 3h1m-1 1h1m-9 1h1m-1 1h1m-1 1h1m-1 1h1m172 1h1m-1 1h1m0 2h2m-167 1h1m165 0h1m-167 1h1m165 0h1m-167 1h1m165 0h1m-167 1h1m-1 1h1m-2 2h1m-1 1h1m-11 1h1m0 3h1m-1 1h1m8 1h1m-10 1h1m8 0h1m-9 2h1m0 3h1m3 0h1m-1 1h2m-5 1h1m0 2h1m1 0h1m-185 112h3m-6 1h1m-4 2h1m16 1h1m-18 1h1m0 1h1m17 0h1m157 0h1m-175 1h1m172 0h1m174 0h7m-8 1h1m7 0h1m-178 1h1m168 0h1m0 1h1m-339 1h1m163 0h1m-163 1h1m336 0h1m-329 1h1m153 0h1m174 1h1m-168 1h1m0 1h1m-169 2h1m160 0h1m175 2h1m-336 1h1m4 0h1m-2 1h1m-4 1h1m1 2h1m155 0h1m8 0h1m167 0h1m-335 1h1m165 0h1m-1 1h1m-1 1h1m168 1h1m-170 2h1m168 0h1m7 1h1m-8 1h1m0 1h1m-1 2h1m4 0h1m-186 1h1m179 0h1m-1 1h2m-1 2h1m-1 1h2m-2 1h1m-174 2h1m-9 2h1m-1 1h1m7 2h1m-9 1h1m7 0h1m-9 1h1m7 0h1m-9 1h1m-1 1h1m7 1h1m-1 2h1m-3 3h1m-1 1h1m-6 1h1m0 2h1m4 0h1m-6 1h5"/>
<path stroke="#1aa" d="M0 0m131 36h1m-7 5h1m350 9h1m1 19h1m-1 3h1m5 0h1m-180 3h1m-181 137h1m21 15h1m328 3h1m10 0h1m0 2h1m-188 1h1m186 4h1m-188 1h1m186 0h1m-11 1h1m9 0h1m-188 1h1m186 0h1m-188 4h1m185 2h1"/>
<path stroke="#1ac" d="M0 0m470 36h1m-164 4h1m-171 5h1m166 44h1m-9 128h1m5 2h1m-6 5h1m190 18h1m-6 18h1m-174 3h1m-9 15h1"/>
<path stroke="#68e" d="M0 0m120 37h1m-1 1h1m-3 182h1m364 57h1"/>
<path stroke="#19c" d="M0 0m123 37h1m-1 1h1m182 0h1m170 0h1m-171 1h1m161 0h1m-346 1h1m183 0h1m-184 2h1m10 0h1m168 0h1m166 1h1m-162 1h1m-6 1h1m3 1h2m-2 1h2m-180 2h1m176 0h1m174 0h1m-346 1h1m336 2h1m-168 1h1m175 0h1m-177 1h1m-176 1h1m174 0h1m4 0h1m-177 1h1m169 1h1m-173 1h1m171 0h1m168 1h1m7 1h1m-179 1h1m6 0h1m0 3h1m-1 2h1m-11 4h1m-1 1h1m-2 3h1m173 1h1m-1 1h1m-163 2h1m166 1h1m-1 1h1m-181 2h1m-1 1h1m179 0h1m-168 1h1m165 0h1m-168 5h1m-1 2h1m-11 2h1m8 0h1m-10 1h1m0 4h1m-1 1h1m6 0h1m-8 1h1m0 2h1m3 2h1m-1 1h1m-185 106h1m-8 1h1m2 0h1m13 2h1m161 3h1m171 0h1m-171 1h1m168 0h1m-329 1h1m326 0h1m10 0h1m-338 1h1m160 1h1m-174 1h1m173 0h1m-10 1h1m-163 1h1m12 2h1m-10 2h1m9 0h1m326 1h1m-337 1h1m160 1h1m175 0h1m11 0h1m-341 3h1m-7 4h1m4 0h1m-5 3h1m0 1h1m166 1h1m176 0h1m-10 3h1m-180 1h1m10 0h1m-12 1h1m186 2h1m-2 1h1m-2 3h1m-1 1h1m-176 2h1m-11 2h1m-1 1h1m9 0h1m170 0h1m2 0h1m-175 5h1m-1 1h1m-11 2h1m-1 1h1m9 0h1m-2 3h1m-9 1h1m7 0h1m-9 1h1m-1 1h1m-1 1h1m7 0h1m-8 3h1m3 5h1"/>
<path stroke="#0aa" d="M0 0m124 37h1m345 1h1m5 0h1m-7 1h1m6 0h1m-342 4h1m172 0h1m163 0h1m-165 1h1m-3 1h1m173 0h1m-345 1h1m-6 2h1m178 1h1m-2 1h2m172 0h1m-346 1h1m170 0h2m-173 1h1m171 3h1m-176 1h1m173 0h1m-2 1h1m-2 3h1m5 2h1m-1 2h1m163 0h1m-1 3h1m-1 1h1m-164 1h1m168 0h1m-170 1h1m-1 1h1m168 0h1m-180 2h1m178 0h1m-180 1h1m173 2h1m-176 2h1m10 7h1m-12 2h1m0 5h1m8 0h1m-2 1h1m-8 3h1m0 2h1m4 2h1m-5 2h1m0 1h1m-179 109h1m-10 1h1m11 0h1m1 1h1m161 3h1m-178 1h1m174 0h1m3 0h1m171 0h1m2 0h1m3 1h1m-337 2h1m152 0h1m173 0h1m-339 1h1m338 0h1m-328 1h1m152 0h1m-163 1h1m170 1h1m166 0h1m-166 2h1m-10 1h1m186 0h1m-348 1h1m161 3h1m-160 2h1m4 0h1m329 1h1m-332 3h1m154 1h1m-158 1h2m165 5h1m167 0h1m-170 3h1m169 0h1m-171 1h1m169 0h1m-1 1h1m-181 1h1m9 0h1m-1 1h1m-1 1h1m173 0h1m-175 1h1m-11 2h1m181 0h2m-2 1h2m-2 1h2m-184 5h1m-1 1h1m7 8h1m-7 3h1m-1 1h1m0 2h1m1 0h1m-3 1h1m-1 1h1m0 1h1"/>
<path stroke="#2c6" d="M0 0m127 37h1m356 16h1m-349 162h1m0 1h1m-7 5h1m176 9h1m169 6h1m8 6h1m-187 9h1"/>
<path stroke="#3c4" d="M0 0m128 37h1m2 0h1m-6 3h1m1 3h1m3 0h1m346 5h3m-347 1h1m346 0h1m-346 1h1m-4 1h1m0 2h1m1 0h1m346 1h1m-1 1h1m-1 1h1m-1 1h1m-6 4h1m0 1h1m1 0h1m-2 1h2m-173 1h1m170 0h2m-174 1h1m1 0h1m169 0h2m-175 1h1m3 0h1m168 0h2m-175 1h1m3 0h1m168 0h2m-171 1h1m167 0h1m1 0h1m-171 1h1m167 0h1m1 0h1m-176 1h1m172 0h1m-174 1h1m5 0h1m166 0h2m-169 1h1m-7 1h1m5 0h1m-7 1h1m5 0h1m-7 1h1m5 0h1m-1 1h1m-8 1h1m-1 3h1m6 0h1m-8 1h1m6 0h1m-8 2h1m5 0h1m-7 1h1m5 1h1m-1 1h1m-1 1h1m-1 1h1m-6 1h1m4 0h1m-1 1h1m-5 1h1m3 0h1m-5 1h1m2 0h1m-4 1h1m1 0h1m-2 1h1m-182 119h3m-6 1h1m-2 1h1m10 0h1m-12 1h1m11 0h1m-13 1h1m12 0h1m-12 1h1m11 0h1m0 2h1m-1 1h2m334 0h1m1 0h1m-343 1h5m334 0h1m-336 1h1m2 0h1m337 0h1m-342 1h1m162 0h2m171 0h1m5 0h1m-342 1h1m2 0h1m157 0h1m2 0h1m-165 1h1m3 0h1m156 0h1m2 0h1m177 0h1m-342 1h1m2 0h2m155 0h1m2 0h1m171 0h1m-336 1h1m4 0h1m155 0h1m1 0h1m-164 1h1m161 0h4m170 0h1m-336 2h1m3 0h1m161 0h1m178 1h1m-344 1h1m164 0h1m168 0h1m-177 1h1m175 0h1m8 3h1m-9 1h1m7 0h1m-179 1h1m-1 1h1m170 1h1m-172 2h1m-1 1h1m171 0h1m4 0h1m-178 1h1m174 1h1m-177 2h1m-7 1h1m5 0h1m-1 1h1m-1 6h1m-7 1h1m-1 1h1m0 6h1m-1 1h1m3 0h1m-5 1h1m1 0h1m-3 1h2m-2 1h1m1 0h1m-3 1h1m1 0h1m-3 1h2"/>
<path stroke="#5d3" d="M0 0m129 37h2m1 3h1m-1 1h1m-4 2h1m350 6h2m-346 1h1m345 0h1m-348 1h1m1 0h1m340 0h1m-344 1h1m1 0h1m340 4h1m0 3h1m1 2h1m-172 5h1m-2 1h1m1 0h1m-1 1h1m-1 1h1m-4 1h1m2 0h1m-4 1h1m2 0h1m-4 1h1m3 0h1m-5 1h1m3 2h1m-1 1h1m-1 1h1m-1 3h1m-6 3h1m0 6h1m2 0h1m-3 1h2m-2 1h2m-184 123h1m-2 1h1m-1 2h1m9 0h1m-10 1h1m0 1h1m8 0h1m-1 1h1m-4 1h3m339 1h2m-2 1h1m2 0h1m-4 1h1m3 0h1m-5 1h1m3 0h1m-1 1h1m-4 1h1m4 0h1m-6 1h1m-335 1h3m-3 1h1m161 0h2m-164 1h1m1 0h1m332 0h1m7 0h1m-179 1h1m-6 1h1m5 1h1m177 0h1m-186 2h1m6 0h1m176 3h1m-184 1h1m182 0h1m-1 1h1m-6 1h1m4 0h1m-179 1h1m176 1h1m-183 1h1m180 0h1m-182 1h1m4 0h1m-6 1h1m4 6h1m-1 1h1m-2 3h1m-5 2h1m3 1h1m-1 1h1m-4 1h1m2 0h1m-4 1h1m-1 1h3"/>
<path stroke="#17d" d="M0 0m133 37h1m-10 4h1m12 2h1m334 2h1m-159 4h1m-183 3h1m6 3h1m175 1h1m-1 2h1m161 5h1m-1 4h1m-1 6h1m-175 4h1m180 5h1m-1 1h1m-183 1h1m175 0h1m-177 1h1m12 8h1m-8 16h1m-185 102h1m352 6h1m-349 5h1m3 2h1m13 1h1m328 9h1m-336 1h1m6 2h1m340 0h1m-1 1h1m-13 1h1m-166 6h1m-1 1h1m175 1h1m-1 1h1m-10 4h1m-1 1h1m-181 4h1m180 3h1m-170 3h1m-13 3h1m10 5h1m-11 1h1m9 2h1m-1 1h1"/>
<path stroke="#0b9" d="M0 0m471 37h1m-164 6h1m173 4h1m-350 5h1m0 2h1m0 1h1m175 1h1m-2 1h1m2 5h1m170 0h1m-7 1h1m-173 4h1m171 3h1m-1 1h1m-164 2h1m-1 1h1m164 5h1m-177 2h1m-1 2h1m10 0h1m-2 6h1m-9 6h1m0 2h1m4 2h1m-5 1h1m0 2h1m-187 111h1m-4 2h1m16 0h1m3 4h1m159 0h1m1 2h1m176 0h1m-183 3h1m-161 2h1m162 5h1m175 3h1m-335 3h1m2 0h1m332 7h1m-179 2h1m-1 1h1m184 2h1m-4 1h1m-3 1h1m-1 1h1m-1 2h1m-182 1h1m182 0h1m-175 2h1m-1 2h1m-9 1h1m7 9h1m-7 8h1m1 0h1m-2 1h1"/>
<path stroke="#47e" d="M0 0m478 37h1m-167 5h1m-8 5h1m-166 7h1m163 12h1m-1 1h1m-3 9h1m-179 145h1m361 4h1m-1 1h1m-15 1h1m15 2h1m-348 12h1m157 5h1m179 10h1m7 2h1m-178 19h1m-2 7h1"/>
<path stroke="#0ba" d="M0 0m124 38h1m182 4h2m-2 1h1m-1 1h2m165 1h1m-344 1h1m180 9h1m-4 3h1m3 0h1m-2 1h1m-1 1h1m-6 3h1m6 0h1m-9 2h1m7 0h1m169 3h1m-170 4h1m167 3h1m-2 4h1m-2 1h1m-167 4h1m-2 4h1m-3 7h1m-5 6h1m2 0h1m-2 1h1m-190 112h1m-2 3h1m352 1h2m-179 1h1m-1 1h1m5 0h1m167 0h1m-328 18h1m1 1h1m334 7h1m-171 4h1m173 0h2m-2 1h1m-1 1h1m-176 6h1m-9 13h1m0 3h1m3 3h2m-4 2h1m-1 1h1"/>
<path stroke="#2c5" d="M0 0m126 38h1m5 0h1m340 0h1m0 1h1m1 1h1m-351 1h1m6 0h1m340 0h1m3 2h1m-349 1h3m2 0h1m340 0h1m-1 1h1m-343 1h1m341 0h1m2 0h1m-346 1h1m1 0h1m340 0h2m1 0h1m-347 1h1m-1 1h1m2 0h1m-4 1h1m348 0h1m-346 1h1m-1 1h1m-3 2h2m340 4h1m5 0h1m-1 1h1m-176 3h1m173 0h1m-175 1h1m1 0h1m171 0h1m-1 3h1m-171 1h1m-7 1h1m5 0h1m-1 1h1m167 4h1m-1 1h1m-176 2h1m7 0h1m-10 3h1m8 1h1m-2 2h1m-8 6h1m-1 1h1m-1 1h1m6 0h1m-1 1h1m-7 1h1m4 0h1m-6 1h1m3 0h1m-5 1h1m2 0h1m-3 1h2m-184 118h1m5 0h1m-9 1h1m-2 1h1m14 2h1m0 1h1m-12 2h1m346 0h3m-178 1h1m172 0h1m4 0h1m-179 1h1m172 0h1m-338 1h2m162 0h2m2 0h1m-167 1h1m4 0h1m156 0h1m-162 1h1m4 0h1m155 0h1m-156 1h1m154 0h1m174 0h1m-176 1h1m4 0h1m178 0h1m-345 1h1m165 0h1m169 0h1m8 0h1m-9 2h1m8 0h1m-345 2h1m2 1h1m156 0h1m-1 6h1m176 0h1m7 0h1m-186 1h1m184 0h1m-1 1h1m-179 1h1m170 1h1m-179 1h1m-1 1h1m183 0h1m-185 1h1m-1 1h1m6 0h1m174 0h2m-184 1h1m-2 4h1m7 0h1m-1 1h1m-9 1h1m7 0h1m-9 1h1m6 2h1m-7 2h1m5 0h1m-7 1h1m5 0h1m-7 1h1m5 0h1m-7 1h1m5 0h1m-7 1h1m5 0h1m-7 1h1m5 0h1m-7 1h1m5 0h1m-7 1h1m5 0h1m-3 1h3m-7 1h1m3 0h2m-6 1h1m3 1h1m-4 3h1m2 0h1m-3 1h2"/>
<path stroke="#4c3" d="M0 0m127 38h1m4 1h1m-6 3h1m4 0h1m346 7h1m-345 1h1m342 0h1m4 1h1m-348 2h1m341 4h1m0 3h1m3 0h1m-2 1h1m-2 1h1m-172 3h1m-2 1h1m1 0h1m-4 2h1m172 0h1m-174 1h1m172 0h1m-170 1h1m168 0h1m-170 1h1m-6 5h1m5 1h1m-8 1h1m6 0h1m-8 1h1m6 0h1m-2 2h1m-1 1h1m-6 2h1m-1 1h1m-1 1h1m-1 1h1m-1 1h1m0 2h1m2 0h1m-1 1h1m-3 1h2m-2 1h1m-184 121h1m6 0h1m-9 1h1m-1 2h1m11 1h1m0 1h1m-10 1h1m8 0h1m-6 1h1m3 0h1m338 0h1m-337 1h1m334 0h1m2 0h1m-339 1h2m333 0h1m-336 1h3m-2 1h2m159 0h2m-163 1h3m158 0h2m172 0h1m4 0h1m-340 1h2m158 0h2m179 0h1m-342 1h4m157 0h1m180 0h1m-343 1h1m3 0h1m338 0h1m-344 1h1m3 0h1m160 0h1m-4 1h1m-162 1h1m1 0h1m157 0h1m174 0h1m8 1h1m-186 2h1m184 0h1m-1 1h1m-186 1h1m6 0h1m169 0h1m-171 1h1m170 2h1m-178 1h1m4 0h1m-6 1h1m4 0h1m-6 1h1m177 0h1m4 0h1m-184 1h1m178 0h1m0 1h1m1 0h1m-178 2h1m-7 3h1m-1 1h1m5 0h1m-7 1h1m5 0h1m-7 1h1m-1 1h1m-1 1h1m5 0h1m-7 1h1m4 2h1m-1 1h1m-5 1h1m-1 1h1m-1 1h1m-1 1h1m3 0h1m-1 1h1m-4 1h3m-3 1h1m-1 2h1m-1 1h1"/>
<path stroke="#8d2" d="M0 0m128 38h1m-2 2h1m0 2h1m351 8h2m1 3h1m-1 4h1m-4 2h1m-171 14h2m-3 1h3m-3 1h2m-2 1h2m-3 1h1m2 3h1m-1 1h1m-182 133h1m4 3h1m-1 1h1m345 10h1m4 4h1m-8 2h1m-1 1h1m-177 2h1m4 1h1m171 0h1m4 1h1m-179 1h1m174 1h1m1 0h1m-179 1h1m176 0h2m-178 1h1m175 0h2m-178 3h1m-4 6h1m2 0h1m-4 1h1m2 2h1m-2 2h1m-3 2h1m0 1h1"/>
<path stroke="#bd2" d="M0 0m129 38h1m1 2h1m-3 2h2m348 10h1m3 3h1m-4 3h1m1 0h1m-173 20h1m-3 1h1m-1 1h1m-1 1h1m1 1h1m-2 1h1m-182 133h1m-1 1h1m5 1h1m-2 1h1m346 10h1m-1 8h1m-177 2h1m2 0h1m176 0h1m-179 1h1m-2 5h2m-2 1h1m-1 1h1m-2 2h1m1 0h1m-2 4h2m-2 1h2m-2 1h2m-2 1h1"/>
<path stroke="#ad2" d="M0 0m130 38h1m0 1h1m-1 2h1m351 13h1m-1 2h1m-3 3h1m-173 18h1m-2 1h1m-1 4h1m1 1h1m-2 4h1m-177 128h1m0 1h1m344 13h1m1 0h3m-5 1h1m-1 1h1m5 0h1m-181 1h1m1 0h1m-4 1h1m-2 3h1m4 1h1m174 3h1m-179 4h2m-1 2h1m-1 1h1m-3 1h1m1 0h1m-3 2h1m1 0h1m-2 1h2m-2 1h2m-3 3h1m-1 1h1m1 0h1m-2 1h1"/>
<path stroke="#7d2" d="M0 0m131 38h1m-5 1h1m-1 2h1m3 1h1m347 16h1m3 0h1m-3 2h1m-172 8h1m-1 1h1m-1 3h1m-2 1h1m1 2h1m-4 1h1m2 0h1m-1 1h1m-5 1h1m-1 1h1m-1 1h1m3 2h1m-4 2h1m-1 3h1m0 2h2m-182 125h1m1 0h1m-5 2h1m-1 1h1m7 2h1m-5 1h5m342 4h1m-1 1h1m-1 2h3m-3 1h1m3 0h1m-5 1h1m5 0h1m-180 2h2m-3 1h1m-2 2h1m-1 4h1m182 0h1m-179 1h1m172 1h1m3 0h1m-182 1h1m180 0h1m-182 1h1m177 0h1m2 0h1m-182 1h1m-1 1h1m2 3h1m-5 2h1m-1 1h1m3 0h1m-5 1h1m3 0h1m-5 3h1m-1 1h1m-1 1h1m-1 1h1m2 1h1m-1 1h1m-3 1h1m1 0h1m-2 1h2"/>
<path stroke="#1b6" d="M0 0m472 38h1m1 0h1m-342 2h1m338 0h1m0 1h1m-340 1h1m339 0h1m3 0h1m-344 1h1m-7 1h1m3 2h1m2 0h1m343 0h1m-348 1h1m342 0h1m4 0h1m-5 1h1m4 0h1m-6 1h1m-1 1h1m-1 1h1m-1 1h1m-344 1h1m3 0h1m-4 1h1m173 7h1m1 1h1m167 2h1m-173 1h1m171 3h1m3 1h1m-170 2h1m165 3h1m1 0h1m-2 1h1m-177 3h1m8 4h1m-10 1h1m7 0h1m-9 3h1m7 0h1m-1 1h1m-8 4h1m0 4h1m0 1h2m-188 120h1m3 3h1m13 0h1m158 0h1m-159 1h1m157 0h1m173 0h2m3 0h1m-337 1h1m158 0h1m0 1h1m177 0h1m-346 1h1m7 0h1m155 0h1m173 0h1m7 0h1m0 1h1m-178 1h1m177 0h1m-345 1h1m165 0h1m-160 1h1m328 0h1m-176 1h1m-160 3h1m160 0h1m-1 1h1m6 0h1m-164 1h1m332 7h1m-178 2h1m-1 1h1m7 1h1m169 0h1m0 1h1m1 2h1m-175 3h1m-9 6h1m0 15h1m3 0h1m-3 4h4"/>
<path stroke="#2c4" d="M0 0m126 39h1m346 0h1m-1 1h3m-1 1h2m-344 1h1m341 0h3m-345 1h2m341 0h2m-345 1h2m342 0h2m-345 1h2m341 0h2m-344 1h1m341 0h2m-344 1h1m343 0h1m-345 1h2m341 0h1m-1 1h1m-345 3h1m348 9h1m-174 1h1m168 0h1m-170 1h1m169 0h1m-172 1h1m1 0h1m168 0h1m2 0h1m-176 1h1m3 0h1m167 0h1m2 0h1m-4 1h1m-1 1h1m-174 2h1m5 1h1m168 0h1m-1 1h1m-176 1h1m172 0h3m-169 5h1m-1 1h1m-1 1h1m-9 3h1m5 2h1m-7 1h1m-1 1h1m-1 1h1m0 3h1m-1 1h1m0 3h1m-182 119h1m3 0h1m2 1h1m-12 2h1m-1 1h1m0 1h2m1 1h1m11 0h1m0 1h1m-9 1h1m8 0h1m332 0h1m-341 1h1m7 0h1m336 0h1m-342 1h1m163 0h2m170 0h1m-174 1h1m2 0h1m170 1h1m6 0h1m0 1h1m-344 1h1m160 1h1m3 0h1m-4 1h1m4 0h1m-167 1h1m161 0h1m-1 1h1m-158 1h1m-4 1h1m334 2h1m-177 3h1m6 3h1m170 1h1m1 3h1m-174 1h1m173 0h1m1 0h1m-185 7h1m4 13h2m-3 1h1m0 2h1m-2 1h1m-3 1h3m-3 1h3m-2 1h2"/>
<path stroke="#cd1" d="M0 0m128 39h1m351 12h2m0 1h1m-4 1h1m-1 1h1m-1 1h1m1 3h1m-173 20h1m0 2h1m-1 1h1m-182 134h1m4 2h1m-5 2h1m349 11h1m3 0h1m-179 2h1m179 1h1m-179 1h1m177 1h1m-179 1h1m177 0h1m-2 2h1m-4 1h1m-178 1h1m-1 8h1m-1 2h1"/>
<path stroke="#ec1" d="M0 0m129 39h1m0 1h1m-2 1h1m351 11h1m-2 1h1m1 0h1m-3 2h1m1 0h1m-3 1h1m-352 160h1m3 0h1m-5 1h1m351 14h1m2 0h1m0 1h1m-180 1h1m173 0h1m-1 1h1m-1 1h1m4 2h1m-181 1h2m175 0h1m1 0h1"/>
<path stroke="#ed1" d="M0 0m130 39h1m-1 2h1m349 11h1m1 4h1m-2 1h1m-173 22h1m-1 1h1m-181 138h1m3 0h1m348 12h2m-4 2h1m-176 1h1m1 0h1m-4 2h1m-1 1h1m2 1h1m-3 2h2"/>
<path stroke="#19d" d="M0 0m134 39h1m175 3h1m-6 1h1m176 2h1m-10 1h1m-336 1h1m169 2h1m-1 1h1m4 2h1m-175 2h1m-3 4h1m176 1h1m-1 1h1m170 3h1m-171 2h1m-11 3h1m-1 1h1m10 3h1m-1 4h1m162 6h1m-165 10h1m-2 2h1m-3 8h1m-6 1h1m0 2h1m-12 111h1m-4 2h1m-1 1h1m173 2h1m-334 4h1m162 1h1m12 8h1m-164 1h1m162 0h1m-1 1h1m166 5h1m-179 5h1m10 4h1m174 2h1m-7 3h1m4 1h1m-176 3h1m174 1h1m-186 11h1m6 8h1m-1 1h1m-1 1h1m-1 1h1"/>
<path stroke="#28e" d="M0 0m468 39h1m-341 6h1m185 8h1m-8 6h1m-173 1h1m179 0h1m161 4h1m-1 2h1m-174 5h1m-2 17h1m-191 127h1m2 0h1m350 4h1m-161 5h1m167 6h1m13 5h1m-7 28h2m-183 19h1m1 4h1"/>
<path stroke="#1c6" d="M0 0m472 39h1m2 0h1m-1 4h1m3 1h1m-347 1h1m344 14h1m-169 2h1m-3 3h1m3 0h1m-6 2h1m5 0h1m169 1h1m-1 1h1m-5 1h1m-1 2h1m-166 1h1m-1 1h1m165 0h1m-167 1h1m-1 1h1m-10 5h1m-1 4h1m-1 1h1m7 3h1m-189 125h1m-4 4h1m0 1h1m176 2h1m0 2h1m5 6h1m-168 1h1m160 0h1m-155 1h1m154 0h1m174 1h1m-334 3h1m157 7h1m7 4h1m175 1h1m-178 5h1m-2 17h1m-2 1h1m-2 3h1"/>
<path stroke="#1b7" d="M0 0m476 39h1m-351 3h1m0 1h1m351 0h1m-5 1h1m-344 1h1m3 0h1m338 0h1m-343 3h1m3 0h1m0 2h1m345 2h1m-8 2h1m-1 1h1m-169 5h2m167 0h1m5 0h1m-174 1h1m-4 2h1m3 0h1m171 1h1m-172 1h1m165 0h1m4 0h1m-6 1h1m-1 1h1m-166 2h1m-1 1h1m168 0h1m-1 1h1m-5 1h1m3 0h1m-178 1h1m176 0h1m-178 1h1m-1 1h1m173 0h1m1 0h1m-178 2h1m-1 4h1m-1 1h1m7 2h1m-1 1h1m-9 2h1m-1 3h1m0 2h1m6 0h1m-2 1h1m-2 1h1m-2 1h1m-1 1h1m-3 1h3m-2 1h3m-3 1h3m-2 1h1m-178 113h1m-11 1h1m11 0h1m-14 1h1m-2 1h1m17 1h1m-15 2h1m172 0h1m1 0h1m-3 1h1m2 0h1m170 0h1m-343 1h1m167 0h1m173 0h1m6 0h1m-347 1h1m9 0h1m154 0h1m4 0h1m-167 2h1m161 0h1m5 0h1m-168 1h1m335 0h1m9 1h1m-346 1h1m166 0h1m-160 1h1m160 1h1m167 0h1m9 0h1m-340 2h1m339 0h1m-341 1h1m-5 2h1m1 0h1m164 0h1m-167 1h2m155 0h1m8 0h1m-167 1h2m155 0h1m8 0h1m-167 1h1m342 6h1m-178 3h1m171 0h1m-1 1h1m3 0h1m-178 1h1m172 0h4m-177 1h1m172 0h1m-182 1h1m7 5h1m-9 2h1m7 10h1m-2 2h1m-2 1h1m-6 2h1m4 1h1m-5 1h1m3 0h1"/>
<path stroke="#dd1" d="M0 0m128 40h1m-1 1h1m351 16h1m1 0h1m-173 22h1m-2 2h1m-1 1h1m-180 133h3m-2 4h2m348 11h1m-2 1h1m-177 3h1m181 0h1m-179 1h1m171 1h1m-177 1h1m-1 1h1m2 0h1m173 0h1m1 1h1m-179 10h1"/>
<path stroke="#eb1" d="M0 0m129 40h1m351 13h1m-2 1h1m1 0h1m-2 2h1m-352 160h1m1 0h1m0 1h1m-4 1h1m1 0h1m172 16h1m1 0h1m-1 2h1m-3 1h2m174 0h1m1 1h1"/>
<path stroke="#1c5" d="M0 0m477 41h1m1 4h1m-1 18h1m-173 4h1m171 3h1m2 3h1m-169 8h1m-2 8h1m-15 132h1m-1 1h1m174 2h1m-328 5h1m160 29h1m-7 9h1m-1 3h1m3 4h1"/>
<path stroke="#6d3" d="M0 0m130 43h1m347 9h1m4 7h1m-172 14h1m-1 1h1m-6 3h1m4 2h1m-2 5h1m-186 132h1m3 4h1m346 3h2m2 4h1m-173 8h1m-2 5h1m172 1h1"/>
<path stroke="#5c3" d="M0 0m131 43h1m348 18h1m-356 155h1m18 16h1"/>
<path stroke="#1ba" d="M0 0m128 44h1m179 1h1m-176 5h1m350 17h1m-181 15h1m-163 138h1m338 2h1m-183 5h1m1 18h1m6 26h1m-1 2h1"/>
<path stroke="#79e" d="M0 0m128 46h1"/>
<path stroke="#28d" d="M0 0m306 47h1m169 8h1m0 6h1m7 10h1m-2 6h1m-360 134h1m13 4h1m-2 14h1m2 5h1m158 2h1m-1 1h1m-1 7h1m187 1h1"/>
<path stroke="#3c3" d="M0 0m136 49h1m4 173h1m339 3h1m-178 5h1"/>
<path stroke="#09b" d="M0 0m309 50h1m-1 2h1m3 2h1m0 2h1m1 26h1m-11 15h1m2 9h1m-175 107h1m342 5h1m-10 3h1m13 2h1m-174 9h1m-168 8h1m343 9h1m-7 8h1m0 3h1"/>
<path stroke="#6d2" d="M0 0m479 50h1m-344 1h1m-1 1h1m346 0h1m-6 1h1m-1 1h1m-1 1h1m1 5h1m1 0h1m-173 7h1m-2 1h1m-1 1h1m-1 1h2m-2 1h2m-2 1h1m1 0h1m-4 2h1m-1 1h1m3 3h1m-6 3h1m-1 1h1m3 1h1m-4 2h1m2 0h1m-4 1h1m2 0h1m-1 1h1m-4 1h1m2 0h1m-184 126h1m3 0h1m-6 1h1m6 0h1m0 1h1m0 2h1m-1 1h1m-1 1h1m340 4h1m1 0h1m-3 1h1m1 0h1m-3 1h3m3 2h1m-340 2h2m332 0h1m6 0h1m-342 1h1m162 0h1m171 5h1m-177 3h1m176 0h1m-174 2h1m-1 1h1m174 1h1m2 0h1m-178 1h1m174 0h2m-177 1h1m-6 3h1m3 0h1m-1 1h1m-5 3h1m-1 1h1m3 3h1m-5 2h1m0 3h1m0 1h2m-2 1h2"/>
<path stroke="#9d2" d="M0 0m479 51h1m2 0h1m-4 6h1m2 2h1m-173 18h1m0 1h1m-1 1h1m-4 4h1m0 1h2m-2 1h2m-2 1h2m-1 1h1m-2 1h2m-183 127h1m-1 3h1m0 1h1m4 0h1m344 9h2m-2 4h1m-172 1h1m170 0h1m-177 2h1m182 2h1m-6 2h1m-178 1h1m177 0h1m1 0h1m-180 1h2m176 0h1m-179 1h1m-1 1h2m0 1h1m-4 1h1m2 0h1m-4 1h1m-1 1h1m-1 4h1m2 2h1m-4 1h1m2 0h1m-4 3h1m-1 1h2m-1 1h1"/>
<path stroke="#2b7" d="M0 0m477 53h1"/>
<path stroke="#fa1" d="M0 0m481 54h1m-351 162h1m-2 1h1m0 1h1m351 13h1m-3 1h1m-176 2h1m-2 1h1m1 0h1m-2 1h1"/>
<path stroke="#ea1" d="M0 0m481 55h1m0 176h1m-178 5h1"/>
<path stroke="#38e" d="M0 0m476 56h1m-11 163h1"/>
<path stroke="#cd2" d="M0 0m479 56h1"/>
<path stroke="#1a9" d="M0 0m477 57h1"/>
<path stroke="#33e" d="M0 0m302 67h1m173 34h1m-340 166h1"/>
<path stroke="#09d" d="M0 0m479 85h1m-169 21h1"/>
<path stroke="#0ac" d="M0 0m304 90h1"/>
<path stroke="#23d" d="M0 0m478 109h1m-344 145h1m1 16h1"/>
<path stroke="#29d" d="M0 0m118 216h1m188 9h1m-8 10h1m10 3h1"/>
<path stroke="#f91" d="M0 0m131 217h2m352 16h1m-180 2h1m174 1h1m3 0h1"/>
<path stroke="#4c4" d="M0 0m138 221h1"/>
<path stroke="#eff" d="M0 0m290 228h1m-161 60h1"/>
<path stroke="#0a9" d="M0 0m141 232h1"/>
<path stroke="#f81" d="M0 0m482 232h1m1 0h1m-4 1h1m-1 1h1m-1 1h1m0 2h1m1 0h1"/>
<path stroke="#f71" d="M0 0m483 232h1m1 2h1m-1 1h1m-3 2h1"/>
<path stroke="#e51" d="M0 0m482 233h1m1 0h1m-3 3h1m1 0h1"/>
<path stroke="#e41" d="M0 0m483 233h1m-2 1h1m-1 1h1"/>
<path stroke="#e21" d="M0 0m483 234h1m-1 1h1"/>
<path stroke="#e31" d="M0 0m484 234h1m-1 1h1m-2 1h1"/>
<path stroke="#48e" d="M0 0m311 258h1"/>
<path stroke="#58e" d="M0 0m311 259h1"/>
<path stroke="#39d" d="M0 0m303 282h1"/>
</g>
<rect x="54" y="0.5" width="120.5" height="120" fill="none" stroke="#4a4a4a" stroke-width="1.05"/>
<path d="M56.6 120.5v1.9M54 117.9h-1.9M58.9 120.5v1.9M54 115.5h-1.9M60.8 120.5v1.9M54 113.6h-1.9M62.4 120.5v1.9M54 112.0h-1.9M63.8 120.5v1.9M54 110.6h-1.9M65.0 120.5v1.9M54 109.4h-1.9M66.1 120.5v3.3M54 108.3h-3.3M73.3 120.5v1.9M54 101.1h-1.9M77.5 120.5v1.9M54 96.8h-1.9M80.5 120.5v1.9M54 93.8h-1.9M82.8 120.5v1.9M54 91.5h-1.9M84.7 120.5v1.9M54 89.6h-1.9M86.3 120.5v1.9M54 88.0h-1.9M87.7 120.5v1.9M54 86.6h-1.9M89.0 120.5v1.9M54 85.4h-1.9M90.0 120.5v3.3M54 84.2h-3.3M97.3 120.5v1.9M54 77.0h-1.9M101.5 120.5v1.9M54 72.8h-1.9M104.5 120.5v1.9M54 69.8h-1.9M106.8 120.5v1.9M54 67.4h-1.9M108.7 120.5v1.9M54 65.5h-1.9M110.3 120.5v1.9M54 63.9h-1.9M111.7 120.5v1.9M54 62.5h-1.9M112.9 120.5v1.9M54 61.3h-1.9M114.0 120.5v3.3M54 60.2h-3.3M121.2 120.5v1.9M54 53.0h-1.9M125.4 120.5v1.9M54 48.7h-1.9M128.4 120.5v1.9M54 45.7h-1.9M130.7 120.5v1.9M54 43.4h-1.9M132.6 120.5v1.9M54 41.5h-1.9M134.2 120.5v1.9M54 39.9h-1.9M135.6 120.5v1.9M54 38.5h-1.9M136.9 120.5v1.9M54 37.3h-1.9M137.9 120.5v3.3M54 36.1h-3.3M145.2 120.5v1.9M54 28.9h-1.9M149.4 120.5v1.9M54 24.7h-1.9M152.4 120.5v1.9M54 21.7h-1.9M154.7 120.5v1.9M54 19.3h-1.9M156.6 120.5v1.9M54 17.4h-1.9M158.2 120.5v1.9M54 15.8h-1.9M159.6 120.5v1.9M54 14.4h-1.9M160.8 120.5v1.9M54 13.2h-1.9M161.9 120.5v3.3M54 12.1h-3.3M169.1 120.5v1.9M54 4.9h-1.9M173.3 120.5v1.9" stroke="#333" stroke-width=".8" fill="none"/>
<text class="t" x="64.3" y="132.8">10<tspan class="s" dy="-4.3">1</tspan></text>
<text class="t" x="38.8" y="110.8">10<tspan class="s" dy="-4.3">1</tspan></text>
<text class="t" x="88.2" y="132.8">10<tspan class="s" dy="-4.3">2</tspan></text>
<text class="t" x="38.8" y="86.8">10<tspan class="s" dy="-4.3">2</tspan></text>
<text class="t" x="112.2" y="132.8">10<tspan class="s" dy="-4.3">3</tspan></text>
<text class="t" x="38.8" y="62.7">10<tspan class="s" dy="-4.3">3</tspan></text>
<text class="t" x="136.1" y="132.8">10<tspan class="s" dy="-4.3">4</tspan></text>
<text class="t" x="38.8" y="38.6">10<tspan class="s" dy="-4.3">4</tspan></text>
<text class="t" x="160.1" y="132.8">10<tspan class="s" dy="-4.3">5</tspan></text>
<text class="t" x="38.8" y="14.6">10<tspan class="s" dy="-4.3">5</tspan></text>
<text class="L" x="58" y="17.3">A</text>
<path d="M130.2 30.1H61.2V45.1H122.8M108 30.1V45.1M116.9 30.1V45.1M130.2 30L134.6 35L139.2 42.9L140.5 53.9L135.1 64.2M122.8 44.8L129 47.2L133 53L135.1 64.2M130.2 30L122.8 44.8M134.6 35L129 47.2M139.2 42.9L133 53" stroke="#1e1e24" stroke-width="1.05" fill="none" stroke-linejoin="round"/>
<text class="g" x="83" y="26.5">I</text>
<text class="g" x="111.5" y="25.5">II</text>
<text class="g" x="123.5" y="25.5">III</text>
<text class="g" x="138.5" y="28.3">IV</text>
<text class="g" x="145" y="36.8">V</text>
<text class="g" x="146.8" y="49.5">VI</text>
<rect x="227.5" y="0.5" width="120" height="120" fill="none" stroke="#4a4a4a" stroke-width="1.05"/>
<path d="M230.1 120.5v1.9M227.5 118.0h-1.9M232.4 120.5v1.9M227.5 115.6h-1.9M234.3 120.5v1.9M227.5 113.7h-1.9M235.9 120.5v1.9M227.5 112.1h-1.9M237.3 120.5v1.9M227.5 110.7h-1.9M238.5 120.5v1.9M227.5 109.5h-1.9M239.6 120.5v3.3M227.5 108.4h-3.3M246.8 120.5v1.9M227.5 101.2h-1.9M251.0 120.5v1.9M227.5 96.9h-1.9M254.0 120.5v1.9M227.5 93.9h-1.9M256.3 120.5v1.9M227.5 91.6h-1.9M258.2 120.5v1.9M227.5 89.7h-1.9M259.8 120.5v1.9M227.5 88.1h-1.9M261.2 120.5v1.9M227.5 86.7h-1.9M262.4 120.5v1.9M227.5 85.5h-1.9M263.5 120.5v3.3M227.5 84.4h-3.3M270.7 120.5v1.9M227.5 77.1h-1.9M274.9 120.5v1.9M227.5 72.9h-1.9M277.9 120.5v1.9M227.5 69.9h-1.9M280.2 120.5v1.9M227.5 67.5h-1.9M282.1 120.5v1.9M227.5 65.6h-1.9M283.7 120.5v1.9M227.5 64.0h-1.9M285.1 120.5v1.9M227.5 62.6h-1.9M286.3 120.5v1.9M227.5 61.4h-1.9M287.4 120.5v3.3M227.5 60.3h-3.3M294.6 120.5v1.9M227.5 53.1h-1.9M298.8 120.5v1.9M227.5 48.8h-1.9M301.8 120.5v1.9M227.5 45.8h-1.9M304.1 120.5v1.9M227.5 43.5h-1.9M306.0 120.5v1.9M227.5 41.6h-1.9M307.6 120.5v1.9M227.5 40.0h-1.9M309.0 120.5v1.9M227.5 38.6h-1.9M310.2 120.5v1.9M227.5 37.4h-1.9M311.3 120.5v3.3M227.5 36.2h-3.3M318.5 120.5v1.9M227.5 29.0h-1.9M322.7 120.5v1.9M227.5 24.8h-1.9M325.7 120.5v1.9M227.5 21.8h-1.9M328.0 120.5v1.9M227.5 19.4h-1.9M329.9 120.5v1.9M227.5 17.5h-1.9M331.5 120.5v1.9M227.5 15.9h-1.9M332.9 120.5v1.9M227.5 14.5h-1.9M334.1 120.5v1.9M227.5 13.3h-1.9M335.2 120.5v3.3M227.5 12.2h-3.3M342.4 120.5v1.9M227.5 5.0h-1.9M346.6 120.5v1.9" stroke="#333" stroke-width=".8" fill="none"/>
<text class="t" x="237.8" y="132.8">10<tspan class="s" dy="-4.3">1</tspan></text>
<text class="t" x="212.3" y="110.9">10<tspan class="s" dy="-4.3">1</tspan></text>
<text class="t" x="261.7" y="132.8">10<tspan class="s" dy="-4.3">2</tspan></text>
<text class="t" x="212.3" y="86.9">10<tspan class="s" dy="-4.3">2</tspan></text>
<text class="t" x="285.6" y="132.8">10<tspan class="s" dy="-4.3">3</tspan></text>
<text class="t" x="212.3" y="62.8">10<tspan class="s" dy="-4.3">3</tspan></text>
<text class="t" x="309.5" y="132.8">10<tspan class="s" dy="-4.3">4</tspan></text>
<text class="t" x="212.3" y="38.8">10<tspan class="s" dy="-4.3">4</tspan></text>
<text class="t" x="333.4" y="132.8">10<tspan class="s" dy="-4.3">5</tspan></text>
<text class="t" x="212.3" y="14.7">10<tspan class="s" dy="-4.3">5</tspan></text>
<text class="L" x="231.5" y="17.3">B</text>
<path d="M304 27.4H240.6V41.3H298.3M277.4 27.4V41.3M288.5 27.4V41.3M304 27.3L311.3 34.4L316.4 43.4L316.9 53L309.6 66.5M298.3 41.2L303.7 47.1L307.1 55.5L309.6 66.5M304 27.3L298.3 41.2M311.3 34.4L303.7 47.1M316.4 43.4L307.1 55.5" stroke="#1e1e24" stroke-width="1.05" fill="none" stroke-linejoin="round"/>
<text class="g" x="259.2" y="23.5">I</text>
<text class="g" x="282.6" y="23.7">II</text>
<text class="g" x="297.7" y="23.8">III</text>
<text class="g" x="313.3" y="26.8">IV</text>
<text class="g" x="322.8" y="37.2">V</text>
<text class="g" x="324.5" y="50.4">VI</text>
<rect x="398.5" y="0.5" width="120" height="120" fill="none" stroke="#4a4a4a" stroke-width="1.05"/>
<path d="M401.3 120.5v1.9M398.5 118.0h-1.9M403.6 120.5v1.9M398.5 115.6h-1.9M405.5 120.5v1.9M398.5 113.7h-1.9M407.1 120.5v1.9M398.5 112.1h-1.9M408.5 120.5v1.9M398.5 110.7h-1.9M409.7 120.5v1.9M398.5 109.5h-1.9M410.8 120.5v3.3M398.5 108.4h-3.3M418.0 120.5v1.9M398.5 101.2h-1.9M422.2 120.5v1.9M398.5 96.9h-1.9M425.1 120.5v1.9M398.5 93.9h-1.9M427.4 120.5v1.9M398.5 91.6h-1.9M429.3 120.5v1.9M398.5 89.7h-1.9M430.9 120.5v1.9M398.5 88.1h-1.9M432.3 120.5v1.9M398.5 86.7h-1.9M433.5 120.5v1.9M398.5 85.5h-1.9M434.6 120.5v3.3M398.5 84.4h-3.3M441.8 120.5v1.9M398.5 77.1h-1.9M446.0 120.5v1.9M398.5 72.9h-1.9M448.9 120.5v1.9M398.5 69.9h-1.9M451.2 120.5v1.9M398.5 67.5h-1.9M453.1 120.5v1.9M398.5 65.6h-1.9M454.7 120.5v1.9M398.5 64.0h-1.9M456.1 120.5v1.9M398.5 62.6h-1.9M457.3 120.5v1.9M398.5 61.4h-1.9M458.4 120.5v3.3M398.5 60.3h-3.3M465.6 120.5v1.9M398.5 53.1h-1.9M469.8 120.5v1.9M398.5 48.8h-1.9M472.7 120.5v1.9M398.5 45.8h-1.9M475.0 120.5v1.9M398.5 43.5h-1.9M476.9 120.5v1.9M398.5 41.6h-1.9M478.5 120.5v1.9M398.5 40.0h-1.9M479.9 120.5v1.9M398.5 38.6h-1.9M481.1 120.5v1.9M398.5 37.4h-1.9M482.2 120.5v3.3M398.5 36.2h-3.3M489.4 120.5v1.9M398.5 29.0h-1.9M493.6 120.5v1.9M398.5 24.8h-1.9M496.5 120.5v1.9M398.5 21.8h-1.9M498.8 120.5v1.9M398.5 19.4h-1.9M500.7 120.5v1.9M398.5 17.5h-1.9M502.3 120.5v1.9M398.5 15.9h-1.9M503.7 120.5v1.9M398.5 14.5h-1.9M504.9 120.5v1.9M398.5 13.3h-1.9M506.0 120.5v3.3M398.5 12.2h-3.3M513.2 120.5v1.9M398.5 5.0h-1.9M517.4 120.5v1.9" stroke="#333" stroke-width=".8" fill="none"/>
<text class="t" x="409" y="132.8">10<tspan class="s" dy="-4.3">1</tspan></text>
<text class="t" x="383.3" y="110.9">10<tspan class="s" dy="-4.3">1</tspan></text>
<text class="t" x="432.8" y="132.8">10<tspan class="s" dy="-4.3">2</tspan></text>
<text class="t" x="383.3" y="86.9">10<tspan class="s" dy="-4.3">2</tspan></text>
<text class="t" x="456.6" y="132.8">10<tspan class="s" dy="-4.3">3</tspan></text>
<text class="t" x="383.3" y="62.8">10<tspan class="s" dy="-4.3">3</tspan></text>
<text class="t" x="480.4" y="132.8">10<tspan class="s" dy="-4.3">4</tspan></text>
<text class="t" x="383.3" y="38.8">10<tspan class="s" dy="-4.3">4</tspan></text>
<text class="t" x="504.2" y="132.8">10<tspan class="s" dy="-4.3">5</tspan></text>
<text class="t" x="383.3" y="14.7">10<tspan class="s" dy="-4.3">5</tspan></text>
<text class="L" x="402.1" y="17.4">C</text>
<path d="M472.3 25.8H405.8V42H467.4M448.9 25.8V42M459.3 25.8V42M472.3 25.8L481.4 32.7L485.8 37L486.6 52L479 64.8M467.4 42L472.9 47.1L476.7 51.6L479 64.8M472.3 25.8L467.4 42M481.4 32.7L472.9 47.1M485.8 37L476.7 51.6" stroke="#1e1e24" stroke-width="1.05" fill="none" stroke-linejoin="round"/>
<text class="g" x="425.9" y="20.6">I</text>
<text class="g" x="454.6" y="21.2">II</text>
<text class="g" x="468" y="21.2">III</text>
<text class="g" x="481.3" y="27">IV</text>
<text class="g" x="491" y="33.6">V</text>
<text class="g" x="493.3" y="50">VI</text>
<rect x="53.5" y="183" width="121" height="121" fill="none" stroke="#4a4a4a" stroke-width="1.05"/>
<path d="M53.5 302.8h-1.9M57.0 304v1.9M53.5 299.9h-1.9M59.4 304v1.9M53.5 297.5h-1.9M61.3 304v1.9M53.5 295.6h-1.9M62.9 304v1.9M53.5 294.0h-1.9M64.3 304v1.9M53.5 292.6h-1.9M65.5 304v1.9M53.5 291.4h-1.9M66.6 304v3.3M53.5 290.3h-3.3M73.8 304v1.9M53.5 283.1h-1.9M78.1 304v1.9M53.5 278.8h-1.9M81.1 304v1.9M53.5 275.9h-1.9M83.4 304v1.9M53.5 273.5h-1.9M85.3 304v1.9M53.5 271.6h-1.9M86.9 304v1.9M53.5 270.0h-1.9M88.3 304v1.9M53.5 268.6h-1.9M89.5 304v1.9M53.5 267.4h-1.9M90.6 304v3.3M53.5 266.3h-3.3M97.9 304v1.9M53.5 259.1h-1.9M102.1 304v1.9M53.5 254.8h-1.9M105.1 304v1.9M53.5 251.9h-1.9M107.5 304v1.9M53.5 249.5h-1.9M109.4 304v1.9M53.5 247.6h-1.9M111.0 304v1.9M53.5 246.0h-1.9M112.4 304v1.9M53.5 244.6h-1.9M113.6 304v1.9M53.5 243.4h-1.9M114.7 304v3.3M53.5 242.3h-3.3M121.9 304v1.9M53.5 235.1h-1.9M126.2 304v1.9M53.5 230.8h-1.9M129.2 304v1.9M53.5 227.9h-1.9M131.5 304v1.9M53.5 225.5h-1.9M133.4 304v1.9M53.5 223.6h-1.9M135.0 304v1.9M53.5 222.0h-1.9M136.4 304v1.9M53.5 220.6h-1.9M137.6 304v1.9M53.5 219.4h-1.9M138.8 304v3.3M53.5 218.3h-3.3M146.0 304v1.9M53.5 211.1h-1.9M150.2 304v1.9M53.5 206.8h-1.9M153.2 304v1.9M53.5 203.9h-1.9M155.6 304v1.9M53.5 201.5h-1.9M157.5 304v1.9M53.5 199.6h-1.9M159.1 304v1.9M53.5 198.0h-1.9M160.5 304v1.9M53.5 196.6h-1.9M161.7 304v1.9M53.5 195.4h-1.9M162.8 304v3.3M53.5 194.3h-3.3M170.0 304v1.9M53.5 187.1h-1.9" stroke="#333" stroke-width=".8" fill="none"/>
<text class="t" x="64.8" y="316.3">10<tspan class="s" dy="-4.3">1</tspan></text>
<text class="t" x="38.3" y="292.8">10<tspan class="s" dy="-4.3">1</tspan></text>
<text class="t" x="88.8" y="316.3">10<tspan class="s" dy="-4.3">2</tspan></text>
<text class="t" x="38.3" y="268.8">10<tspan class="s" dy="-4.3">2</tspan></text>
<text class="t" x="112.9" y="316.3">10<tspan class="s" dy="-4.3">3</tspan></text>
<text class="t" x="38.3" y="244.8">10<tspan class="s" dy="-4.3">3</tspan></text>
<text class="t" x="136.9" y="316.3">10<tspan class="s" dy="-4.3">4</tspan></text>
<text class="t" x="38.3" y="220.8">10<tspan class="s" dy="-4.3">4</tspan></text>
<text class="t" x="161" y="316.3">10<tspan class="s" dy="-4.3">5</tspan></text>
<text class="t" x="38.3" y="196.8">10<tspan class="s" dy="-4.3">5</tspan></text>
<text class="L" x="58.2" y="199.2" style="font-size:16.7px">D</text>
<path d="M128.5 206.8H64.8V223.8H125M103.4 206.8V223.8M115.6 206.8V223.8M128.5 206.8L142 212.3L147.6 219.5L150.5 227.3L149.8 233.8L142 246.3M125 223.8L134.2 229.2L138.8 235.7L142 246.3M128.5 206.8L125 223.8M142 212.3L134.2 229.2M147.6 219.5L138.8 235.7" stroke="#1e1e24" stroke-width="1.05" fill="none" stroke-linejoin="round"/>
<text class="g" x="83.3" y="203">I</text>
<text class="g" x="109" y="202.8">II</text>
<text class="g" x="121.6" y="202.8">III</text>
<text class="g" x="138.9" y="205">IV</text>
<text class="g" x="149.5" y="211">V</text>
<text class="g" x="157.3" y="223">VI</text>
<rect x="227.5" y="183" width="122" height="121" fill="none" stroke="#4a4a4a" stroke-width="1.05"/>
<path d="M227.5 302.9h-1.9M230.0 304v1.9M227.5 300.0h-1.9M232.3 304v1.9M227.5 297.6h-1.9M234.2 304v1.9M227.5 295.7h-1.9M235.9 304v1.9M227.5 294.1h-1.9M237.3 304v1.9M227.5 292.7h-1.9M238.5 304v1.9M227.5 291.5h-1.9M239.6 304v3.3M227.5 290.4h-3.3M246.9 304v1.9M227.5 283.2h-1.9M251.1 304v1.9M227.5 278.9h-1.9M254.2 304v1.9M227.5 276.0h-1.9M256.5 304v1.9M227.5 273.6h-1.9M258.4 304v1.9M227.5 271.7h-1.9M260.1 304v1.9M227.5 270.1h-1.9M261.5 304v1.9M227.5 268.7h-1.9M262.7 304v1.9M227.5 267.5h-1.9M263.8 304v3.3M227.5 266.4h-3.3M271.1 304v1.9M227.5 259.2h-1.9M275.3 304v1.9M227.5 254.9h-1.9M278.4 304v1.9M227.5 252.0h-1.9M280.7 304v1.9M227.5 249.6h-1.9M282.6 304v1.9M227.5 247.7h-1.9M284.3 304v1.9M227.5 246.1h-1.9M285.7 304v1.9M227.5 244.7h-1.9M286.9 304v1.9M227.5 243.5h-1.9M288.0 304v3.3M227.5 242.4h-3.3M295.3 304v1.9M227.5 235.2h-1.9M299.5 304v1.9M227.5 230.9h-1.9M302.6 304v1.9M227.5 228.0h-1.9M304.9 304v1.9M227.5 225.6h-1.9M306.8 304v1.9M227.5 223.7h-1.9M308.5 304v1.9M227.5 222.1h-1.9M309.9 304v1.9M227.5 220.7h-1.9M311.1 304v1.9M227.5 219.5h-1.9M312.2 304v3.3M227.5 218.4h-3.3M319.5 304v1.9M227.5 211.2h-1.9M323.7 304v1.9M227.5 206.9h-1.9M326.8 304v1.9M227.5 204.0h-1.9M329.1 304v1.9M227.5 201.6h-1.9M331.0 304v1.9M227.5 199.7h-1.9M332.7 304v1.9M227.5 198.1h-1.9M334.1 304v1.9M227.5 196.7h-1.9M335.3 304v1.9M227.5 195.5h-1.9M336.4 304v3.3M227.5 194.4h-3.3M343.7 304v1.9M227.5 187.2h-1.9M347.9 304v1.9" stroke="#333" stroke-width=".8" fill="none"/>
<text class="t" x="237.8" y="316.3">10<tspan class="s" dy="-4.3">1</tspan></text>
<text class="t" x="212.3" y="292.9">10<tspan class="s" dy="-4.3">1</tspan></text>
<text class="t" x="262" y="316.3">10<tspan class="s" dy="-4.3">2</tspan></text>
<text class="t" x="212.3" y="268.9">10<tspan class="s" dy="-4.3">2</tspan></text>
<text class="t" x="286.2" y="316.3">10<tspan class="s" dy="-4.3">3</tspan></text>
<text class="t" x="212.3" y="244.9">10<tspan class="s" dy="-4.3">3</tspan></text>
<text class="t" x="310.4" y="316.3">10<tspan class="s" dy="-4.3">4</tspan></text>
<text class="t" x="212.3" y="220.9">10<tspan class="s" dy="-4.3">4</tspan></text>
<text class="t" x="334.6" y="316.3">10<tspan class="s" dy="-4.3">5</tspan></text>
<text class="t" x="212.3" y="196.9">10<tspan class="s" dy="-4.3">5</tspan></text>
<text class="L" x="231.1" y="199.2" style="font-size:16.7px">E</text>
<path d="M297.4 208.3H241.1V225.2H292M275.4 208.3V225.2M285 208.3V225.2M297.4 208.2L305.5 215.3L310.6 222L314.8 234.7L304.7 249.4M292 225.4L297.4 228.8L300.8 234.7L304.7 249.4M297.4 208.2L292 225.4M305.5 215.3L297.4 228.8M310.6 222L300.8 234.7" stroke="#1e1e24" stroke-width="1.05" fill="none" stroke-linejoin="round"/>
<text class="g" x="258" y="203.5">I</text>
<text class="g" x="280.7" y="203.5">II</text>
<text class="g" x="293.2" y="203.5">III</text>
<text class="g" x="308.6" y="207.2">IV</text>
<text class="g" x="316" y="215">V</text>
<text class="g" x="319.2" y="224.5">VI</text>
<rect x="396.5" y="183" width="122" height="121" fill="none" stroke="#4a4a4a" stroke-width="1.05"/>
<path d="M397.3 304v1.9M396.5 302.9h-1.9M400.4 304v1.9M396.5 300.0h-1.9M402.7 304v1.9M396.5 297.6h-1.9M404.6 304v1.9M396.5 295.7h-1.9M406.3 304v1.9M396.5 294.1h-1.9M407.7 304v1.9M396.5 292.7h-1.9M408.9 304v1.9M396.5 291.5h-1.9M410.0 304v3.3M396.5 290.4h-3.3M417.3 304v1.9M396.5 283.2h-1.9M421.5 304v1.9M396.5 278.9h-1.9M424.6 304v1.9M396.5 276.0h-1.9M426.9 304v1.9M396.5 273.6h-1.9M428.8 304v1.9M396.5 271.7h-1.9M430.5 304v1.9M396.5 270.1h-1.9M431.9 304v1.9M396.5 268.7h-1.9M433.1 304v1.9M396.5 267.5h-1.9M434.2 304v3.3M396.5 266.4h-3.3M441.5 304v1.9M396.5 259.2h-1.9M445.7 304v1.9M396.5 254.9h-1.9M448.8 304v1.9M396.5 252.0h-1.9M451.1 304v1.9M396.5 249.6h-1.9M453.0 304v1.9M396.5 247.7h-1.9M454.7 304v1.9M396.5 246.1h-1.9M456.1 304v1.9M396.5 244.7h-1.9M457.3 304v1.9M396.5 243.5h-1.9M458.4 304v3.3M396.5 242.4h-3.3M465.7 304v1.9M396.5 235.2h-1.9M469.9 304v1.9M396.5 230.9h-1.9M473.0 304v1.9M396.5 228.0h-1.9M475.3 304v1.9M396.5 225.6h-1.9M477.2 304v1.9M396.5 223.7h-1.9M478.9 304v1.9M396.5 222.1h-1.9M480.3 304v1.9M396.5 220.7h-1.9M481.5 304v1.9M396.5 219.5h-1.9M482.6 304v3.3M396.5 218.4h-3.3M489.9 304v1.9M396.5 211.2h-1.9M494.1 304v1.9M396.5 206.9h-1.9M497.2 304v1.9M396.5 204.0h-1.9M499.5 304v1.9M396.5 201.6h-1.9M501.4 304v1.9M396.5 199.7h-1.9M503.1 304v1.9M396.5 198.1h-1.9M504.5 304v1.9M396.5 196.7h-1.9M505.7 304v1.9M396.5 195.5h-1.9M506.8 304v3.3M396.5 194.4h-3.3M514.1 304v1.9M396.5 187.2h-1.9" stroke="#333" stroke-width=".8" fill="none"/>
<text class="t" x="408.2" y="316.3">10<tspan class="s" dy="-4.3">1</tspan></text>
<text class="t" x="381.3" y="292.9">10<tspan class="s" dy="-4.3">1</tspan></text>
<text class="t" x="432.4" y="316.3">10<tspan class="s" dy="-4.3">2</tspan></text>
<text class="t" x="381.3" y="268.9">10<tspan class="s" dy="-4.3">2</tspan></text>
<text class="t" x="456.6" y="316.3">10<tspan class="s" dy="-4.3">3</tspan></text>
<text class="t" x="381.3" y="244.9">10<tspan class="s" dy="-4.3">3</tspan></text>
<text class="t" x="480.8" y="316.3">10<tspan class="s" dy="-4.3">4</tspan></text>
<text class="t" x="381.3" y="220.9">10<tspan class="s" dy="-4.3">4</tspan></text>
<text class="t" x="505" y="316.3">10<tspan class="s" dy="-4.3">5</tspan></text>
<text class="t" x="381.3" y="196.9">10<tspan class="s" dy="-4.3">5</tspan></text>
<text class="L" x="401.8" y="199.2" style="font-size:16.7px">F</text>
<path d="M473.4 212.3H414.6V226.1H467.8M447.7 212.3V226.1M459.3 212.3V226.1M473.4 212.3L481.3 216.7L487 223.7L490.7 234.7L483.6 250.7M467.8 226.1L473.4 228.9L477.2 235.5L483.6 250.7M473.4 212.3L467.8 226.1M481.3 216.7L473.4 228.9M487 223.7L477.2 235.5" stroke="#1e1e24" stroke-width="1.05" fill="none" stroke-linejoin="round"/>
<text class="g" x="430.3" y="209">I</text>
<text class="g" x="453.5" y="208.8">II</text>
<text class="g" x="466.7" y="208.8">III</text>
<text class="g" x="482.3" y="210">IV</text>
<text class="g" x="493.2" y="220">V</text>
<text class="g" x="496.2" y="234.7">VI</text>
<path d="M27.5 -1L29.5 370.3" stroke="#000" stroke-width="3" fill="none"/>
<path d="M33.9 370.3H520" stroke="#000" stroke-width="3" fill="none"/>
<text class="b" x="257.7" y="384.1">Band 3</text>
<text class="y" transform="translate(10.9 212) rotate(-90)">α4-integrin</text>
</svg></body></html>
